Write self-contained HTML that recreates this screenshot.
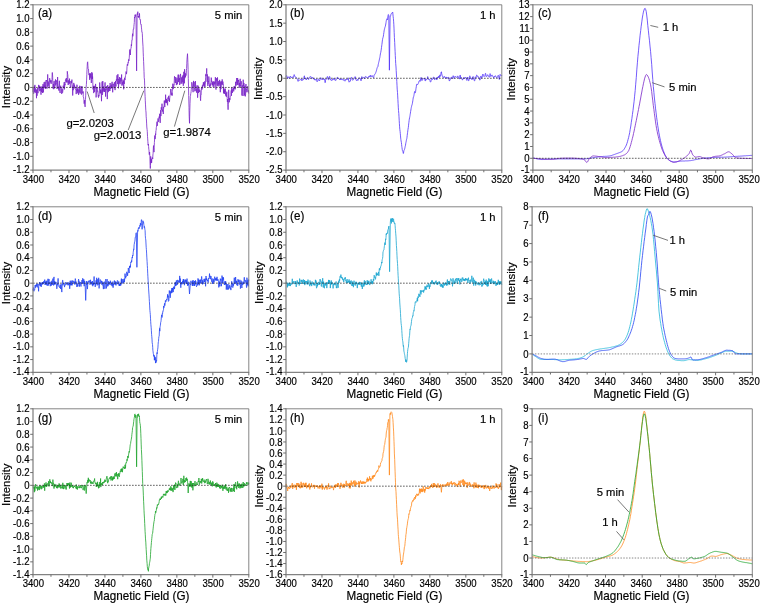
<!DOCTYPE html>
<html><head><meta charset="utf-8"><title>EPR spectra</title>
<style>html,body{margin:0;padding:0;background:#fff}svg{display:block}text{font-family:"Liberation Sans", Arial, sans-serif;fill:#000;stroke:#000;stroke-width:0.18px}</style>
</head><body>
<svg width="760" height="605" viewBox="0 0 760 605">
<rect width="760" height="605" fill="#fff"/>
<path d="M33.0,92.1 L33.2,87.9 L33.4,90.5 L33.6,93.8 L33.9,92.9 L34.1,89.7 L34.3,86.3 L34.5,91.8 L34.7,91.3 L34.9,84.9 L35.2,92.9 L35.4,92.3 L35.6,88.5 L35.8,88.9 L36.0,90.1 L36.2,90.5 L36.5,98.2 L36.7,89.7 L36.9,93.7 L37.1,95.7 L37.3,89.9 L37.5,88.1 L37.8,91.5 L38.0,93.2 L38.2,90.3 L38.4,89.1 L38.6,84.9 L38.8,86.1 L39.0,87.5 L39.3,85.7 L39.5,89.3 L39.7,91.2 L39.9,87.0 L40.1,86.5 L40.3,89.0 L40.6,90.4 L40.8,89.2 L41.0,94.7 L41.2,86.8 L41.4,86.7 L41.6,92.0 L41.9,88.6 L42.1,89.5 L42.3,86.5 L42.5,93.0 L42.7,90.2 L42.9,84.4 L43.2,83.9 L43.4,92.4 L43.6,88.7 L43.8,85.7 L44.0,86.7 L44.2,82.1 L44.4,88.1 L44.7,85.7 L44.9,87.4 L45.1,81.7 L45.3,84.6 L45.5,86.9 L45.7,89.0 L46.0,80.2 L46.2,80.8 L46.4,80.9 L46.6,80.1 L46.8,83.1 L47.0,88.6 L47.3,87.2 L47.5,84.3 L47.7,74.4 L47.9,85.8 L48.1,86.0 L48.3,85.4 L48.6,82.2 L48.8,81.5 L49.0,86.9 L49.2,88.3 L49.4,82.6 L49.6,78.1 L49.8,78.8 L50.1,80.1 L50.3,82.5 L50.5,81.4 L50.7,82.1 L50.9,80.0 L51.1,83.9 L51.4,82.1 L51.6,82.0 L51.8,80.4 L52.0,79.8 L52.2,72.5 L52.4,72.6 L52.7,77.3 L52.9,88.4 L53.1,87.4 L53.3,87.8 L53.5,84.0 L53.7,89.2 L54.0,81.2 L54.2,81.1 L54.4,88.0 L54.6,88.4 L54.8,87.5 L55.0,84.9 L55.2,82.2 L55.5,79.4 L55.7,85.4 L55.9,83.7 L56.1,84.0 L56.3,80.3 L56.5,82.2 L56.8,82.5 L57.0,89.0 L57.2,88.2 L57.4,87.1 L57.6,77.0 L57.8,83.2 L58.1,88.0 L58.3,88.6 L58.5,86.7 L58.7,90.0 L58.9,90.6 L59.1,85.6 L59.4,80.8 L59.6,88.9 L59.8,91.0 L60.0,93.0 L60.2,92.9 L60.4,87.2 L60.7,85.7 L60.9,88.0 L61.1,87.5 L61.3,87.6 L61.5,89.1 L61.7,93.9 L61.9,91.1 L62.2,89.1 L62.4,91.5 L62.6,92.7 L62.8,91.3 L63.0,88.8 L63.2,85.7 L63.5,88.1 L63.7,87.7 L63.9,84.2 L64.1,83.2 L64.3,82.0 L64.5,89.4 L64.8,83.9 L65.0,85.2 L65.2,83.5 L65.4,80.8 L65.6,79.5 L65.8,79.5 L66.1,80.9 L66.3,78.0 L66.5,82.2 L66.7,82.2 L66.9,80.4 L67.1,82.5 L67.3,71.3 L67.6,74.3 L67.8,74.7 L68.0,81.5 L68.2,85.0 L68.4,81.9 L68.6,80.4 L68.9,83.6 L69.1,81.9 L69.3,81.7 L69.5,78.6 L69.7,83.6 L69.9,81.0 L70.2,85.3 L70.4,87.2 L70.6,87.1 L70.8,87.6 L71.0,83.2 L71.2,81.1 L71.5,83.2 L71.7,81.9 L71.9,79.6 L72.1,83.2 L72.3,84.7 L72.5,88.3 L72.7,95.5 L73.0,86.7 L73.2,90.2 L73.4,85.0 L73.6,85.1 L73.8,82.9 L74.0,86.3 L74.3,88.4 L74.5,84.7 L74.7,87.9 L74.9,87.6 L75.1,86.8 L75.3,87.5 L75.6,88.3 L75.8,90.0 L76.0,89.7 L76.2,94.1 L76.4,90.1 L76.6,90.9 L76.9,84.7 L77.1,84.9 L77.3,93.3 L77.5,89.2 L77.7,89.5 L77.9,91.6 L78.1,88.3 L78.4,91.2 L78.6,94.9 L78.8,91.3 L79.0,90.1 L79.2,90.2 L79.4,92.5 L79.7,85.8 L79.9,87.8 L80.1,93.6 L80.3,93.1 L80.5,91.6 L80.7,91.6 L81.0,86.3 L81.2,90.3 L81.4,94.6 L81.6,94.5 L81.8,91.4 L82.0,86.2 L82.3,91.9 L82.5,92.5 L82.7,92.3 L82.9,93.4 L83.1,91.4 L83.3,96.8 L83.5,97.0 L83.8,98.9 L84.0,100.2 L84.2,103.7 L84.4,100.2 L84.6,103.6 L84.8,105.1 L85.1,106.9 L85.3,104.2 L85.5,99.5 L85.7,95.2 L85.9,90.5 L86.1,87.2 L86.4,84.3 L86.6,80.2 L86.8,74.5 L87.0,69.8 L87.2,66.5 L87.4,62.7 L87.7,61.8 L87.9,65.7 L88.1,68.6 L88.3,68.9 L88.5,69.0 L88.7,73.3 L88.9,74.8 L89.2,75.2 L89.4,73.4 L89.6,79.8 L89.8,75.6 L90.0,73.7 L90.2,77.7 L90.5,73.5 L90.7,75.8 L90.9,79.1 L91.1,79.0 L91.3,83.0 L91.5,79.6 L91.8,72.1 L92.0,78.7 L92.2,73.3 L92.4,78.9 L92.6,76.6 L92.8,82.9 L93.1,89.4 L93.3,86.6 L93.5,85.9 L93.7,93.1 L93.9,90.4 L94.1,86.1 L94.3,88.8 L94.6,91.9 L94.8,89.4 L95.0,85.8 L95.2,88.2 L95.4,85.1 L95.6,83.9 L95.9,89.4 L96.1,97.4 L96.3,94.5 L96.5,90.1 L96.7,87.6 L96.9,88.5 L97.2,87.0 L97.4,91.3 L97.6,90.8 L97.8,92.7 L98.0,93.5 L98.2,96.6 L98.5,97.6 L98.7,95.0 L98.9,96.3 L99.1,95.4 L99.3,90.8 L99.5,90.4 L99.7,82.5 L100.0,88.0 L100.2,93.2 L100.4,89.9 L100.6,91.0 L100.8,93.3 L101.0,89.5 L101.3,95.5 L101.5,101.2 L101.7,91.5 L101.9,91.0 L102.1,81.7 L102.3,94.9 L102.6,93.6 L102.8,81.1 L103.0,92.1 L103.2,90.2 L103.4,86.4 L103.6,89.7 L103.9,90.8 L104.1,89.9 L104.3,88.4 L104.5,92.0 L104.7,88.1 L104.9,84.1 L105.1,82.4 L105.4,91.0 L105.6,96.6 L105.8,89.1 L106.0,90.3 L106.2,88.9 L106.4,88.2 L106.7,86.2 L106.9,90.6 L107.1,93.4 L107.3,99.1 L107.5,94.3 L107.7,85.1 L108.0,90.2 L108.2,91.7 L108.4,92.1 L108.6,87.2 L108.8,88.0 L109.0,91.1 L109.3,86.5 L109.5,86.3 L109.7,86.2 L109.9,91.0 L110.1,83.0 L110.3,85.3 L110.5,87.8 L110.8,89.0 L111.0,87.7 L111.2,85.0 L111.4,87.9 L111.6,83.7 L111.8,83.7 L112.1,81.8 L112.3,83.5 L112.5,87.5 L112.7,92.3 L112.9,86.2 L113.1,83.7 L113.4,85.0 L113.6,84.7 L113.8,87.5 L114.0,88.1 L114.2,88.3 L114.4,82.2 L114.7,84.9 L114.9,87.9 L115.1,90.1 L115.3,86.0 L115.5,81.0 L115.7,83.6 L116.0,86.4 L116.2,80.5 L116.4,79.4 L116.6,80.7 L116.8,80.2 L117.0,75.3 L117.2,80.9 L117.5,82.3 L117.7,84.1 L117.9,74.2 L118.1,80.1 L118.3,78.9 L118.5,88.3 L118.8,82.2 L119.0,80.4 L119.2,83.5 L119.4,81.0 L119.6,77.0 L119.8,80.5 L120.1,84.2 L120.3,83.3 L120.5,78.9 L120.7,77.9 L120.9,81.0 L121.1,81.5 L121.4,79.7 L121.6,74.5 L121.8,83.8 L122.0,85.7 L122.2,82.2 L122.4,84.5 L122.6,83.1 L122.9,80.5 L123.1,79.6 L123.3,82.7 L123.5,80.8 L123.7,89.3 L123.9,81.3 L124.2,84.0 L124.4,83.0 L124.6,77.8 L124.8,79.4 L125.0,80.1 L125.2,78.3 L125.5,75.5 L125.7,75.3 L125.9,74.0 L126.1,71.5 L126.3,73.7 L126.5,74.0 L126.8,71.2 L127.0,66.5 L127.2,65.1 L127.4,64.1 L127.6,65.7 L127.8,65.1 L128.0,62.6 L128.3,63.1 L128.5,60.2 L128.7,59.4 L128.9,60.9 L129.1,59.3 L129.3,57.1 L129.6,52.0 L129.8,49.5 L130.0,53.0 L130.2,53.2 L130.4,55.0 L130.6,50.0 L130.9,48.4 L131.1,48.1 L131.3,44.5 L131.5,45.9 L131.7,43.0 L131.9,40.1 L132.2,40.1 L132.4,35.5 L132.6,33.7 L132.8,36.3 L133.0,34.8 L133.2,30.0 L133.4,29.0 L133.7,29.1 L133.9,26.3 L134.1,24.3 L134.3,22.5 L134.5,17.1 L134.7,18.0 L135.0,14.8 L135.2,15.0 L135.4,16.5 L135.6,15.3 L135.8,14.5 L136.0,16.9 L136.6,70.9 L137.1,15.8 L137.3,13.5 L137.6,14.5 L137.8,11.7 L138.0,15.3 L138.2,17.1 L138.4,16.0 L138.6,17.6 L138.8,16.6 L139.1,16.9 L139.3,15.9 L139.5,13.4 L139.7,18.7 L139.9,19.4 L140.1,20.0 L140.4,19.7 L140.6,23.9 L140.8,24.3 L141.0,24.0 L141.2,24.5 L141.4,27.1 L141.7,29.9 L141.9,32.1 L142.1,32.1 L142.3,33.4 L142.5,37.9 L142.7,42.0 L143.0,46.4 L143.2,52.1 L143.4,56.7 L143.6,61.5 L143.8,66.1 L144.0,71.5 L144.2,77.3 L144.5,80.1 L144.7,85.7 L144.9,92.1 L145.1,96.4 L145.3,100.8 L145.5,104.9 L145.8,110.5 L146.0,112.0 L146.2,116.8 L146.4,118.8 L146.6,123.1 L146.8,127.0 L147.1,129.6 L147.3,131.6 L147.5,136.3 L147.7,138.9 L147.9,141.8 L148.1,145.2 L148.4,144.0 L148.6,146.5 L148.8,149.2 L149.0,150.1 L149.2,154.6 L149.4,154.6 L149.6,152.0 L149.9,156.8 L150.1,165.3 L150.3,168.5 L150.5,165.5 L150.7,156.4 L150.9,163.2 L151.2,162.9 L151.4,159.2 L151.6,162.8 L151.8,160.4 L152.0,158.0 L152.2,157.6 L152.5,157.6 L152.7,159.0 L152.9,154.9 L153.1,153.5 L153.3,148.9 L153.5,145.6 L153.8,150.2 L154.0,152.1 L154.2,147.2 L154.4,142.5 L154.6,139.0 L154.8,135.5 L155.0,139.1 L155.3,138.0 L155.5,133.7 L155.7,134.8 L155.9,130.7 L156.1,130.5 L156.3,127.7 L156.6,126.1 L156.8,124.3 L157.0,121.7 L157.2,125.9 L157.4,123.6 L157.6,122.5 L157.9,120.0 L158.1,118.4 L158.3,121.0 L158.5,121.9 L158.7,121.3 L158.9,119.2 L159.2,116.6 L159.4,118.2 L159.6,113.8 L159.8,114.0 L160.0,117.9 L160.2,122.9 L160.4,114.4 L160.7,110.2 L160.9,116.1 L161.1,109.7 L161.3,107.3 L161.5,109.7 L161.7,108.5 L162.0,103.7 L162.2,106.3 L162.4,111.5 L162.6,109.9 L162.8,109.5 L163.0,110.7 L163.3,114.0 L163.5,107.2 L163.7,108.3 L163.9,106.1 L164.1,105.4 L164.3,100.6 L164.6,105.6 L164.8,107.0 L165.0,103.0 L165.2,100.5 L165.4,102.3 L165.6,94.7 L165.8,100.9 L166.1,103.1 L166.3,98.9 L166.5,102.7 L166.7,99.4 L166.9,101.6 L167.1,100.3 L167.4,104.3 L167.6,105.3 L167.8,97.6 L168.0,98.0 L168.2,98.6 L168.4,98.8 L168.7,95.8 L168.9,100.9 L169.1,100.5 L169.3,98.5 L169.5,101.8 L169.7,98.4 L170.0,95.7 L170.2,95.1 L170.4,94.0 L170.6,89.1 L170.8,89.3 L171.0,89.1 L171.3,91.8 L171.5,93.5 L171.7,95.1 L171.9,93.1 L172.1,95.7 L172.3,91.6 L172.5,86.6 L172.8,83.7 L173.0,85.3 L173.2,89.1 L173.4,86.7 L173.6,88.0 L173.8,84.6 L174.1,85.2 L174.3,80.1 L174.5,76.3 L174.7,77.7 L174.9,77.3 L175.1,81.9 L175.4,83.0 L175.6,78.3 L175.8,77.1 L176.0,82.2 L176.2,82.2 L176.4,85.1 L176.7,81.6 L176.9,78.2 L177.1,80.5 L177.3,82.7 L177.5,84.3 L177.7,79.2 L177.9,76.3 L178.2,74.6 L178.4,78.6 L178.6,82.1 L178.8,74.8 L179.0,78.5 L179.2,79.8 L179.5,78.2 L179.7,85.0 L179.9,80.3 L180.1,78.9 L180.3,76.7 L180.5,73.9 L180.8,77.2 L181.0,83.8 L181.2,80.2 L181.4,77.5 L181.6,77.6 L181.8,82.7 L182.1,83.5 L182.3,76.9 L182.5,76.4 L182.7,78.6 L182.9,81.9 L183.1,74.9 L183.3,85.8 L183.6,80.6 L183.8,71.8 L184.0,76.8 L184.2,77.2 L184.4,83.3 L184.6,69.2 L184.9,78.2 L185.1,76.2 L185.3,75.8 L185.5,77.0 L185.7,73.3 L185.9,75.7 L186.2,73.5 L186.4,70.8 L186.6,68.5 L186.8,63.8 L187.0,59.3 L187.5,53.7 L187.9,62.4 L188.1,69.4 L188.3,78.4 L188.5,86.1 L188.7,95.6 L189.0,107.3 L189.2,116.2 L189.5,123.3 L189.8,110.5 L190.0,103.3 L190.3,96.3 L190.5,95.8 L190.7,93.5 L190.9,93.3 L191.1,91.4 L191.3,89.3 L191.6,86.3 L191.8,82.2 L192.0,84.1 L192.2,83.9 L192.4,86.0 L192.6,87.4 L192.9,90.0 L193.1,92.2 L193.3,86.1 L193.5,80.9 L193.7,84.2 L193.9,86.7 L194.1,81.9 L194.4,87.2 L194.6,89.4 L194.8,91.3 L195.0,90.5 L195.2,87.0 L195.4,81.1 L195.7,87.1 L195.9,90.7 L196.1,89.8 L196.3,89.3 L196.5,92.6 L196.7,87.7 L197.0,85.4 L197.2,86.2 L197.4,87.9 L197.6,97.7 L197.8,94.3 L198.0,85.6 L198.3,86.3 L198.5,93.0 L198.7,89.9 L198.9,89.5 L199.1,88.5 L199.3,89.8 L199.5,91.8 L199.8,90.4 L200.0,90.3 L200.2,92.1 L200.4,98.4 L200.6,100.7 L200.8,95.4 L201.1,95.2 L201.3,89.9 L201.5,87.6 L201.7,88.5 L201.9,89.7 L202.1,87.9 L202.4,85.4 L202.6,88.3 L202.8,84.7 L203.0,84.2 L203.2,84.3 L203.4,82.1 L203.7,85.7 L203.9,83.0 L204.1,86.4 L204.3,86.5 L204.5,85.5 L204.7,81.4 L204.9,87.0 L205.2,82.8 L205.4,82.9 L205.6,77.2 L205.8,74.3 L206.0,76.0 L206.2,73.8 L206.5,73.1 L206.7,68.4 L206.9,75.3 L207.1,81.8 L207.3,74.4 L207.5,79.0 L207.8,85.9 L208.0,82.5 L208.2,83.6 L208.4,81.0 L208.6,81.8 L208.8,76.5 L209.1,79.0 L209.3,85.6 L209.5,86.4 L209.7,85.0 L209.9,87.7 L210.1,83.9 L210.3,83.5 L210.6,85.7 L210.8,85.0 L211.0,81.2 L211.2,77.6 L211.4,77.8 L211.6,81.7 L211.9,80.9 L212.1,84.5 L212.3,82.7 L212.5,85.0 L212.7,81.8 L212.9,86.4 L213.2,86.0 L213.4,82.6 L213.6,81.4 L213.8,87.0 L214.0,86.9 L214.2,82.2 L214.5,81.7 L214.7,84.4 L214.9,82.5 L215.1,83.2 L215.3,77.1 L215.5,77.6 L215.7,86.7 L216.0,89.6 L216.2,81.9 L216.4,78.2 L216.6,80.4 L216.8,79.7 L217.0,84.1 L217.3,85.7 L217.5,77.4 L217.7,80.7 L217.9,81.2 L218.1,86.3 L218.3,83.3 L218.6,84.1 L218.8,81.1 L219.0,84.6 L219.2,85.5 L219.4,84.5 L219.6,79.9 L219.9,83.1 L220.1,87.2 L220.3,92.2 L220.5,87.6 L220.7,81.5 L220.9,89.2 L221.1,87.6 L221.4,82.8 L221.6,81.4 L221.8,84.6 L222.0,82.3 L222.2,79.4 L222.4,82.2 L222.7,84.7 L222.9,81.6 L223.1,83.6 L223.3,83.9 L223.5,93.4 L223.7,87.1 L224.0,91.4 L224.2,92.5 L224.4,89.4 L224.6,93.9 L224.8,90.6 L225.0,92.5 L225.3,88.6 L225.5,92.3 L225.7,95.6 L225.9,93.1 L226.1,93.0 L226.3,96.8 L226.6,94.6 L226.8,91.7 L227.0,94.7 L227.2,98.5 L227.4,101.9 L227.6,99.0 L227.8,104.9 L228.1,109.7 L228.3,104.2 L228.5,100.7 L228.7,89.8 L228.9,97.0 L229.1,102.3 L229.4,102.1 L229.6,98.1 L229.8,100.1 L230.0,99.4 L230.2,97.5 L230.4,96.3 L230.7,95.6 L230.9,94.5 L231.1,90.9 L231.3,90.3 L231.5,95.8 L231.7,87.6 L232.0,90.6 L232.2,89.4 L232.4,92.9 L232.6,90.8 L232.8,90.2 L233.0,89.7 L233.2,87.6 L233.5,88.1 L233.7,91.4 L233.9,89.1 L234.1,86.1 L234.3,86.0 L234.5,89.0 L234.8,88.7 L235.0,87.5 L235.2,89.4 L235.4,88.6 L235.6,81.8 L235.8,85.0 L236.1,84.8 L236.3,85.5 L236.5,79.6 L236.7,78.0 L236.9,83.0 L237.1,82.6 L237.4,84.7 L237.6,78.0 L237.8,80.2 L238.0,85.1 L238.2,80.1 L238.4,81.3 L238.6,79.9 L238.9,82.5 L239.1,86.5 L239.3,87.8 L239.5,82.9 L239.7,84.5 L239.9,86.0 L240.2,78.8 L240.4,84.2 L240.6,86.7 L240.8,86.6 L241.0,82.4 L241.2,81.2 L241.5,83.0 L241.7,84.3 L241.9,95.5 L242.1,88.6 L242.3,86.9 L242.5,85.4 L242.8,86.9 L243.0,96.0 L243.2,79.7 L243.4,86.4 L243.6,84.9 L243.8,82.9 L244.0,83.1 L244.3,86.8 L244.5,95.5 L244.7,91.1 L244.9,85.8 L245.1,90.7 L245.3,96.4 L245.6,94.9 L245.8,84.8 L246.0,84.0 L246.2,90.1 L246.4,89.4 L246.6,89.7 L246.9,92.3 L247.1,90.5 L247.3,88.6 L247.5,87.4 L247.7,86.3 L247.9,89.8 L248.2,91.7 L248.4,90.4 L248.6,93.4 L248.8,93.7" fill="none" stroke="#7824c8" stroke-width="0.8" stroke-linejoin="round"/>
<line x1="33.0" y1="87.45" x2="248.8" y2="87.45" stroke="#222" stroke-width="0.7" stroke-dasharray="1.7 1.3"/>
<path d="M33.0,4.8 H248.8 V170.1" fill="none" stroke="#777" stroke-width="0.9"/>
<path d="M33.0,4.35 V170.1 H249.25" fill="none" stroke="#828282" stroke-width="1.25"/>
<line x1="33.00" y1="170.1" x2="33.00" y2="173.1" stroke="#6e6e6e" stroke-width="1"/>
<text transform="translate(33.30,182.70) scale(0.93,1)" font-size="10.3" text-anchor="middle">3400</text>
<line x1="50.98" y1="170.1" x2="50.98" y2="172.29999999999998" stroke="#6e6e6e" stroke-width="1"/>
<line x1="68.97" y1="170.1" x2="68.97" y2="173.1" stroke="#6e6e6e" stroke-width="1"/>
<text transform="translate(69.26,182.70) scale(0.93,1)" font-size="10.3" text-anchor="middle">3420</text>
<line x1="86.95" y1="170.1" x2="86.95" y2="172.29999999999998" stroke="#6e6e6e" stroke-width="1"/>
<line x1="104.93" y1="170.1" x2="104.93" y2="173.1" stroke="#6e6e6e" stroke-width="1"/>
<text transform="translate(105.22,182.70) scale(0.93,1)" font-size="10.3" text-anchor="middle">3440</text>
<line x1="122.92" y1="170.1" x2="122.92" y2="172.29999999999998" stroke="#6e6e6e" stroke-width="1"/>
<line x1="140.90" y1="170.1" x2="140.90" y2="173.1" stroke="#6e6e6e" stroke-width="1"/>
<text transform="translate(141.18,182.70) scale(0.93,1)" font-size="10.3" text-anchor="middle">3460</text>
<line x1="158.88" y1="170.1" x2="158.88" y2="172.29999999999998" stroke="#6e6e6e" stroke-width="1"/>
<line x1="176.87" y1="170.1" x2="176.87" y2="173.1" stroke="#6e6e6e" stroke-width="1"/>
<text transform="translate(177.14,182.70) scale(0.93,1)" font-size="10.3" text-anchor="middle">3480</text>
<line x1="194.85" y1="170.1" x2="194.85" y2="172.29999999999998" stroke="#6e6e6e" stroke-width="1"/>
<line x1="212.83" y1="170.1" x2="212.83" y2="173.1" stroke="#6e6e6e" stroke-width="1"/>
<text transform="translate(213.10,182.70) scale(0.93,1)" font-size="10.3" text-anchor="middle">3500</text>
<line x1="230.82" y1="170.1" x2="230.82" y2="172.29999999999998" stroke="#6e6e6e" stroke-width="1"/>
<line x1="248.80" y1="170.1" x2="248.80" y2="173.1" stroke="#6e6e6e" stroke-width="1"/>
<text transform="translate(249.06,182.70) scale(0.93,1)" font-size="10.3" text-anchor="middle">3520</text>
<line x1="30.2" y1="170.10" x2="33.0" y2="170.10" stroke="#6e6e6e" stroke-width="1"/>
<text transform="translate(29.60,173.00) scale(0.93,1)" font-size="10.3" text-anchor="end">-1.2</text>
<line x1="30.2" y1="156.32" x2="33.0" y2="156.32" stroke="#6e6e6e" stroke-width="1"/>
<text transform="translate(29.60,159.92) scale(0.93,1)" font-size="10.3" text-anchor="end">-1.0</text>
<line x1="30.2" y1="142.55" x2="33.0" y2="142.55" stroke="#6e6e6e" stroke-width="1"/>
<text transform="translate(29.60,146.15) scale(0.93,1)" font-size="10.3" text-anchor="end">-0.8</text>
<line x1="30.2" y1="128.78" x2="33.0" y2="128.78" stroke="#6e6e6e" stroke-width="1"/>
<text transform="translate(29.60,132.38) scale(0.93,1)" font-size="10.3" text-anchor="end">-0.6</text>
<line x1="30.2" y1="115.00" x2="33.0" y2="115.00" stroke="#6e6e6e" stroke-width="1"/>
<text transform="translate(29.60,118.60) scale(0.93,1)" font-size="10.3" text-anchor="end">-0.4</text>
<line x1="30.2" y1="101.22" x2="33.0" y2="101.22" stroke="#6e6e6e" stroke-width="1"/>
<text transform="translate(29.60,104.82) scale(0.93,1)" font-size="10.3" text-anchor="end">-0.2</text>
<line x1="30.2" y1="87.45" x2="33.0" y2="87.45" stroke="#6e6e6e" stroke-width="1"/>
<text transform="translate(29.60,91.05) scale(0.93,1)" font-size="10.3" text-anchor="end">0</text>
<line x1="30.2" y1="73.67" x2="33.0" y2="73.67" stroke="#6e6e6e" stroke-width="1"/>
<text transform="translate(29.60,77.27) scale(0.93,1)" font-size="10.3" text-anchor="end">0.2</text>
<line x1="30.2" y1="59.90" x2="33.0" y2="59.90" stroke="#6e6e6e" stroke-width="1"/>
<text transform="translate(29.60,63.50) scale(0.93,1)" font-size="10.3" text-anchor="end">0.4</text>
<line x1="30.2" y1="46.12" x2="33.0" y2="46.12" stroke="#6e6e6e" stroke-width="1"/>
<text transform="translate(29.60,49.73) scale(0.93,1)" font-size="10.3" text-anchor="end">0.6</text>
<line x1="30.2" y1="32.35" x2="33.0" y2="32.35" stroke="#6e6e6e" stroke-width="1"/>
<text transform="translate(29.60,35.95) scale(0.93,1)" font-size="10.3" text-anchor="end">0.8</text>
<line x1="30.2" y1="18.57" x2="33.0" y2="18.57" stroke="#6e6e6e" stroke-width="1"/>
<text transform="translate(29.60,22.17) scale(0.93,1)" font-size="10.3" text-anchor="end">1.0</text>
<line x1="30.2" y1="4.80" x2="33.0" y2="4.80" stroke="#6e6e6e" stroke-width="1"/>
<text transform="translate(29.60,8.40) scale(0.93,1)" font-size="10.3" text-anchor="end">1.2</text>
<text transform="translate(141.50,195.80) scale(0.98,1)" font-size="11.9" text-anchor="middle">Magnetic Field (G)</text>
<text transform="translate(10.00,87.00) scale(0.9,1) rotate(-90)" font-size="11.4" text-anchor="middle">Intensity</text>
<text transform="translate(37.90,17.30) scale(0.95,1)" font-size="12.3" text-anchor="start">(a)</text>
<text transform="translate(214.80,18.70) scale(0.96,1)" font-size="11.7" text-anchor="start">5 min</text>
<text transform="translate(66.40,126.60) scale(0.96,1)" font-size="11.8" text-anchor="start">g=2.0203</text>
<text transform="translate(93.80,138.60) scale(0.96,1)" font-size="11.8" text-anchor="start">g=2.0013</text>
<text transform="translate(163.30,136.40) scale(0.96,1)" font-size="11.8" text-anchor="start">g=1.9874</text>
<line x1="87.20" y1="91.50" x2="94.20" y2="113.00" stroke="#555" stroke-width="0.8"/>
<line x1="143.80" y1="90.70" x2="128.20" y2="130.00" stroke="#555" stroke-width="0.8"/>
<line x1="184.80" y1="90.70" x2="174.40" y2="126.60" stroke="#555" stroke-width="0.8"/>
<path d="M286.0,76.7 L286.2,76.1 L286.4,75.8 L286.6,75.6 L286.9,75.8 L287.1,77.0 L287.3,78.3 L287.5,78.5 L287.7,77.9 L287.9,77.4 L288.2,77.1 L288.4,76.8 L288.6,76.9 L288.8,77.6 L289.0,78.3 L289.2,78.4 L289.5,78.1 L289.7,77.7 L289.9,77.2 L290.1,76.5 L290.3,76.1 L290.5,76.4 L290.8,77.1 L291.0,77.5 L291.2,77.4 L291.4,77.3 L291.6,77.6 L291.8,77.9 L292.0,77.6 L292.3,77.0 L292.5,76.8 L292.7,76.9 L292.9,77.3 L293.1,77.6 L293.3,77.5 L293.6,76.9 L293.8,75.8 L294.0,74.9 L294.2,74.6 L294.4,75.0 L294.6,75.7 L294.9,76.4 L295.1,77.0 L295.3,77.0 L295.5,77.0 L295.7,77.2 L295.9,77.5 L296.2,77.6 L296.4,77.7 L296.6,77.9 L296.8,78.0 L297.0,78.2 L297.2,78.8 L297.4,79.5 L297.7,80.0 L297.9,80.9 L298.1,81.4 L298.3,80.7 L298.5,79.7 L298.7,79.6 L299.0,80.0 L299.2,80.1 L299.4,80.1 L299.6,80.2 L299.8,80.2 L300.0,80.0 L300.3,79.9 L300.5,79.8 L300.7,79.5 L300.9,79.2 L301.1,78.8 L301.3,78.8 L301.6,79.7 L301.8,80.7 L302.0,80.9 L302.2,80.3 L302.4,79.6 L302.6,79.4 L302.8,79.5 L303.1,79.8 L303.3,79.8 L303.5,79.4 L303.7,78.9 L303.9,77.9 L304.1,76.5 L304.4,75.8 L304.6,77.2 L304.8,78.7 L305.0,78.7 L305.2,78.2 L305.4,78.2 L305.7,78.5 L305.9,79.1 L306.1,79.8 L306.3,80.0 L306.5,79.4 L306.7,78.6 L307.0,77.9 L307.2,77.6 L307.4,77.4 L307.6,77.5 L307.8,78.1 L308.0,78.7 L308.2,79.2 L308.5,79.6 L308.7,79.4 L308.9,78.9 L309.1,78.4 L309.3,78.1 L309.5,77.5 L309.8,76.9 L310.0,76.7 L310.2,76.9 L310.4,76.9 L310.6,76.6 L310.8,76.5 L311.1,76.9 L311.3,77.5 L311.5,78.2 L311.7,78.7 L311.9,78.5 L312.1,77.8 L312.4,77.3 L312.6,77.5 L312.8,78.1 L313.0,78.4 L313.2,78.1 L313.4,78.2 L313.7,78.3 L313.9,78.2 L314.1,78.8 L314.3,79.9 L314.5,80.1 L314.7,79.5 L314.9,79.1 L315.2,79.4 L315.4,79.8 L315.6,80.1 L315.8,80.2 L316.0,80.0 L316.2,79.3 L316.5,79.0 L316.7,79.7 L316.9,81.1 L317.1,81.8 L317.3,81.6 L317.5,81.2 L317.8,80.9 L318.0,80.2 L318.2,79.2 L318.4,78.8 L318.6,79.0 L318.8,79.2 L319.1,79.8 L319.3,80.8 L319.5,81.0 L319.7,80.4 L319.9,79.8 L320.1,79.6 L320.3,79.4 L320.6,78.6 L320.8,77.7 L321.0,77.8 L321.2,78.6 L321.4,79.0 L321.6,79.0 L321.9,79.5 L322.1,79.9 L322.3,79.6 L322.5,79.0 L322.7,78.8 L322.9,79.1 L323.2,79.4 L323.4,79.1 L323.6,78.6 L323.8,78.6 L324.0,79.4 L324.2,79.9 L324.5,79.5 L324.7,79.4 L324.9,81.1 L325.1,82.7 L325.3,82.2 L325.5,80.5 L325.7,79.5 L326.0,79.3 L326.2,79.1 L326.4,79.1 L326.6,79.2 L326.8,78.5 L327.0,77.3 L327.3,76.5 L327.5,76.6 L327.7,77.4 L327.9,78.2 L328.1,79.1 L328.3,79.7 L328.6,79.9 L328.8,79.4 L329.0,78.2 L329.2,77.2 L329.4,76.5 L329.6,76.3 L329.9,76.9 L330.1,78.1 L330.3,79.3 L330.5,79.8 L330.7,79.6 L330.9,79.6 L331.1,80.3 L331.4,80.4 L331.6,79.9 L331.8,79.9 L332.0,80.3 L332.2,80.2 L332.4,79.6 L332.7,79.1 L332.9,79.0 L333.1,79.4 L333.3,79.5 L333.5,79.0 L333.7,78.3 L334.0,78.2 L334.2,78.7 L334.4,79.6 L334.6,80.1 L334.8,80.0 L335.0,79.5 L335.3,79.7 L335.5,80.3 L335.7,80.6 L335.9,80.2 L336.1,79.8 L336.3,79.6 L336.5,79.3 L336.8,78.8 L337.0,78.1 L337.2,77.5 L337.4,77.2 L337.6,77.3 L337.8,78.1 L338.1,78.8 L338.3,79.0 L338.5,78.8 L338.7,78.6 L338.9,78.4 L339.1,78.7 L339.4,79.5 L339.6,79.7 L339.8,79.2 L340.0,79.0 L340.2,79.6 L340.4,79.8 L340.7,79.1 L340.9,78.6 L341.1,79.0 L341.3,79.4 L341.5,79.5 L341.7,79.6 L341.9,79.6 L342.2,79.3 L342.4,78.9 L342.6,78.8 L342.8,79.3 L343.0,80.0 L343.2,80.4 L343.5,80.1 L343.7,79.7 L343.9,79.6 L344.1,79.6 L344.3,79.7 L344.5,79.9 L344.8,80.6 L345.0,81.2 L345.2,80.6 L345.4,79.7 L345.6,79.4 L345.8,79.8 L346.1,80.0 L346.3,79.7 L346.5,79.3 L346.7,79.1 L346.9,79.4 L347.1,79.8 L347.3,79.6 L347.6,79.1 L347.8,78.5 L348.0,78.2 L348.2,77.8 L348.4,78.3 L348.6,80.0 L348.9,81.7 L349.1,82.2 L349.3,81.8 L349.5,81.3 L349.7,81.1 L349.9,81.0 L350.2,81.2 L350.4,81.2 L350.6,80.1 L350.8,78.5 L351.0,77.6 L351.2,77.5 L351.5,77.5 L351.7,77.5 L351.9,78.1 L352.1,79.1 L352.3,79.9 L352.5,80.1 L352.7,80.2 L353.0,80.2 L353.2,79.9 L353.4,79.5 L353.6,79.1 L353.8,79.1 L354.0,79.0 L354.3,78.4 L354.5,77.6 L354.7,77.1 L354.9,76.8 L355.1,76.6 L355.3,76.9 L355.6,78.0 L355.8,79.1 L356.0,79.9 L356.2,80.3 L356.4,80.5 L356.6,80.5 L356.9,80.5 L357.1,80.1 L357.3,79.5 L357.5,79.5 L357.7,80.1 L357.9,80.5 L358.1,80.1 L358.4,79.4 L358.6,79.0 L358.8,78.6 L359.0,78.3 L359.2,77.9 L359.4,77.7 L359.7,78.0 L359.9,78.5 L360.1,78.6 L360.3,78.4 L360.5,78.8 L360.7,79.8 L361.0,80.8 L361.2,80.4 L361.4,78.8 L361.6,77.2 L361.8,76.6 L362.0,76.8 L362.3,77.5 L362.5,78.2 L362.7,78.5 L362.9,78.2 L363.1,77.9 L363.3,77.6 L363.5,77.4 L363.8,77.3 L364.0,77.5 L364.2,78.1 L364.4,78.6 L364.6,78.5 L364.8,77.8 L365.1,77.1 L365.3,76.6 L365.5,76.4 L365.7,76.3 L365.9,76.5 L366.1,77.1 L366.4,77.4 L366.6,77.2 L366.8,77.1 L367.0,77.5 L367.2,78.0 L367.4,78.2 L367.7,78.0 L367.9,77.7 L368.1,77.5 L368.3,77.6 L368.5,77.4 L368.7,76.6 L369.0,76.0 L369.2,76.2 L369.4,76.8 L369.6,77.1 L369.8,76.7 L370.0,75.8 L370.2,75.1 L370.5,75.5 L370.7,76.4 L370.9,76.9 L371.1,76.5 L371.3,75.9 L371.5,75.8 L371.8,76.2 L372.0,76.2 L372.2,75.8 L372.4,75.7 L372.6,76.3 L372.8,77.0 L373.1,77.3 L373.3,77.5 L373.5,77.8 L373.7,77.6 L373.9,76.3 L374.1,75.1 L374.4,74.7 L374.6,74.7 L374.8,74.4 L375.0,74.1 L375.2,73.8 L375.4,73.4 L375.6,72.8 L375.9,72.3 L376.1,71.7 L376.3,71.0 L376.5,70.3 L376.7,69.6 L376.9,68.7 L377.2,67.8 L377.4,67.3 L377.6,67.1 L377.8,66.9 L378.0,66.0 L378.2,64.7 L378.5,63.4 L378.7,62.5 L378.9,61.7 L379.1,60.9 L379.3,59.9 L379.5,58.8 L379.8,57.7 L380.0,56.5 L380.2,55.2 L380.4,53.9 L380.6,52.9 L380.8,52.2 L381.0,50.9 L381.3,49.1 L381.5,47.4 L381.7,45.9 L381.9,44.5 L382.1,43.0 L382.3,41.0 L382.6,39.3 L382.8,38.1 L383.0,37.6 L383.2,36.9 L383.4,36.0 L383.6,34.4 L383.9,32.5 L384.1,30.9 L384.3,29.8 L384.5,29.0 L384.7,28.3 L384.9,27.5 L385.2,26.7 L385.4,26.0 L385.6,25.1 L385.8,23.9 L386.0,22.6 L386.2,21.4 L386.4,20.3 L386.7,19.4 L386.9,18.8 L387.1,19.0 L387.3,19.8 L387.5,19.7 L387.7,18.1 L388.0,16.0 L388.2,14.7 L388.4,14.5 L388.6,15.0 L388.8,15.5 L389.4,70.2 L390.1,16.3 L390.3,16.4 L390.6,15.8 L390.8,14.8 L391.0,14.2 L391.2,13.7 L391.4,13.6 L391.6,13.6 L391.8,13.4 L392.1,13.1 L392.3,12.6 L392.5,12.0 L392.7,12.3 L392.9,13.9 L393.1,16.2 L393.4,18.6 L393.6,21.2 L393.8,24.2 L394.0,28.1 L394.2,32.7 L394.4,37.6 L394.7,42.5 L394.9,47.1 L395.1,51.3 L395.3,55.6 L395.5,59.6 L395.7,63.4 L396.0,67.0 L396.2,70.5 L396.4,74.0 L396.6,77.6 L396.8,81.4 L397.0,85.3 L397.2,89.1 L397.5,92.6 L397.7,95.9 L397.9,99.6 L398.1,103.5 L398.3,107.2 L398.5,110.5 L398.8,113.6 L399.0,116.8 L399.2,120.3 L399.4,123.7 L399.6,126.8 L399.8,129.3 L400.1,131.4 L400.3,133.5 L400.5,135.9 L400.7,138.1 L400.9,139.7 L401.1,141.0 L401.4,142.6 L401.6,144.5 L401.8,146.3 L402.0,147.7 L402.2,149.2 L402.4,150.4 L402.6,151.0 L402.9,151.5 L403.1,152.5 L403.3,153.5 L403.5,153.3 L403.7,151.8 L403.9,150.6 L404.2,150.1 L404.4,149.7 L404.6,149.1 L404.8,148.3 L405.0,147.4 L405.2,146.4 L405.5,145.2 L405.7,143.8 L405.9,142.7 L406.1,141.8 L406.3,140.7 L406.5,139.7 L406.8,138.6 L407.0,137.2 L407.2,135.5 L407.4,133.9 L407.6,132.4 L407.8,130.9 L408.0,129.3 L408.3,127.6 L408.5,125.8 L408.7,123.9 L408.9,122.3 L409.1,120.7 L409.3,119.1 L409.6,117.8 L409.8,116.7 L410.0,115.5 L410.2,114.3 L410.4,113.1 L410.6,111.6 L410.9,110.0 L411.1,108.6 L411.3,107.5 L411.5,106.7 L411.7,105.9 L411.9,105.1 L412.2,104.3 L412.4,103.3 L412.6,102.1 L412.8,100.8 L413.0,99.4 L413.2,98.1 L413.4,97.1 L413.7,96.5 L413.9,95.6 L414.1,94.4 L414.3,93.1 L414.5,91.9 L414.7,91.4 L415.0,91.8 L415.2,92.5 L415.4,92.7 L415.6,91.5 L415.8,89.9 L416.0,88.3 L416.3,86.7 L416.5,85.1 L416.7,84.5 L416.9,84.0 L417.1,84.1 L417.3,84.6 L417.6,84.6 L417.8,84.4 L418.0,84.0 L418.2,83.6 L418.4,83.4 L418.6,82.8 L418.8,81.7 L419.1,81.1 L419.3,81.1 L419.5,80.8 L419.7,80.4 L419.9,80.8 L420.1,81.4 L420.4,80.7 L420.6,79.1 L420.8,77.9 L421.0,77.4 L421.2,77.6 L421.4,78.6 L421.7,80.0 L421.9,80.6 L422.1,80.5 L422.3,80.0 L422.5,79.3 L422.7,78.6 L423.0,78.5 L423.2,78.8 L423.4,78.8 L423.6,78.7 L423.8,78.9 L424.0,79.1 L424.3,78.5 L424.5,78.0 L424.7,78.5 L424.9,79.7 L425.1,80.8 L425.3,80.9 L425.5,80.0 L425.8,79.1 L426.0,79.1 L426.2,79.6 L426.4,79.8 L426.6,79.7 L426.8,79.6 L427.1,79.4 L427.3,78.6 L427.5,77.3 L427.7,76.6 L427.9,77.4 L428.1,78.4 L428.4,79.1 L428.6,79.6 L428.8,79.8 L429.0,79.6 L429.2,79.3 L429.4,79.4 L429.7,79.6 L429.9,80.2 L430.1,81.4 L430.3,81.9 L430.5,81.9 L430.7,81.9 L430.9,81.8 L431.2,80.1 L431.4,78.6 L431.6,78.2 L431.8,78.6 L432.0,79.1 L432.2,79.4 L432.5,79.5 L432.7,79.3 L432.9,78.6 L433.1,77.8 L433.3,77.2 L433.5,77.1 L433.8,77.3 L434.0,77.1 L434.2,77.4 L434.4,78.6 L434.6,79.7 L434.8,79.7 L435.1,79.1 L435.3,78.7 L435.5,78.8 L435.7,78.9 L435.9,78.4 L436.1,77.8 L436.3,77.9 L436.6,79.1 L436.8,79.9 L437.0,79.3 L437.2,78.1 L437.4,77.2 L437.6,77.0 L437.9,77.5 L438.1,78.0 L438.3,77.4 L438.5,76.3 L438.7,76.2 L438.9,77.0 L439.2,77.7 L439.4,77.2 L439.6,75.9 L439.8,74.9 L440.0,75.4 L440.2,76.2 L440.5,76.3 L440.7,75.5 L440.9,74.0 L441.1,72.1 L441.3,71.8 L441.5,71.9 L441.7,73.7 L442.0,74.8 L442.2,75.4 L442.4,76.0 L442.6,76.6 L442.8,77.2 L443.0,77.6 L443.3,77.8 L443.5,77.8 L443.7,77.5 L443.9,76.9 L444.1,76.4 L444.3,76.2 L444.6,76.5 L444.8,77.3 L445.0,77.9 L445.2,77.9 L445.4,77.7 L445.6,77.8 L445.9,78.3 L446.1,78.5 L446.3,78.0 L446.5,77.3 L446.7,77.0 L446.9,77.2 L447.1,77.6 L447.4,78.2 L447.6,78.4 L447.8,77.7 L448.0,77.1 L448.2,77.1 L448.4,77.3 L448.7,77.6 L448.9,78.5 L449.1,79.9 L449.3,81.0 L449.5,81.0 L449.7,80.5 L450.0,80.1 L450.2,79.7 L450.4,79.1 L450.6,78.3 L450.8,77.7 L451.0,77.3 L451.3,77.2 L451.5,77.5 L451.7,77.8 L451.9,78.2 L452.1,78.7 L452.3,78.6 L452.5,77.6 L452.8,76.6 L453.0,75.9 L453.2,75.7 L453.4,76.1 L453.6,77.2 L453.8,78.2 L454.1,78.5 L454.3,78.2 L454.5,77.8 L454.7,77.3 L454.9,76.5 L455.1,76.2 L455.4,76.6 L455.6,76.8 L455.8,76.7 L456.0,76.9 L456.2,77.1 L456.4,77.1 L456.7,77.2 L456.9,77.6 L457.1,77.7 L457.3,77.3 L457.5,76.5 L457.7,75.9 L457.9,76.1 L458.2,76.8 L458.4,77.4 L458.6,77.6 L458.8,77.7 L459.0,78.1 L459.2,78.8 L459.5,79.0 L459.7,77.9 L459.9,75.8 L460.1,75.1 L460.3,75.2 L460.5,77.1 L460.8,78.2 L461.0,78.2 L461.2,77.9 L461.4,77.6 L461.6,77.6 L461.8,78.2 L462.1,79.2 L462.3,80.0 L462.5,80.1 L462.7,79.6 L462.9,78.9 L463.1,78.6 L463.3,78.7 L463.6,78.4 L463.8,77.7 L464.0,77.3 L464.2,77.8 L464.4,78.5 L464.6,78.4 L464.9,78.1 L465.1,78.1 L465.3,77.9 L465.5,77.5 L465.7,77.2 L465.9,77.7 L466.2,78.6 L466.4,79.6 L466.6,80.2 L466.8,80.4 L467.0,80.0 L467.2,79.1 L467.5,77.8 L467.7,77.0 L467.9,77.6 L468.1,79.2 L468.3,80.5 L468.5,80.9 L468.7,80.8 L469.0,80.2 L469.2,79.0 L469.4,77.7 L469.6,76.5 L469.8,75.8 L470.0,76.3 L470.3,77.2 L470.5,77.9 L470.7,78.4 L470.9,78.5 L471.1,78.1 L471.3,78.0 L471.6,78.6 L471.8,79.5 L472.0,79.8 L472.2,79.2 L472.4,78.1 L472.6,77.0 L472.9,76.6 L473.1,76.6 L473.3,76.7 L473.5,76.9 L473.7,77.5 L473.9,79.0 L474.1,80.5 L474.4,80.7 L474.6,80.7 L474.8,80.7 L475.0,79.1 L475.2,77.4 L475.4,76.8 L475.7,77.1 L475.9,77.7 L476.1,77.6 L476.3,76.7 L476.5,75.6 L476.7,75.0 L477.0,75.3 L477.2,75.9 L477.4,76.0 L477.6,76.1 L477.8,76.8 L478.0,77.1 L478.3,76.8 L478.5,76.8 L478.7,77.3 L478.9,78.0 L479.1,78.1 L479.3,78.2 L479.6,79.0 L479.8,80.1 L480.0,80.1 L480.2,78.8 L480.4,77.2 L480.6,76.4 L480.8,76.2 L481.1,75.9 L481.3,76.4 L481.5,77.7 L481.7,78.3 L481.9,77.9 L482.1,77.3 L482.4,76.6 L482.6,75.4 L482.8,74.2 L483.0,74.0 L483.2,74.9 L483.4,75.8 L483.7,76.2 L483.9,76.6 L484.1,76.7 L484.3,76.5 L484.5,76.2 L484.7,75.9 L485.0,75.3 L485.2,74.2 L485.4,73.4 L485.6,73.3 L485.8,74.2 L486.0,76.1 L486.2,76.8 L486.5,76.7 L486.7,76.5 L486.9,76.3 L487.1,75.9 L487.3,75.3 L487.5,74.9 L487.8,74.7 L488.0,74.8 L488.2,75.5 L488.4,76.3 L488.6,76.5 L488.8,76.6 L489.1,77.0 L489.3,77.3 L489.5,76.7 L489.7,75.6 L489.9,74.3 L490.1,73.6 L490.4,74.4 L490.6,75.8 L490.8,76.5 L491.0,76.5 L491.2,76.3 L491.4,76.0 L491.6,75.4 L491.9,75.0 L492.1,74.9 L492.3,75.4 L492.5,76.0 L492.7,76.4 L492.9,76.5 L493.2,76.7 L493.4,77.2 L493.6,77.9 L493.8,77.9 L494.0,77.0 L494.2,76.3 L494.5,76.4 L494.7,76.7 L494.9,76.6 L495.1,76.1 L495.3,75.7 L495.5,75.8 L495.8,76.6 L496.0,77.2 L496.2,77.2 L496.4,77.1 L496.6,77.5 L496.8,77.8 L497.0,77.6 L497.3,77.0 L497.5,76.6 L497.7,76.3 L497.9,75.7 L498.1,75.3 L498.3,75.3 L498.6,75.9 L498.8,76.9 L499.0,78.2 L499.2,79.4 L499.4,79.4 L499.6,77.7 L499.9,75.5 L500.1,74.4 L500.3,74.7 L500.5,75.2 L500.7,75.3 L500.9,75.1 L501.2,75.4 L501.4,75.8 L501.6,75.8 L501.8,75.3" fill="none" stroke="#5032fa" stroke-width="0.8" stroke-linejoin="round"/>
<line x1="286.0" y1="78.27" x2="501.8" y2="78.27" stroke="#222" stroke-width="0.7" stroke-dasharray="1.7 1.3"/>
<path d="M286.0,4.8 H501.8 V170.1" fill="none" stroke="#777" stroke-width="0.9"/>
<path d="M286.0,4.35 V170.1 H502.25" fill="none" stroke="#828282" stroke-width="1.25"/>
<line x1="286.00" y1="170.1" x2="286.00" y2="173.1" stroke="#6e6e6e" stroke-width="1"/>
<text transform="translate(286.20,182.70) scale(0.93,1)" font-size="10.3" text-anchor="middle">3400</text>
<line x1="303.98" y1="170.1" x2="303.98" y2="172.29999999999998" stroke="#6e6e6e" stroke-width="1"/>
<line x1="321.97" y1="170.1" x2="321.97" y2="173.1" stroke="#6e6e6e" stroke-width="1"/>
<text transform="translate(322.16,182.70) scale(0.93,1)" font-size="10.3" text-anchor="middle">3420</text>
<line x1="339.95" y1="170.1" x2="339.95" y2="172.29999999999998" stroke="#6e6e6e" stroke-width="1"/>
<line x1="357.93" y1="170.1" x2="357.93" y2="173.1" stroke="#6e6e6e" stroke-width="1"/>
<text transform="translate(358.12,182.70) scale(0.93,1)" font-size="10.3" text-anchor="middle">3440</text>
<line x1="375.92" y1="170.1" x2="375.92" y2="172.29999999999998" stroke="#6e6e6e" stroke-width="1"/>
<line x1="393.90" y1="170.1" x2="393.90" y2="173.1" stroke="#6e6e6e" stroke-width="1"/>
<text transform="translate(394.08,182.70) scale(0.93,1)" font-size="10.3" text-anchor="middle">3460</text>
<line x1="411.88" y1="170.1" x2="411.88" y2="172.29999999999998" stroke="#6e6e6e" stroke-width="1"/>
<line x1="429.87" y1="170.1" x2="429.87" y2="173.1" stroke="#6e6e6e" stroke-width="1"/>
<text transform="translate(430.04,182.70) scale(0.93,1)" font-size="10.3" text-anchor="middle">3480</text>
<line x1="447.85" y1="170.1" x2="447.85" y2="172.29999999999998" stroke="#6e6e6e" stroke-width="1"/>
<line x1="465.83" y1="170.1" x2="465.83" y2="173.1" stroke="#6e6e6e" stroke-width="1"/>
<text transform="translate(466.00,182.70) scale(0.93,1)" font-size="10.3" text-anchor="middle">3500</text>
<line x1="483.82" y1="170.1" x2="483.82" y2="172.29999999999998" stroke="#6e6e6e" stroke-width="1"/>
<line x1="501.80" y1="170.1" x2="501.80" y2="173.1" stroke="#6e6e6e" stroke-width="1"/>
<text transform="translate(501.96,182.70) scale(0.93,1)" font-size="10.3" text-anchor="middle">3520</text>
<line x1="283.2" y1="170.10" x2="286.0" y2="170.10" stroke="#6e6e6e" stroke-width="1"/>
<text transform="translate(282.60,173.00) scale(0.93,1)" font-size="10.3" text-anchor="end">-2.5</text>
<line x1="283.2" y1="151.73" x2="286.0" y2="151.73" stroke="#6e6e6e" stroke-width="1"/>
<text transform="translate(282.60,155.33) scale(0.93,1)" font-size="10.3" text-anchor="end">-2.0</text>
<line x1="283.2" y1="133.37" x2="286.0" y2="133.37" stroke="#6e6e6e" stroke-width="1"/>
<text transform="translate(282.60,136.97) scale(0.93,1)" font-size="10.3" text-anchor="end">-1.5</text>
<line x1="283.2" y1="115.00" x2="286.0" y2="115.00" stroke="#6e6e6e" stroke-width="1"/>
<text transform="translate(282.60,118.60) scale(0.93,1)" font-size="10.3" text-anchor="end">-1.0</text>
<line x1="283.2" y1="96.63" x2="286.0" y2="96.63" stroke="#6e6e6e" stroke-width="1"/>
<text transform="translate(282.60,100.23) scale(0.93,1)" font-size="10.3" text-anchor="end">-0.5</text>
<line x1="283.2" y1="78.27" x2="286.0" y2="78.27" stroke="#6e6e6e" stroke-width="1"/>
<text transform="translate(282.60,81.87) scale(0.93,1)" font-size="10.3" text-anchor="end">0</text>
<line x1="283.2" y1="59.90" x2="286.0" y2="59.90" stroke="#6e6e6e" stroke-width="1"/>
<text transform="translate(282.60,63.50) scale(0.93,1)" font-size="10.3" text-anchor="end">0.5</text>
<line x1="283.2" y1="41.53" x2="286.0" y2="41.53" stroke="#6e6e6e" stroke-width="1"/>
<text transform="translate(282.60,45.13) scale(0.93,1)" font-size="10.3" text-anchor="end">1.0</text>
<line x1="283.2" y1="23.17" x2="286.0" y2="23.17" stroke="#6e6e6e" stroke-width="1"/>
<text transform="translate(282.60,26.77) scale(0.93,1)" font-size="10.3" text-anchor="end">1.5</text>
<line x1="283.2" y1="4.80" x2="286.0" y2="4.80" stroke="#6e6e6e" stroke-width="1"/>
<text transform="translate(282.60,8.40) scale(0.93,1)" font-size="10.3" text-anchor="end">2.0</text>
<text transform="translate(394.40,195.80) scale(0.98,1)" font-size="11.9" text-anchor="middle">Magnetic Field (G)</text>
<text transform="translate(262.30,78.80) scale(0.9,1) rotate(-90)" font-size="11.4" text-anchor="middle">Intensity</text>
<text transform="translate(290.00,17.30) scale(0.95,1)" font-size="12.3" text-anchor="start">(b)</text>
<text transform="translate(479.90,18.70) scale(0.96,1)" font-size="11.7" text-anchor="start">1 h</text>
<path d="M532.9,157.7 L533.4,157.9 L534.0,158.0 L534.5,158.2 L535.1,158.4 L535.6,158.5 L536.2,158.7 L536.7,158.8 L537.3,158.9 L537.8,159.0 L538.4,159.1 L538.9,159.2 L539.5,159.3 L540.0,159.4 L540.6,159.4 L541.1,159.5 L541.7,159.5 L542.2,159.5 L542.8,159.5 L543.3,159.4 L543.9,159.4 L544.4,159.4 L545.0,159.3 L545.5,159.3 L546.1,159.2 L546.6,159.2 L547.2,159.1 L547.7,159.1 L548.3,159.0 L548.8,159.0 L549.4,158.9 L549.9,158.9 L550.5,158.9 L551.0,158.9 L551.6,158.9 L552.1,158.9 L552.7,158.9 L553.2,158.9 L553.8,158.9 L554.3,158.9 L554.9,158.9 L555.4,158.9 L556.0,158.9 L556.5,158.9 L557.1,158.9 L557.6,158.9 L558.2,158.9 L558.7,158.9 L559.3,158.9 L559.8,158.9 L560.4,158.9 L560.9,158.9 L561.5,158.9 L562.0,158.9 L562.6,158.9 L563.1,158.9 L563.7,158.9 L564.2,158.9 L564.8,158.9 L565.3,158.9 L565.9,158.9 L566.4,158.9 L567.0,158.9 L567.5,158.9 L568.1,158.9 L568.6,158.9 L569.2,158.9 L569.7,158.9 L570.3,158.9 L570.8,158.9 L571.4,158.9 L571.9,158.9 L572.5,158.9 L573.0,158.9 L573.6,158.9 L574.1,158.9 L574.7,158.9 L575.2,158.9 L575.8,158.9 L576.3,158.9 L576.9,158.9 L577.4,158.9 L578.0,158.9 L578.5,158.9 L579.1,158.9 L579.6,158.9 L580.2,158.9 L580.7,158.9 L581.3,158.9 L581.8,158.9 L582.4,158.9 L582.9,158.9 L583.5,158.9 L584.0,158.9 L584.6,158.9 L585.1,158.9 L585.7,158.8 L586.2,158.8 L586.8,158.7 L587.3,158.6 L587.9,158.6 L588.4,158.5 L589.0,158.4 L589.5,158.3 L590.1,158.2 L590.6,158.1 L591.2,158.0 L591.7,157.9 L592.3,157.8 L592.8,157.8 L593.4,157.7 L593.9,157.6 L594.5,157.5 L595.0,157.4 L595.6,157.3 L596.1,157.3 L596.7,157.2 L597.2,157.1 L597.8,157.0 L598.3,156.9 L598.9,156.8 L599.4,156.8 L600.0,156.7 L600.5,156.6 L601.1,156.6 L601.6,156.5 L602.2,156.5 L602.7,156.5 L603.3,156.4 L603.8,156.4 L604.4,156.4 L604.9,156.4 L605.5,156.3 L606.0,156.3 L606.6,156.3 L607.1,156.2 L607.7,156.2 L608.2,156.1 L608.8,156.1 L609.3,156.0 L609.9,155.9 L610.4,155.8 L611.0,155.6 L611.5,155.5 L612.1,155.3 L612.6,155.1 L613.2,154.9 L613.7,154.7 L614.3,154.5 L614.8,154.3 L615.4,154.1 L615.9,153.9 L616.5,153.7 L617.0,153.5 L617.6,153.3 L618.1,153.1 L618.7,152.9 L619.2,152.7 L619.8,152.5 L620.3,152.3 L620.9,152.0 L621.4,151.8 L622.0,151.4 L622.5,151.0 L623.1,150.5 L623.6,149.9 L624.2,149.1 L624.7,148.2 L625.3,147.2 L625.8,146.2 L626.4,145.0 L626.9,143.5 L627.5,141.7 L628.0,139.7 L628.6,137.6 L629.1,135.3 L629.7,132.6 L630.2,129.4 L630.8,126.0 L631.3,122.3 L631.9,118.5 L632.4,114.6 L633.0,110.4 L633.5,106.0 L634.1,101.3 L634.6,96.2 L635.2,90.5 L635.7,84.2 L636.3,77.3 L636.8,69.9 L637.4,62.8 L637.9,56.6 L638.5,50.8 L639.0,45.3 L639.6,40.2 L640.1,35.2 L640.7,30.6 L641.2,26.2 L641.8,21.9 L642.3,18.0 L642.9,14.7 L643.4,12.1 L644.0,10.0 L644.5,8.7 L645.1,8.3 L645.6,9.3 L646.2,11.3 L646.7,15.0 L647.3,20.1 L647.8,25.6 L648.4,30.8 L648.9,35.7 L649.5,40.8 L650.0,46.1 L650.6,51.7 L651.1,57.6 L651.7,64.3 L652.2,72.0 L652.8,79.7 L653.3,86.4 L653.9,92.4 L654.4,98.0 L655.0,103.3 L655.5,108.2 L656.1,112.8 L656.6,117.2 L657.2,121.4 L657.7,125.3 L658.3,129.0 L658.8,132.3 L659.4,135.2 L659.9,138.0 L660.5,140.6 L661.0,143.0 L661.6,145.1 L662.1,147.0 L662.7,148.8 L663.2,150.4 L663.8,151.9 L664.3,153.2 L664.9,154.5 L665.4,155.7 L666.0,156.7 L666.5,157.7 L667.1,158.4 L667.6,158.9 L668.2,159.5 L668.7,159.9 L669.3,160.3 L669.8,160.7 L670.4,161.0 L670.9,161.2 L671.5,161.4 L672.0,161.5 L672.6,161.7 L673.1,161.8 L673.7,161.9 L674.2,161.9 L674.8,161.9 L675.3,161.9 L675.9,161.8 L676.4,161.8 L677.0,161.7 L677.5,161.6 L678.1,161.5 L678.6,161.4 L679.2,161.3 L679.7,161.2 L680.3,161.1 L680.8,161.1 L681.4,161.1 L681.9,161.0 L682.5,161.0 L683.0,161.0 L683.6,161.0 L684.1,161.0 L684.7,161.0 L685.2,160.9 L685.8,160.9 L686.3,160.9 L686.9,160.9 L687.4,160.9 L688.0,160.8 L688.5,160.8 L689.1,160.8 L689.6,160.7 L690.2,160.7 L690.7,160.6 L691.3,160.5 L691.8,160.4 L692.4,160.3 L692.9,160.2 L693.5,160.1 L694.0,159.9 L694.6,159.8 L695.1,159.7 L695.7,159.6 L696.2,159.5 L696.8,159.4 L697.3,159.3 L697.9,159.2 L698.4,159.1 L699.0,159.0 L699.5,158.9 L700.1,158.8 L700.6,158.7 L701.2,158.6 L701.7,158.6 L702.3,158.5 L702.8,158.4 L703.4,158.3 L703.9,158.2 L704.5,158.2 L705.0,158.1 L705.6,158.0 L706.1,158.0 L706.7,157.9 L707.2,157.9 L707.8,157.8 L708.3,157.8 L708.9,157.7 L709.4,157.7 L710.0,157.7 L710.5,157.6 L711.1,157.6 L711.6,157.6 L712.2,157.5 L712.7,157.5 L713.3,157.5 L713.8,157.4 L714.4,157.4 L714.9,157.4 L715.5,157.4 L716.0,157.3 L716.6,157.3 L717.1,157.3 L717.7,157.3 L718.2,157.3 L718.8,157.3 L719.3,157.3 L719.9,157.2 L720.4,157.2 L721.0,157.2 L721.5,157.2 L722.1,157.2 L722.6,157.2 L723.2,157.2 L723.7,157.2 L724.3,157.1 L724.8,157.1 L725.4,157.1 L725.9,157.1 L726.5,157.0 L727.0,157.0 L727.6,157.0 L728.1,156.9 L728.7,156.9 L729.2,156.9 L729.8,156.8 L730.3,156.8 L730.9,156.7 L731.4,156.7 L732.0,156.7 L732.5,156.6 L733.1,156.6 L733.6,156.5 L734.2,156.5 L734.7,156.5 L735.3,156.4 L735.8,156.4 L736.4,156.4 L736.9,156.3 L737.5,156.3 L738.0,156.3 L738.6,156.2 L739.1,156.2 L739.7,156.2 L740.2,156.1 L740.8,156.1 L741.3,156.1 L741.9,156.0 L742.4,156.0 L743.0,155.9 L743.5,155.9 L744.1,155.9 L744.6,155.8 L745.2,155.8 L745.7,155.8 L746.3,155.7 L746.8,155.7 L747.4,155.7 L747.9,155.6 L748.5,155.6 L749.0,155.6 L749.6,155.5 L750.1,155.5 L750.7,155.4 L751.2,155.4 L751.8,155.4 L752.3,155.3" fill="none" stroke="#5032fa" stroke-width="0.8" stroke-linejoin="round"/>
<path d="M532.9,158.3 L533.4,158.3 L534.0,158.4 L534.5,158.4 L535.1,158.4 L535.6,158.5 L536.2,158.5 L536.7,158.5 L537.3,158.6 L537.8,158.6 L538.4,158.6 L538.9,158.7 L539.5,158.7 L540.0,158.8 L540.6,158.8 L541.1,158.8 L541.7,158.9 L542.2,158.9 L542.8,158.9 L543.3,159.0 L543.9,159.0 L544.4,159.1 L545.0,159.1 L545.5,159.2 L546.1,159.2 L546.6,159.3 L547.2,159.3 L547.7,159.3 L548.3,159.4 L548.8,159.4 L549.4,159.4 L549.9,159.5 L550.5,159.5 L551.0,159.5 L551.6,159.5 L552.1,159.4 L552.7,159.4 L553.2,159.3 L553.8,159.3 L554.3,159.2 L554.9,159.1 L555.4,159.0 L556.0,158.9 L556.5,158.8 L557.1,158.7 L557.6,158.6 L558.2,158.5 L558.7,158.4 L559.3,158.4 L559.8,158.3 L560.4,158.3 L560.9,158.3 L561.5,158.2 L562.0,158.2 L562.6,158.2 L563.1,158.2 L563.7,158.2 L564.2,158.1 L564.8,158.1 L565.3,158.1 L565.9,158.1 L566.4,158.1 L567.0,158.1 L567.5,158.1 L568.1,158.1 L568.6,158.1 L569.2,158.1 L569.7,158.1 L570.3,158.1 L570.8,158.1 L571.4,158.1 L571.9,158.1 L572.5,158.1 L573.0,158.1 L573.6,158.2 L574.1,158.2 L574.7,158.2 L575.2,158.3 L575.8,158.3 L576.3,158.3 L576.9,158.4 L577.4,158.4 L578.0,158.5 L578.5,158.5 L579.1,158.6 L579.6,158.6 L580.2,158.7 L580.7,158.7 L581.3,158.8 L581.8,158.9 L582.4,159.0 L582.9,159.1 L583.5,159.3 L584.0,159.5 L584.6,159.8 L585.1,160.6 L585.7,161.4 L586.2,162.1 L586.8,162.4 L587.3,162.1 L587.9,161.3 L588.4,160.2 L589.0,159.1 L589.5,158.3 L590.1,157.8 L590.6,157.3 L591.2,156.9 L591.7,156.5 L592.3,156.2 L592.8,156.0 L593.4,155.9 L593.9,155.9 L594.5,156.0 L595.0,156.0 L595.6,156.1 L596.1,156.2 L596.7,156.2 L597.2,156.3 L597.8,156.4 L598.3,156.5 L598.9,156.5 L599.4,156.6 L600.0,156.7 L600.5,156.8 L601.1,156.9 L601.6,157.0 L602.2,157.1 L602.7,157.2 L603.3,157.3 L603.8,157.4 L604.4,157.5 L604.9,157.5 L605.5,157.6 L606.0,157.6 L606.6,157.6 L607.1,157.6 L607.7,157.6 L608.2,157.5 L608.8,157.5 L609.3,157.5 L609.9,157.4 L610.4,157.4 L611.0,157.4 L611.5,157.3 L612.1,157.3 L612.6,157.3 L613.2,157.2 L613.7,157.2 L614.3,157.2 L614.8,157.1 L615.4,157.1 L615.9,157.0 L616.5,156.9 L617.0,156.9 L617.6,156.8 L618.1,156.7 L618.7,156.6 L619.2,156.5 L619.8,156.4 L620.3,156.3 L620.9,156.2 L621.4,156.0 L622.0,155.8 L622.5,155.7 L623.1,155.5 L623.6,155.2 L624.2,155.0 L624.7,154.8 L625.3,154.4 L625.8,154.0 L626.4,153.6 L626.9,153.0 L627.5,152.4 L628.0,151.6 L628.6,150.8 L629.1,149.6 L629.7,148.1 L630.2,146.4 L630.8,144.5 L631.3,142.5 L631.9,140.4 L632.4,138.3 L633.0,136.1 L633.5,133.6 L634.1,131.1 L634.6,128.5 L635.2,125.8 L635.7,123.2 L636.3,120.6 L636.8,117.9 L637.4,115.1 L637.9,112.4 L638.5,109.5 L639.0,106.7 L639.6,103.9 L640.1,101.0 L640.7,98.0 L641.2,95.0 L641.8,92.0 L642.3,89.1 L642.9,86.4 L643.4,83.8 L644.0,81.2 L644.5,78.9 L645.1,77.0 L645.6,75.6 L646.2,74.6 L646.7,74.6 L647.3,75.2 L647.8,76.1 L648.4,77.2 L648.9,78.6 L649.5,80.4 L650.0,82.4 L650.6,84.8 L651.1,87.7 L651.7,91.6 L652.2,96.1 L652.8,100.9 L653.3,105.4 L653.9,109.5 L654.4,113.7 L655.0,117.9 L655.5,121.9 L656.1,125.6 L656.6,128.7 L657.2,131.5 L657.7,134.1 L658.3,136.4 L658.8,138.6 L659.4,140.7 L659.9,142.6 L660.5,144.5 L661.0,146.3 L661.6,147.9 L662.1,149.4 L662.7,150.7 L663.2,151.9 L663.8,153.1 L664.3,154.2 L664.9,155.1 L665.4,156.0 L666.0,156.8 L666.5,157.5 L667.1,158.2 L667.6,158.8 L668.2,159.3 L668.7,159.8 L669.3,160.3 L669.8,160.6 L670.4,161.0 L670.9,161.3 L671.5,161.6 L672.0,161.9 L672.6,162.1 L673.1,162.3 L673.7,162.3 L674.2,162.3 L674.8,162.2 L675.3,162.1 L675.9,162.0 L676.4,161.9 L677.0,161.7 L677.5,161.5 L678.1,161.4 L678.6,161.1 L679.2,160.9 L679.7,160.6 L680.3,160.3 L680.8,160.0 L681.4,159.7 L681.9,159.4 L682.5,159.0 L683.0,158.7 L683.6,158.4 L684.1,158.0 L684.7,157.6 L685.2,157.3 L685.8,156.8 L686.3,156.4 L686.9,155.9 L687.4,155.4 L688.0,154.9 L688.5,154.3 L689.1,153.6 L689.6,152.5 L690.2,151.1 L690.7,150.1 L691.3,150.7 L691.8,152.7 L692.4,154.2 L692.9,155.0 L693.5,155.7 L694.0,156.3 L694.6,156.7 L695.1,157.0 L695.7,157.1 L696.2,157.1 L696.8,157.0 L697.3,156.9 L697.9,156.7 L698.4,156.6 L699.0,156.5 L699.5,156.5 L700.1,156.6 L700.6,156.8 L701.2,157.0 L701.7,157.3 L702.3,157.5 L702.8,157.7 L703.4,157.8 L703.9,158.0 L704.5,158.1 L705.0,158.3 L705.6,158.4 L706.1,158.6 L706.7,158.7 L707.2,158.8 L707.8,158.9 L708.3,158.9 L708.9,158.8 L709.4,158.7 L710.0,158.5 L710.5,158.2 L711.1,157.9 L711.6,157.6 L712.2,157.2 L712.7,156.9 L713.3,156.7 L713.8,156.5 L714.4,156.5 L714.9,156.4 L715.5,156.3 L716.0,156.3 L716.6,156.2 L717.1,156.2 L717.7,156.1 L718.2,156.1 L718.8,156.0 L719.3,155.9 L719.9,155.8 L720.4,155.7 L721.0,155.5 L721.5,155.2 L722.1,155.0 L722.6,154.7 L723.2,154.4 L723.7,154.1 L724.3,153.9 L724.8,153.6 L725.4,153.3 L725.9,153.0 L726.5,152.6 L727.0,152.3 L727.6,152.0 L728.1,151.8 L728.7,151.8 L729.2,151.9 L729.8,152.2 L730.3,152.6 L730.9,153.0 L731.4,153.5 L732.0,154.0 L732.5,154.4 L733.1,155.0 L733.6,155.7 L734.2,156.4 L734.7,157.0 L735.3,157.4 L735.8,157.7 L736.4,157.8 L736.9,157.9 L737.5,158.0 L738.0,158.0 L738.6,158.1 L739.1,158.2 L739.7,158.2 L740.2,158.2 L740.8,158.3 L741.3,158.3 L741.9,158.3 L742.4,158.3 L743.0,158.4 L743.5,158.4 L744.1,158.4 L744.6,158.4 L745.2,158.4 L745.7,158.4 L746.3,158.5 L746.8,158.5 L747.4,158.5 L747.9,158.5 L748.5,158.5 L749.0,158.5 L749.6,158.5 L750.1,158.5 L750.7,158.5 L751.2,158.5 L751.8,158.5 L752.3,158.5" fill="none" stroke="#7824c8" stroke-width="0.8" stroke-linejoin="round"/>
<line x1="532.9" y1="158.29" x2="752.3" y2="158.29" stroke="#222" stroke-width="0.7" stroke-dasharray="1.7 1.3"/>
<path d="M532.9,4.8 H752.3 V170.1" fill="none" stroke="#777" stroke-width="0.9"/>
<path d="M532.9,4.35 V170.1 H752.75" fill="none" stroke="#828282" stroke-width="1.25"/>
<line x1="532.90" y1="170.1" x2="532.90" y2="173.1" stroke="#6e6e6e" stroke-width="1"/>
<text transform="translate(533.30,182.70) scale(0.93,1)" font-size="10.3" text-anchor="middle">3400</text>
<line x1="551.18" y1="170.1" x2="551.18" y2="172.29999999999998" stroke="#6e6e6e" stroke-width="1"/>
<line x1="569.47" y1="170.1" x2="569.47" y2="173.1" stroke="#6e6e6e" stroke-width="1"/>
<text transform="translate(569.26,182.70) scale(0.93,1)" font-size="10.3" text-anchor="middle">3420</text>
<line x1="587.75" y1="170.1" x2="587.75" y2="172.29999999999998" stroke="#6e6e6e" stroke-width="1"/>
<line x1="606.03" y1="170.1" x2="606.03" y2="173.1" stroke="#6e6e6e" stroke-width="1"/>
<text transform="translate(605.22,182.70) scale(0.93,1)" font-size="10.3" text-anchor="middle">3440</text>
<line x1="624.32" y1="170.1" x2="624.32" y2="172.29999999999998" stroke="#6e6e6e" stroke-width="1"/>
<line x1="642.60" y1="170.1" x2="642.60" y2="173.1" stroke="#6e6e6e" stroke-width="1"/>
<text transform="translate(641.18,182.70) scale(0.93,1)" font-size="10.3" text-anchor="middle">3460</text>
<line x1="660.88" y1="170.1" x2="660.88" y2="172.29999999999998" stroke="#6e6e6e" stroke-width="1"/>
<line x1="679.17" y1="170.1" x2="679.17" y2="173.1" stroke="#6e6e6e" stroke-width="1"/>
<text transform="translate(677.14,182.70) scale(0.93,1)" font-size="10.3" text-anchor="middle">3480</text>
<line x1="697.45" y1="170.1" x2="697.45" y2="172.29999999999998" stroke="#6e6e6e" stroke-width="1"/>
<line x1="715.73" y1="170.1" x2="715.73" y2="173.1" stroke="#6e6e6e" stroke-width="1"/>
<text transform="translate(713.10,182.70) scale(0.93,1)" font-size="10.3" text-anchor="middle">3500</text>
<line x1="734.02" y1="170.1" x2="734.02" y2="172.29999999999998" stroke="#6e6e6e" stroke-width="1"/>
<line x1="752.30" y1="170.1" x2="752.30" y2="173.1" stroke="#6e6e6e" stroke-width="1"/>
<text transform="translate(749.06,182.70) scale(0.93,1)" font-size="10.3" text-anchor="middle">3520</text>
<line x1="530.1" y1="170.10" x2="532.9" y2="170.10" stroke="#6e6e6e" stroke-width="1"/>
<text transform="translate(529.50,173.00) scale(0.93,1)" font-size="10.3" text-anchor="end">-1</text>
<line x1="530.1" y1="158.29" x2="532.9" y2="158.29" stroke="#6e6e6e" stroke-width="1"/>
<text transform="translate(529.50,161.89) scale(0.93,1)" font-size="10.3" text-anchor="end">0</text>
<line x1="530.1" y1="146.49" x2="532.9" y2="146.49" stroke="#6e6e6e" stroke-width="1"/>
<text transform="translate(529.50,150.09) scale(0.93,1)" font-size="10.3" text-anchor="end">1</text>
<line x1="530.1" y1="134.68" x2="532.9" y2="134.68" stroke="#6e6e6e" stroke-width="1"/>
<text transform="translate(529.50,138.28) scale(0.93,1)" font-size="10.3" text-anchor="end">2</text>
<line x1="530.1" y1="122.87" x2="532.9" y2="122.87" stroke="#6e6e6e" stroke-width="1"/>
<text transform="translate(529.50,126.47) scale(0.93,1)" font-size="10.3" text-anchor="end">3</text>
<line x1="530.1" y1="111.06" x2="532.9" y2="111.06" stroke="#6e6e6e" stroke-width="1"/>
<text transform="translate(529.50,114.66) scale(0.93,1)" font-size="10.3" text-anchor="end">4</text>
<line x1="530.1" y1="99.26" x2="532.9" y2="99.26" stroke="#6e6e6e" stroke-width="1"/>
<text transform="translate(529.50,102.86) scale(0.93,1)" font-size="10.3" text-anchor="end">5</text>
<line x1="530.1" y1="87.45" x2="532.9" y2="87.45" stroke="#6e6e6e" stroke-width="1"/>
<text transform="translate(529.50,91.05) scale(0.93,1)" font-size="10.3" text-anchor="end">6</text>
<line x1="530.1" y1="75.64" x2="532.9" y2="75.64" stroke="#6e6e6e" stroke-width="1"/>
<text transform="translate(529.50,79.24) scale(0.93,1)" font-size="10.3" text-anchor="end">7</text>
<line x1="530.1" y1="63.84" x2="532.9" y2="63.84" stroke="#6e6e6e" stroke-width="1"/>
<text transform="translate(529.50,67.44) scale(0.93,1)" font-size="10.3" text-anchor="end">8</text>
<line x1="530.1" y1="52.03" x2="532.9" y2="52.03" stroke="#6e6e6e" stroke-width="1"/>
<text transform="translate(529.50,55.63) scale(0.93,1)" font-size="10.3" text-anchor="end">9</text>
<line x1="530.1" y1="40.22" x2="532.9" y2="40.22" stroke="#6e6e6e" stroke-width="1"/>
<text transform="translate(529.50,43.82) scale(0.93,1)" font-size="10.3" text-anchor="end">10</text>
<line x1="530.1" y1="28.41" x2="532.9" y2="28.41" stroke="#6e6e6e" stroke-width="1"/>
<text transform="translate(529.50,32.01) scale(0.93,1)" font-size="10.3" text-anchor="end">11</text>
<line x1="530.1" y1="16.61" x2="532.9" y2="16.61" stroke="#6e6e6e" stroke-width="1"/>
<text transform="translate(529.50,20.21) scale(0.93,1)" font-size="10.3" text-anchor="end">12</text>
<line x1="530.1" y1="4.80" x2="532.9" y2="4.80" stroke="#6e6e6e" stroke-width="1"/>
<text transform="translate(529.50,8.40) scale(0.93,1)" font-size="10.3" text-anchor="end">13</text>
<text transform="translate(641.50,195.80) scale(0.98,1)" font-size="11.9" text-anchor="middle">Magnetic Field (G)</text>
<text transform="translate(514.80,79.20) scale(0.9,1) rotate(-90)" font-size="11.4" text-anchor="middle">Intensity</text>
<text transform="translate(537.90,17.30) scale(0.95,1)" font-size="12.3" text-anchor="start">(c)</text>
<text transform="translate(662.70,31.10) scale(0.96,1)" font-size="11.7" text-anchor="start">1 h</text>
<text transform="translate(669.10,90.90) scale(0.96,1)" font-size="11.7" text-anchor="start">5 min</text>
<line x1="650.40" y1="25.50" x2="658.20" y2="27.30" stroke="#555" stroke-width="0.8"/>
<line x1="652.20" y1="82.70" x2="664.50" y2="86.90" stroke="#555" stroke-width="0.8"/>
<path d="M33.0,289.2 L33.2,290.5 L33.4,287.5 L33.6,289.1 L33.9,291.3 L34.1,289.7 L34.3,289.8 L34.5,290.0 L34.7,289.9 L34.9,286.8 L35.2,285.0 L35.4,286.8 L35.6,287.7 L35.8,285.5 L36.0,284.8 L36.2,286.1 L36.5,284.7 L36.7,283.8 L36.9,286.0 L37.1,287.1 L37.3,285.1 L37.5,284.5 L37.8,283.7 L38.0,287.5 L38.2,287.2 L38.4,288.4 L38.6,291.3 L38.8,286.0 L39.0,284.1 L39.3,285.4 L39.5,282.0 L39.7,282.3 L39.9,282.8 L40.1,283.0 L40.3,282.8 L40.6,286.1 L40.8,283.2 L41.0,283.3 L41.2,286.9 L41.4,283.9 L41.6,283.8 L41.9,282.5 L42.1,284.2 L42.3,283.4 L42.5,282.2 L42.7,284.5 L42.9,282.6 L43.2,283.1 L43.4,282.5 L43.6,283.6 L43.8,281.1 L44.0,281.6 L44.2,283.0 L44.4,281.5 L44.7,279.7 L44.9,279.7 L45.1,285.0 L45.3,281.7 L45.5,281.8 L45.7,283.3 L46.0,284.4 L46.2,281.3 L46.4,284.6 L46.6,281.7 L46.8,280.7 L47.0,285.7 L47.3,285.3 L47.5,285.5 L47.7,282.2 L47.9,278.9 L48.1,278.8 L48.3,285.6 L48.6,284.1 L48.8,280.9 L49.0,279.1 L49.2,281.5 L49.4,283.8 L49.6,282.3 L49.8,282.7 L50.1,284.3 L50.3,286.2 L50.5,282.4 L50.7,281.8 L50.9,282.7 L51.1,283.5 L51.4,285.6 L51.6,285.0 L51.8,280.8 L52.0,283.1 L52.2,285.0 L52.4,280.5 L52.7,280.5 L52.9,278.6 L53.1,282.2 L53.3,284.3 L53.5,285.4 L53.7,278.8 L54.0,276.9 L54.2,282.7 L54.4,284.3 L54.6,281.2 L54.8,284.7 L55.0,284.6 L55.2,284.4 L55.5,283.2 L55.7,281.8 L55.9,283.2 L56.1,282.5 L56.3,284.5 L56.5,284.6 L56.8,288.8 L57.0,287.6 L57.2,283.8 L57.4,285.2 L57.6,283.6 L57.8,282.3 L58.1,278.4 L58.3,281.7 L58.5,282.7 L58.7,285.1 L58.9,286.6 L59.1,286.9 L59.4,286.7 L59.6,287.7 L59.8,286.7 L60.0,285.7 L60.2,284.8 L60.4,286.4 L60.7,289.0 L60.9,285.8 L61.1,284.2 L61.8,292.1 L62.4,282.0 L62.6,280.2 L62.8,280.3 L63.0,285.3 L63.2,284.0 L63.5,283.3 L63.7,283.1 L63.9,283.1 L64.1,283.7 L64.3,284.4 L64.5,287.1 L64.8,285.3 L65.0,285.5 L65.2,284.2 L65.4,284.6 L65.6,282.6 L65.8,282.0 L66.1,282.8 L66.3,283.0 L66.5,283.6 L66.7,284.5 L66.9,284.2 L67.1,284.4 L67.3,282.9 L67.6,283.0 L67.8,282.7 L68.0,285.3 L68.2,282.4 L68.4,284.7 L68.6,285.1 L68.9,284.6 L69.1,284.3 L69.3,283.0 L69.5,285.1 L69.7,288.8 L69.9,285.2 L70.2,280.8 L70.4,282.8 L70.6,285.2 L70.8,284.0 L71.0,285.3 L71.2,280.6 L71.5,285.0 L71.7,282.3 L71.9,282.2 L72.1,285.4 L72.3,282.4 L72.5,280.6 L72.7,281.4 L73.0,281.8 L73.2,280.8 L73.4,282.0 L73.6,282.1 L73.8,282.6 L74.0,281.9 L74.3,284.0 L74.5,281.7 L74.7,283.8 L74.9,284.6 L75.1,280.6 L75.3,278.6 L75.6,280.3 L75.8,283.0 L76.0,281.6 L76.2,283.3 L76.4,283.0 L76.6,283.3 L76.9,287.0 L77.1,283.4 L77.3,284.8 L77.5,284.9 L77.7,286.3 L77.9,286.4 L78.1,284.7 L78.4,280.7 L78.6,279.1 L78.8,281.7 L79.0,280.9 L79.2,284.3 L79.4,286.6 L79.7,283.1 L79.9,282.2 L80.1,283.5 L80.3,282.4 L80.5,282.3 L80.7,285.2 L81.0,286.5 L81.2,284.4 L81.4,284.0 L81.6,283.9 L81.8,281.2 L82.0,280.1 L82.3,283.6 L82.5,281.7 L82.7,278.3 L82.9,279.1 L83.1,281.2 L83.3,283.9 L83.5,281.8 L83.8,279.3 L84.0,282.0 L84.2,286.2 L84.4,282.6 L84.6,280.9 L84.8,282.6 L85.1,283.9 L85.7,300.4 L86.4,281.1 L86.6,282.3 L86.8,284.8 L87.0,282.3 L87.2,285.1 L87.4,289.1 L87.7,285.6 L87.9,282.2 L88.1,281.2 L88.3,282.0 L88.5,282.2 L88.7,281.7 L88.9,282.3 L89.2,280.3 L89.4,281.7 L89.6,281.7 L89.8,281.8 L90.0,284.7 L90.2,283.8 L90.5,279.8 L90.7,281.5 L90.9,282.9 L91.1,282.3 L91.3,283.2 L91.5,281.8 L91.8,283.7 L92.0,283.0 L92.2,285.2 L92.4,281.0 L92.6,283.9 L92.8,286.2 L93.1,284.0 L93.3,283.7 L93.5,283.2 L93.7,285.0 L93.9,281.3 L94.1,276.5 L94.3,284.0 L94.6,283.0 L94.8,283.4 L95.0,283.0 L95.2,286.9 L95.4,285.9 L95.6,282.7 L95.9,282.5 L96.1,280.3 L96.3,283.9 L96.5,282.1 L96.7,277.8 L96.9,284.0 L97.2,285.4 L97.4,283.8 L97.6,282.7 L97.8,279.2 L98.0,282.6 L98.2,284.7 L98.5,282.3 L98.7,277.8 L98.9,281.0 L99.1,288.4 L99.3,285.1 L99.5,285.0 L99.7,282.7 L100.0,282.9 L100.2,279.5 L100.4,280.7 L100.6,281.5 L100.8,282.9 L101.0,283.5 L101.3,282.5 L101.5,280.8 L101.7,282.5 L101.9,284.7 L102.1,281.4 L102.3,282.4 L102.6,284.0 L102.8,285.5 L103.0,285.4 L103.2,286.3 L103.4,289.1 L103.6,282.6 L103.9,282.4 L104.1,283.6 L104.3,281.7 L104.5,282.4 L104.7,283.9 L104.9,288.8 L105.1,285.4 L105.4,280.8 L105.6,279.5 L105.8,279.1 L106.0,280.8 L106.2,286.4 L106.4,288.4 L106.7,283.5 L106.9,282.7 L107.1,279.1 L107.3,283.0 L107.5,283.3 L107.7,286.4 L108.0,283.9 L108.2,285.5 L108.4,282.1 L108.6,281.3 L108.8,283.5 L109.0,283.2 L109.3,283.4 L109.5,282.1 L109.7,282.8 L109.9,284.9 L110.1,284.5 L110.3,280.7 L110.5,283.0 L110.8,281.8 L111.0,282.9 L111.2,285.1 L111.4,285.5 L111.6,283.8 L111.8,283.0 L112.1,283.0 L112.3,286.3 L112.5,285.5 L112.7,283.6 L112.9,281.6 L113.1,287.7 L113.4,284.0 L113.6,284.6 L113.8,283.4 L114.0,284.5 L114.2,282.7 L114.4,280.5 L114.7,282.4 L114.9,282.7 L115.1,283.2 L115.3,284.6 L115.5,281.5 L115.7,283.9 L116.0,285.4 L116.2,284.2 L116.4,283.8 L116.6,282.3 L116.8,283.6 L117.0,284.1 L117.2,280.6 L117.5,280.6 L117.7,280.5 L117.9,281.9 L118.1,283.9 L118.3,284.4 L118.5,283.7 L118.8,281.5 L119.0,283.2 L119.2,286.0 L119.4,284.3 L119.6,285.8 L119.8,283.7 L120.1,285.6 L120.3,285.6 L120.5,283.0 L120.7,283.3 L120.9,285.3 L121.1,280.8 L121.4,278.6 L121.6,283.3 L121.8,279.4 L122.0,282.5 L122.2,282.8 L122.4,282.8 L122.6,283.4 L122.9,279.0 L123.1,279.7 L123.3,281.8 L123.5,281.5 L123.7,282.9 L123.9,280.7 L124.2,278.7 L124.4,282.0 L124.6,280.1 L124.8,277.4 L125.0,273.6 L125.2,275.1 L125.5,278.1 L125.7,278.3 L125.9,276.3 L126.1,276.8 L126.3,276.1 L126.5,273.3 L126.8,271.8 L127.0,273.0 L127.2,273.9 L127.4,273.3 L127.6,275.8 L127.8,273.5 L128.0,273.1 L128.3,268.1 L128.5,269.3 L128.7,270.3 L128.9,271.0 L129.1,273.0 L129.3,268.1 L129.6,266.0 L129.8,268.1 L130.0,266.1 L130.2,265.6 L130.4,267.2 L130.6,263.6 L130.9,261.9 L131.1,262.5 L131.3,262.1 L131.5,260.6 L131.7,261.8 L131.9,259.1 L132.2,257.1 L132.4,257.9 L132.6,255.0 L132.8,255.3 L133.0,255.6 L133.2,252.5 L133.4,251.1 L133.7,248.9 L133.9,249.4 L134.1,244.8 L134.3,244.1 L134.5,242.1 L134.7,241.7 L135.0,240.1 L135.2,237.3 L135.4,237.2 L135.6,237.3 L135.8,237.0 L136.0,233.3 L136.3,232.7 L136.9,267.3 L137.6,230.7 L137.8,230.4 L138.0,231.3 L138.2,228.9 L138.4,228.2 L138.6,228.5 L138.8,227.4 L139.1,228.7 L139.3,228.1 L139.5,226.8 L139.7,226.5 L139.9,225.3 L140.1,226.5 L140.4,223.2 L140.6,224.8 L140.8,224.4 L141.0,225.2 L141.2,221.8 L141.4,219.7 L141.7,219.8 L141.9,222.1 L142.1,229.3 L142.3,225.9 L142.5,224.3 L142.7,224.3 L143.0,220.8 L143.2,221.9 L143.4,222.5 L143.6,222.2 L143.8,224.5 L144.0,225.6 L144.2,227.5 L144.5,226.5 L144.7,228.0 L144.9,229.5 L145.1,230.4 L145.3,235.7 L145.5,238.3 L145.8,240.0 L146.0,244.0 L146.2,247.3 L146.4,249.6 L146.6,253.1 L146.8,257.1 L147.1,261.6 L147.3,265.4 L147.5,268.6 L147.7,273.2 L147.9,276.8 L148.1,280.2 L148.4,285.0 L148.6,288.9 L148.8,292.0 L149.0,294.9 L149.2,298.2 L149.4,301.6 L149.6,305.1 L149.9,310.4 L150.1,312.3 L150.3,314.4 L150.5,318.2 L150.7,321.7 L150.9,324.7 L151.2,327.8 L151.4,330.8 L151.6,334.5 L151.8,336.7 L152.0,339.1 L152.2,342.8 L152.5,344.5 L152.7,347.3 L152.9,350.5 L153.1,351.8 L153.3,353.6 L153.5,353.8 L153.8,356.4 L154.0,355.0 L154.2,355.9 L154.4,360.2 L154.6,356.3 L154.8,357.0 L155.0,360.1 L155.3,357.3 L155.5,363.1 L155.7,361.6 L155.9,362.8 L156.1,360.1 L156.3,361.5 L156.6,360.9 L156.8,356.0 L157.0,352.6 L157.2,353.7 L157.4,351.3 L157.6,349.8 L157.9,347.9 L158.1,344.7 L158.3,341.8 L158.5,341.5 L158.7,338.4 L158.9,336.7 L159.2,336.1 L159.4,331.2 L159.6,328.4 L159.8,331.2 L160.0,327.1 L160.2,326.5 L160.4,325.2 L160.7,322.3 L160.9,321.8 L161.1,320.4 L161.3,317.7 L161.5,316.2 L161.7,314.8 L162.0,317.5 L162.2,316.7 L162.4,313.0 L162.6,313.3 L162.8,311.5 L163.0,311.7 L163.3,310.2 L163.5,309.7 L163.7,306.0 L163.9,307.7 L164.1,306.5 L164.3,305.3 L164.6,303.3 L164.8,305.7 L165.0,304.0 L165.2,303.3 L165.4,300.4 L165.6,300.8 L165.8,301.8 L166.1,300.7 L166.3,300.7 L166.5,299.3 L166.7,299.7 L166.9,300.1 L167.1,298.8 L167.4,297.0 L167.6,294.3 L167.8,297.3 L168.0,296.2 L168.2,295.7 L168.4,301.4 L168.7,300.9 L168.9,300.6 L169.1,295.2 L169.3,290.5 L169.5,292.4 L169.7,291.8 L170.0,294.1 L170.2,297.8 L170.4,296.8 L170.6,291.3 L170.8,291.7 L171.0,293.3 L171.3,290.3 L171.5,292.6 L171.7,288.7 L171.9,288.0 L172.1,292.6 L172.3,291.4 L172.5,288.3 L172.8,289.8 L173.0,288.0 L173.2,292.1 L173.4,287.0 L173.6,286.8 L173.8,287.7 L174.1,287.9 L174.3,286.5 L174.5,289.1 L174.7,287.4 L174.9,285.6 L175.1,282.6 L175.4,285.9 L175.6,282.1 L175.8,284.7 L176.0,285.8 L176.2,281.4 L176.4,280.4 L176.7,283.6 L176.9,285.0 L177.1,283.7 L177.3,284.4 L177.5,283.2 L177.7,279.9 L177.9,281.3 L178.2,281.7 L178.4,281.8 L178.6,282.2 L178.8,280.6 L179.0,280.6 L179.2,282.9 L179.5,280.2 L179.7,275.9 L179.9,279.5 L180.1,282.0 L180.3,278.6 L180.5,282.8 L180.8,287.7 L181.0,282.6 L181.2,284.3 L181.4,283.7 L181.6,282.1 L181.8,283.0 L182.1,284.3 L182.3,284.1 L182.5,283.5 L182.7,280.8 L182.9,283.7 L183.1,283.2 L183.3,279.0 L183.6,282.3 L183.8,279.3 L184.0,279.5 L184.2,282.9 L184.4,285.2 L184.6,281.9 L184.9,280.7 L185.1,280.4 L185.3,281.6 L185.5,279.6 L185.7,279.8 L185.9,283.6 L186.2,280.1 L186.4,281.9 L186.6,283.7 L186.8,282.7 L187.0,278.6 L187.2,280.6 L187.5,285.7 L187.7,283.1 L187.9,282.9 L188.1,283.1 L188.3,284.2 L188.5,285.3 L188.7,281.8 L189.5,294.0 L190.3,284.1 L190.5,284.8 L190.7,283.5 L190.9,280.8 L191.1,281.9 L191.3,282.2 L191.6,283.2 L191.8,283.1 L192.0,282.9 L192.2,285.5 L192.4,280.8 L192.6,286.0 L192.9,283.9 L193.1,280.1 L193.3,281.6 L193.5,282.6 L193.7,284.3 L193.9,285.8 L194.1,282.3 L194.4,281.0 L194.6,286.0 L194.8,281.1 L195.0,284.5 L195.2,283.9 L195.4,280.3 L195.7,281.8 L195.9,281.4 L196.1,284.0 L196.3,285.4 L196.5,286.8 L196.7,285.8 L197.0,285.4 L197.2,285.3 L197.4,282.4 L197.6,284.1 L197.8,285.3 L198.0,278.4 L198.3,283.2 L198.5,284.2 L198.7,279.6 L198.9,279.6 L199.1,284.1 L199.3,285.3 L199.5,283.7 L199.8,279.9 L200.0,282.0 L200.2,283.1 L200.4,281.4 L200.6,279.6 L200.8,283.6 L201.1,282.9 L201.3,283.1 L201.5,276.8 L201.7,276.4 L201.9,278.6 L202.1,281.0 L202.4,280.5 L202.6,284.4 L202.8,280.7 L203.0,283.6 L203.2,284.0 L203.4,282.7 L203.7,281.4 L203.9,279.4 L204.1,278.9 L204.3,280.2 L204.5,282.0 L204.7,279.6 L204.9,280.1 L205.2,278.6 L205.4,282.8 L205.6,286.3 L205.8,281.6 L206.0,276.0 L206.2,277.4 L206.5,280.0 L206.7,278.5 L206.9,278.9 L207.1,279.4 L207.3,281.1 L207.5,280.2 L207.8,280.1 L208.0,281.8 L208.2,282.6 L208.4,280.0 L208.6,278.0 L208.8,278.4 L209.1,278.7 L209.3,276.6 L209.5,273.6 L209.7,276.8 L209.9,277.2 L210.1,275.8 L210.3,279.1 L210.6,279.1 L210.8,277.3 L211.0,276.2 L211.2,278.6 L211.4,279.2 L211.6,280.2 L211.9,281.9 L212.1,278.4 L212.3,280.7 L212.5,283.6 L212.7,282.0 L212.9,283.9 L213.2,282.6 L213.4,280.7 L213.6,281.4 L213.8,278.8 L214.0,282.4 L214.2,279.9 L214.5,278.4 L214.7,276.7 L214.9,277.7 L215.1,279.3 L215.3,280.0 L215.5,280.0 L215.7,278.4 L216.0,280.7 L216.2,278.1 L216.4,280.0 L216.6,280.1 L216.8,280.1 L217.0,276.8 L217.3,280.8 L217.5,279.6 L217.7,279.7 L217.9,279.4 L218.1,279.6 L218.3,279.6 L218.6,280.3 L218.8,287.4 L219.0,282.9 L219.2,283.4 L219.4,281.6 L219.6,284.3 L219.9,286.3 L220.1,281.9 L220.3,278.6 L220.5,279.8 L220.7,280.3 L220.9,279.2 L221.1,283.7 L221.4,286.2 L221.6,283.5 L221.8,281.4 L222.0,275.6 L222.2,277.3 L222.4,282.9 L222.7,277.3 L222.9,278.0 L223.1,279.7 L223.3,279.3 L223.5,277.4 L223.7,281.5 L224.0,283.3 L224.2,282.9 L224.4,285.0 L224.6,282.3 L224.8,282.5 L225.0,281.1 L225.3,282.3 L225.5,284.4 L225.7,281.3 L225.9,284.3 L226.1,283.4 L226.3,289.6 L226.6,284.4 L226.8,284.9 L227.0,284.4 L227.2,287.5 L227.4,289.3 L227.6,289.6 L227.8,284.9 L228.1,284.0 L228.3,287.8 L228.5,289.4 L228.7,287.7 L228.9,286.6 L229.1,287.5 L229.4,287.7 L229.6,285.2 L229.8,284.8 L230.0,285.9 L230.2,288.8 L230.4,287.8 L230.7,288.4 L230.9,290.1 L231.1,286.4 L231.3,287.1 L231.5,286.9 L231.7,281.3 L232.0,284.1 L232.2,284.5 L232.4,283.7 L232.6,284.8 L232.8,287.6 L233.0,286.0 L233.2,283.7 L233.5,285.6 L233.7,284.5 L233.9,283.0 L234.1,280.2 L234.3,277.7 L234.5,281.0 L234.8,283.8 L235.0,281.8 L235.2,282.2 L235.4,282.3 L235.6,277.0 L235.8,279.9 L236.1,283.6 L236.3,281.2 L236.5,283.2 L236.7,280.8 L236.9,285.2 L237.1,283.7 L237.4,284.9 L237.6,285.5 L237.8,285.8 L238.0,279.2 L238.2,281.9 L238.4,281.6 L238.6,280.2 L238.9,282.0 L239.1,281.9 L239.3,284.6 L239.5,282.5 L239.7,282.4 L239.9,279.8 L240.2,282.6 L240.4,288.6 L240.6,287.2 L240.8,284.4 L241.0,280.8 L241.2,280.7 L241.5,281.7 L241.7,286.6 L241.9,288.0 L242.1,284.2 L242.3,283.2 L242.5,284.7 L242.8,281.7 L243.0,282.4 L243.2,284.4 L243.4,283.8 L243.6,281.7 L243.8,281.4 L244.0,280.9 L244.3,277.3 L244.5,281.2 L244.7,281.7 L244.9,283.5 L245.1,282.3 L245.3,280.4 L245.6,280.2 L245.8,281.4 L246.0,280.7 L246.2,281.8 L246.4,286.2 L246.6,287.6 L246.9,277.7 L247.1,278.9 L247.3,281.9 L247.5,285.2 L247.7,283.9 L247.9,280.2 L248.2,286.4 L248.4,282.6 L248.6,279.6 L248.8,280.4" fill="none" stroke="#2444f2" stroke-width="0.8" stroke-linejoin="round"/>
<line x1="33.0" y1="283.18" x2="248.8" y2="283.18" stroke="#222" stroke-width="0.7" stroke-dasharray="1.7 1.3"/>
<path d="M33.0,206.8 H248.8 V372.3" fill="none" stroke="#777" stroke-width="0.9"/>
<path d="M33.0,206.35000000000002 V372.3 H249.25" fill="none" stroke="#828282" stroke-width="1.25"/>
<line x1="33.00" y1="372.3" x2="33.00" y2="375.3" stroke="#6e6e6e" stroke-width="1"/>
<text transform="translate(33.30,384.90) scale(0.93,1)" font-size="10.3" text-anchor="middle">3400</text>
<line x1="50.98" y1="372.3" x2="50.98" y2="374.5" stroke="#6e6e6e" stroke-width="1"/>
<line x1="68.97" y1="372.3" x2="68.97" y2="375.3" stroke="#6e6e6e" stroke-width="1"/>
<text transform="translate(69.26,384.90) scale(0.93,1)" font-size="10.3" text-anchor="middle">3420</text>
<line x1="86.95" y1="372.3" x2="86.95" y2="374.5" stroke="#6e6e6e" stroke-width="1"/>
<line x1="104.93" y1="372.3" x2="104.93" y2="375.3" stroke="#6e6e6e" stroke-width="1"/>
<text transform="translate(105.22,384.90) scale(0.93,1)" font-size="10.3" text-anchor="middle">3440</text>
<line x1="122.92" y1="372.3" x2="122.92" y2="374.5" stroke="#6e6e6e" stroke-width="1"/>
<line x1="140.90" y1="372.3" x2="140.90" y2="375.3" stroke="#6e6e6e" stroke-width="1"/>
<text transform="translate(141.18,384.90) scale(0.93,1)" font-size="10.3" text-anchor="middle">3460</text>
<line x1="158.88" y1="372.3" x2="158.88" y2="374.5" stroke="#6e6e6e" stroke-width="1"/>
<line x1="176.87" y1="372.3" x2="176.87" y2="375.3" stroke="#6e6e6e" stroke-width="1"/>
<text transform="translate(177.14,384.90) scale(0.93,1)" font-size="10.3" text-anchor="middle">3480</text>
<line x1="194.85" y1="372.3" x2="194.85" y2="374.5" stroke="#6e6e6e" stroke-width="1"/>
<line x1="212.83" y1="372.3" x2="212.83" y2="375.3" stroke="#6e6e6e" stroke-width="1"/>
<text transform="translate(213.10,384.90) scale(0.93,1)" font-size="10.3" text-anchor="middle">3500</text>
<line x1="230.82" y1="372.3" x2="230.82" y2="374.5" stroke="#6e6e6e" stroke-width="1"/>
<line x1="248.80" y1="372.3" x2="248.80" y2="375.3" stroke="#6e6e6e" stroke-width="1"/>
<text transform="translate(249.06,384.90) scale(0.93,1)" font-size="10.3" text-anchor="middle">3520</text>
<line x1="30.2" y1="372.30" x2="33.0" y2="372.30" stroke="#6e6e6e" stroke-width="1"/>
<text transform="translate(29.60,375.20) scale(0.93,1)" font-size="10.3" text-anchor="end">-1.4</text>
<line x1="30.2" y1="359.57" x2="33.0" y2="359.57" stroke="#6e6e6e" stroke-width="1"/>
<text transform="translate(29.60,363.17) scale(0.93,1)" font-size="10.3" text-anchor="end">-1.2</text>
<line x1="30.2" y1="346.84" x2="33.0" y2="346.84" stroke="#6e6e6e" stroke-width="1"/>
<text transform="translate(29.60,350.44) scale(0.93,1)" font-size="10.3" text-anchor="end">-1.0</text>
<line x1="30.2" y1="334.11" x2="33.0" y2="334.11" stroke="#6e6e6e" stroke-width="1"/>
<text transform="translate(29.60,337.71) scale(0.93,1)" font-size="10.3" text-anchor="end">-0.8</text>
<line x1="30.2" y1="321.38" x2="33.0" y2="321.38" stroke="#6e6e6e" stroke-width="1"/>
<text transform="translate(29.60,324.98) scale(0.93,1)" font-size="10.3" text-anchor="end">-0.6</text>
<line x1="30.2" y1="308.65" x2="33.0" y2="308.65" stroke="#6e6e6e" stroke-width="1"/>
<text transform="translate(29.60,312.25) scale(0.93,1)" font-size="10.3" text-anchor="end">-0.4</text>
<line x1="30.2" y1="295.92" x2="33.0" y2="295.92" stroke="#6e6e6e" stroke-width="1"/>
<text transform="translate(29.60,299.52) scale(0.93,1)" font-size="10.3" text-anchor="end">-0.2</text>
<line x1="30.2" y1="283.18" x2="33.0" y2="283.18" stroke="#6e6e6e" stroke-width="1"/>
<text transform="translate(29.60,286.78) scale(0.93,1)" font-size="10.3" text-anchor="end">0</text>
<line x1="30.2" y1="270.45" x2="33.0" y2="270.45" stroke="#6e6e6e" stroke-width="1"/>
<text transform="translate(29.60,274.05) scale(0.93,1)" font-size="10.3" text-anchor="end">0.2</text>
<line x1="30.2" y1="257.72" x2="33.0" y2="257.72" stroke="#6e6e6e" stroke-width="1"/>
<text transform="translate(29.60,261.32) scale(0.93,1)" font-size="10.3" text-anchor="end">0.4</text>
<line x1="30.2" y1="244.99" x2="33.0" y2="244.99" stroke="#6e6e6e" stroke-width="1"/>
<text transform="translate(29.60,248.59) scale(0.93,1)" font-size="10.3" text-anchor="end">0.6</text>
<line x1="30.2" y1="232.26" x2="33.0" y2="232.26" stroke="#6e6e6e" stroke-width="1"/>
<text transform="translate(29.60,235.86) scale(0.93,1)" font-size="10.3" text-anchor="end">0.8</text>
<line x1="30.2" y1="219.53" x2="33.0" y2="219.53" stroke="#6e6e6e" stroke-width="1"/>
<text transform="translate(29.60,223.13) scale(0.93,1)" font-size="10.3" text-anchor="end">1.0</text>
<line x1="30.2" y1="206.80" x2="33.0" y2="206.80" stroke="#6e6e6e" stroke-width="1"/>
<text transform="translate(29.60,210.40) scale(0.93,1)" font-size="10.3" text-anchor="end">1.2</text>
<text transform="translate(141.50,398.00) scale(0.98,1)" font-size="11.9" text-anchor="middle">Magnetic Field (G)</text>
<text transform="translate(10.00,283.00) scale(0.9,1) rotate(-90)" font-size="11.4" text-anchor="middle">Intensity</text>
<text transform="translate(37.90,219.70) scale(0.95,1)" font-size="12.3" text-anchor="start">(d)</text>
<text transform="translate(214.80,220.50) scale(0.96,1)" font-size="11.7" text-anchor="start">5 min</text>
<path d="M286.0,283.1 L286.2,283.5 L286.4,281.7 L286.6,282.1 L286.9,283.6 L287.1,283.3 L287.3,287.4 L287.5,284.0 L287.7,286.4 L287.9,284.2 L288.2,282.9 L288.4,284.0 L288.6,285.2 L288.8,285.8 L289.0,284.8 L289.2,282.7 L289.5,282.8 L289.7,284.7 L289.9,285.9 L290.1,283.9 L290.3,286.1 L290.5,285.4 L290.8,285.0 L291.0,283.0 L291.2,283.2 L291.4,283.1 L291.6,283.5 L291.8,284.5 L292.0,282.2 L292.3,278.8 L292.5,282.5 L292.7,282.7 L292.9,283.3 L293.1,281.9 L293.3,282.0 L293.6,281.9 L293.8,282.2 L294.0,281.0 L294.2,283.5 L294.4,284.0 L294.6,284.0 L294.9,282.7 L295.1,284.1 L295.3,284.0 L295.5,281.9 L295.7,281.0 L295.9,282.6 L296.2,286.9 L296.4,285.3 L296.6,285.0 L296.8,285.0 L297.0,283.2 L297.2,280.4 L297.4,282.9 L297.7,283.6 L297.9,281.8 L298.1,282.3 L298.3,282.6 L298.5,283.5 L298.7,282.6 L299.0,282.4 L299.2,285.5 L299.4,284.5 L299.6,278.6 L299.8,280.5 L300.0,283.0 L300.3,283.9 L300.5,283.1 L300.7,284.0 L300.9,282.5 L301.1,279.8 L301.3,281.1 L301.6,280.4 L301.8,281.9 L302.0,281.2 L302.2,280.2 L302.4,283.6 L302.6,282.9 L302.8,282.2 L303.1,281.1 L303.3,279.4 L303.5,280.9 L303.7,284.0 L303.9,283.0 L304.1,283.6 L304.4,283.0 L304.6,280.0 L304.8,285.1 L305.0,282.1 L305.2,282.7 L305.4,281.0 L305.7,281.4 L305.9,281.9 L306.1,282.0 L306.3,281.0 L306.5,283.6 L306.7,284.1 L307.0,284.0 L307.2,281.2 L307.4,283.1 L307.6,284.5 L307.8,283.1 L308.0,279.6 L308.2,282.3 L308.5,281.9 L308.7,282.4 L308.9,283.4 L309.1,284.5 L309.3,284.3 L309.5,284.8 L309.8,286.2 L310.0,280.5 L310.2,281.8 L310.4,283.6 L310.6,284.5 L310.8,285.0 L311.1,283.1 L311.3,284.1 L311.5,284.0 L311.7,286.1 L311.9,283.6 L312.1,281.5 L312.4,284.1 L312.6,283.3 L312.8,283.9 L313.0,282.5 L313.2,282.6 L313.4,284.2 L313.7,285.2 L313.9,284.1 L314.1,284.4 L314.3,285.1 L314.5,283.7 L314.7,283.8 L314.9,285.5 L315.2,283.9 L315.4,279.8 L315.6,282.2 L315.8,283.1 L316.0,280.6 L316.2,284.7 L316.5,288.2 L316.7,287.8 L316.9,286.6 L317.1,283.7 L317.3,283.0 L317.5,286.3 L317.8,283.1 L318.0,285.0 L318.2,283.0 L318.4,282.5 L318.6,281.9 L318.8,283.2 L319.1,283.6 L319.3,284.9 L319.5,282.5 L319.7,281.5 L319.9,281.0 L320.1,279.0 L320.3,280.8 L320.6,281.4 L320.8,280.6 L321.0,282.8 L321.2,285.7 L321.4,286.5 L321.6,281.8 L321.9,281.8 L322.1,281.9 L322.3,283.3 L322.5,281.4 L322.7,278.2 L322.9,282.1 L323.2,287.3 L323.4,284.2 L323.6,281.6 L323.8,285.1 L324.0,288.0 L324.2,288.1 L324.5,288.1 L324.7,282.9 L324.9,283.1 L325.1,284.6 L325.3,285.4 L325.5,284.0 L325.7,283.9 L326.0,285.4 L326.2,284.2 L326.4,283.9 L326.6,282.4 L326.8,288.1 L327.0,285.0 L327.3,284.5 L327.5,282.6 L327.7,283.7 L327.9,282.7 L328.1,282.2 L328.3,282.0 L328.6,279.9 L328.8,283.9 L329.0,280.1 L329.2,282.7 L329.4,282.2 L329.6,280.5 L329.9,280.5 L330.1,281.5 L330.3,288.1 L330.5,285.9 L330.7,282.4 L330.9,284.6 L331.1,283.3 L331.4,280.5 L331.6,281.8 L331.8,284.3 L332.0,282.8 L332.2,282.3 L332.4,283.2 L332.7,283.6 L332.9,284.1 L333.1,288.4 L333.3,284.9 L333.5,285.1 L333.7,283.6 L334.0,283.6 L334.2,285.1 L334.4,283.6 L334.6,283.7 L334.8,284.2 L335.0,283.6 L335.3,285.0 L335.5,285.2 L335.7,284.8 L335.9,284.2 L336.1,281.5 L336.3,287.7 L336.5,286.7 L336.8,288.2 L337.0,286.4 L337.2,284.9 L337.4,284.8 L337.6,283.6 L337.8,284.7 L338.1,287.8 L338.3,285.4 L338.5,281.5 L338.7,280.8 L338.9,282.2 L339.1,282.8 L339.4,279.4 L339.6,280.9 L339.8,278.3 L340.0,277.0 L340.2,276.1 L340.4,277.3 L340.7,276.3 L340.9,274.6 L341.1,276.7 L341.3,278.1 L341.5,276.9 L341.7,276.9 L341.9,278.0 L342.2,278.6 L342.4,277.6 L342.6,279.1 L342.8,280.2 L343.0,279.0 L343.2,279.2 L343.5,279.7 L343.7,282.1 L343.9,281.1 L344.1,279.2 L344.3,278.4 L344.5,279.2 L344.8,279.3 L345.0,277.5 L345.2,277.9 L345.4,277.4 L345.6,279.4 L345.8,281.0 L346.1,280.5 L346.3,283.2 L346.5,281.2 L346.7,281.3 L346.9,280.6 L347.1,279.1 L347.3,280.8 L347.6,283.0 L347.8,282.1 L348.0,282.3 L348.2,281.2 L348.4,280.9 L348.6,282.3 L348.9,280.1 L349.1,279.4 L349.3,281.3 L349.5,280.9 L349.7,283.6 L349.9,282.6 L350.2,281.0 L350.4,284.2 L350.6,283.4 L350.8,283.1 L351.0,280.5 L351.2,280.5 L351.5,282.8 L351.7,282.9 L351.9,285.9 L352.1,282.1 L352.3,281.7 L352.5,281.6 L352.7,285.8 L353.0,283.3 L353.2,284.3 L353.4,287.2 L353.6,285.0 L353.8,283.2 L354.0,280.7 L354.3,282.9 L354.5,284.3 L354.7,283.3 L354.9,284.1 L355.1,285.2 L355.3,285.6 L355.6,284.1 L355.8,283.4 L356.0,281.7 L356.2,284.0 L356.4,282.0 L356.6,283.1 L356.9,282.8 L357.1,286.0 L357.3,288.1 L357.5,286.0 L357.7,283.3 L357.9,283.7 L358.1,283.2 L358.4,283.5 L358.6,282.8 L358.8,284.0 L359.0,285.0 L359.2,283.8 L359.4,283.6 L359.7,281.9 L359.9,284.4 L360.1,284.1 L360.3,284.4 L360.5,282.5 L360.7,282.5 L361.0,283.4 L361.2,286.3 L361.4,286.7 L361.6,284.0 L361.8,282.6 L362.0,283.0 L362.3,289.0 L362.5,286.4 L362.7,286.8 L362.9,285.9 L363.1,284.3 L363.3,282.7 L363.5,284.9 L363.8,286.6 L364.0,284.4 L364.2,281.4 L364.4,280.3 L364.6,285.3 L364.8,284.5 L365.1,283.9 L365.3,281.7 L365.5,281.2 L365.7,281.2 L365.9,284.4 L366.1,283.7 L366.4,284.3 L366.6,285.0 L366.8,284.1 L367.0,284.3 L367.2,280.2 L367.4,282.2 L367.7,284.5 L367.9,283.6 L368.1,280.9 L368.3,283.9 L368.5,282.0 L368.7,281.4 L369.0,280.8 L369.2,281.5 L369.4,282.8 L369.6,283.9 L369.8,285.1 L370.0,282.8 L370.2,282.2 L370.5,282.7 L370.7,282.7 L370.9,283.1 L371.1,279.3 L371.3,282.2 L371.5,283.4 L371.8,282.8 L372.0,282.0 L372.2,281.1 L372.4,284.2 L372.6,281.4 L372.8,282.9 L373.1,281.1 L373.3,279.0 L373.5,279.2 L373.7,280.7 L373.9,278.9 L374.1,275.2 L374.4,275.8 L374.6,275.8 L374.8,277.7 L375.0,276.9 L375.2,277.5 L375.4,279.4 L375.6,278.7 L375.9,276.4 L376.1,275.3 L376.3,272.5 L376.5,275.5 L376.7,274.1 L376.9,275.1 L377.2,273.4 L377.4,273.8 L377.6,275.1 L377.8,275.3 L378.0,274.0 L378.2,273.3 L378.5,271.9 L378.7,273.8 L378.9,275.8 L379.1,271.8 L379.3,268.4 L379.5,268.3 L379.8,270.2 L380.0,269.4 L380.2,268.2 L380.4,268.1 L380.6,267.0 L380.8,266.1 L381.0,265.8 L381.3,264.6 L381.5,263.8 L381.7,262.0 L381.9,263.1 L382.1,260.0 L382.3,259.3 L382.6,258.3 L382.8,256.5 L383.0,251.9 L383.2,251.6 L383.4,250.8 L383.6,250.1 L383.9,249.8 L384.1,248.4 L384.3,246.8 L384.5,245.4 L384.7,243.9 L384.9,242.6 L385.2,244.9 L385.4,242.0 L385.6,238.9 L385.8,239.6 L386.0,237.6 L386.2,233.8 L386.4,234.7 L386.7,233.1 L386.9,233.5 L387.1,232.9 L387.3,233.4 L387.5,233.3 L387.7,231.0 L388.0,229.5 L388.2,229.2 L388.4,229.1 L388.6,226.7 L388.8,226.3 L389.0,226.0 L389.6,271.7 L390.3,222.7 L390.6,219.3 L390.8,218.6 L391.0,220.8 L391.2,223.0 L391.4,223.4 L391.6,218.6 L391.8,221.4 L392.1,219.6 L392.3,219.0 L392.5,218.2 L392.7,220.9 L392.9,222.0 L393.1,219.4 L393.4,218.8 L393.6,218.9 L393.8,222.2 L394.0,221.8 L394.2,222.1 L394.4,223.6 L394.7,223.1 L394.9,223.0 L395.1,225.4 L395.3,228.3 L395.5,230.3 L395.7,233.2 L396.0,236.9 L396.2,240.8 L396.4,245.4 L396.6,248.1 L396.8,251.5 L397.0,255.8 L397.2,259.4 L397.5,263.4 L397.7,266.7 L397.9,271.3 L398.1,275.5 L398.3,278.8 L398.5,282.4 L398.8,285.8 L399.0,290.1 L399.2,293.9 L399.4,296.3 L399.6,298.7 L399.8,303.0 L400.1,307.2 L400.3,309.8 L400.5,313.6 L400.7,317.5 L400.9,320.3 L401.1,323.3 L401.4,325.5 L401.6,327.1 L401.8,330.6 L402.0,333.6 L402.2,336.6 L402.4,338.6 L402.6,340.6 L402.9,341.9 L403.1,345.0 L403.3,346.4 L403.5,345.5 L403.7,348.0 L403.9,351.1 L404.2,352.3 L404.4,353.6 L404.6,354.5 L404.8,355.4 L405.0,356.9 L405.2,358.5 L405.5,360.0 L405.7,361.8 L405.9,361.0 L406.1,359.7 L406.3,361.0 L406.5,362.3 L406.8,361.3 L407.0,360.0 L407.2,357.1 L407.4,353.7 L407.6,351.4 L407.8,349.7 L408.0,348.3 L408.3,347.5 L408.5,346.0 L408.7,343.3 L408.9,341.2 L409.1,338.5 L409.3,336.9 L409.6,335.4 L409.8,332.0 L410.0,329.0 L410.2,329.5 L410.4,327.7 L410.6,326.5 L410.9,325.8 L411.1,325.0 L411.3,323.1 L411.5,321.5 L411.7,319.7 L411.9,318.6 L412.2,317.9 L412.4,317.6 L412.6,315.9 L412.8,315.7 L413.0,316.1 L413.2,312.5 L413.4,312.4 L413.7,311.9 L413.9,310.2 L414.1,310.6 L414.3,308.2 L414.5,306.6 L414.7,306.3 L415.0,304.6 L415.2,301.9 L415.4,301.6 L415.6,301.7 L415.8,301.8 L416.0,302.5 L416.3,301.8 L416.5,301.3 L416.7,300.5 L416.9,300.0 L417.1,300.1 L417.3,297.9 L417.6,301.3 L417.8,298.2 L418.0,296.5 L418.2,297.4 L418.4,297.8 L418.6,296.3 L418.8,293.8 L419.1,294.8 L419.3,295.6 L419.5,294.7 L419.7,295.8 L419.9,296.9 L420.1,293.7 L420.4,290.3 L420.6,291.5 L420.8,293.4 L421.0,294.4 L421.2,291.5 L421.4,292.1 L421.7,290.9 L421.9,290.1 L422.1,290.8 L422.3,291.4 L422.5,291.9 L422.7,291.5 L423.0,290.7 L423.2,290.8 L423.4,290.2 L423.6,292.5 L423.8,291.4 L424.0,289.8 L424.3,290.2 L424.5,290.1 L424.7,290.2 L424.9,287.5 L425.1,286.2 L425.3,288.7 L425.5,287.0 L425.8,289.3 L426.0,288.2 L426.2,289.7 L426.4,286.1 L426.6,286.6 L426.8,286.0 L427.1,284.7 L427.3,285.3 L427.5,286.4 L427.7,287.2 L427.9,286.2 L428.1,286.7 L428.4,285.9 L428.6,283.3 L428.8,283.6 L429.0,284.2 L429.2,284.8 L429.4,288.9 L429.7,285.6 L429.9,286.8 L430.1,286.5 L430.3,283.6 L430.5,282.8 L430.7,282.3 L430.9,282.8 L431.2,282.9 L431.4,282.5 L431.6,280.5 L431.8,280.8 L432.0,284.1 L432.2,282.2 L432.5,280.5 L432.7,282.1 L432.9,282.0 L433.1,283.2 L433.3,283.9 L433.5,282.3 L433.8,282.7 L434.0,282.8 L434.2,284.6 L434.4,284.3 L434.6,282.8 L434.8,282.7 L435.1,281.9 L435.3,283.5 L435.5,281.5 L435.7,281.4 L435.9,281.8 L436.1,280.6 L436.3,282.8 L436.6,283.1 L436.8,283.2 L437.0,284.6 L437.2,283.1 L437.4,282.3 L437.6,284.9 L437.9,282.8 L438.1,284.0 L438.3,283.9 L438.5,283.3 L438.7,282.7 L438.9,281.6 L439.2,283.0 L439.4,281.6 L439.6,283.4 L439.8,283.4 L440.0,283.6 L440.2,285.7 L440.5,286.5 L440.7,285.2 L440.9,284.4 L441.1,284.5 L441.3,285.8 L441.5,283.9 L441.7,286.2 L442.0,287.1 L442.2,284.7 L442.4,284.7 L442.6,287.3 L442.8,285.9 L443.0,287.8 L443.3,285.8 L443.5,282.6 L443.7,283.3 L443.9,284.0 L444.1,284.4 L444.3,285.6 L444.6,283.5 L444.8,282.9 L445.0,285.1 L445.2,283.7 L445.4,282.8 L445.6,282.9 L445.9,282.7 L446.1,283.6 L446.3,284.6 L446.5,283.6 L446.7,285.7 L446.9,284.0 L447.1,280.9 L447.4,279.5 L447.6,281.2 L447.8,285.2 L448.0,281.0 L448.2,281.2 L448.4,282.2 L448.7,281.0 L448.9,281.5 L449.1,284.0 L449.3,283.9 L449.5,281.5 L449.7,284.8 L450.0,281.6 L450.2,280.9 L450.4,279.8 L450.6,278.6 L450.8,278.8 L451.0,278.8 L451.3,279.8 L451.5,280.3 L451.7,279.8 L451.9,281.3 L452.1,282.7 L452.3,282.8 L452.5,286.3 L452.8,282.5 L453.0,278.3 L453.2,279.9 L453.4,281.4 L453.6,282.4 L453.8,283.8 L454.1,282.7 L454.3,283.7 L454.5,281.3 L454.7,280.7 L454.9,281.3 L455.1,283.0 L455.4,278.9 L455.6,279.5 L455.8,280.4 L456.0,280.6 L456.2,278.5 L456.4,278.1 L456.7,279.4 L456.9,282.0 L457.1,282.9 L457.3,283.8 L457.5,280.3 L457.7,278.6 L457.9,278.0 L458.2,279.2 L458.4,278.9 L458.6,280.5 L458.8,278.2 L459.0,279.7 L459.2,281.1 L459.5,281.9 L459.7,280.0 L459.9,284.4 L460.1,280.4 L460.3,280.3 L460.5,279.0 L460.8,279.9 L461.0,278.6 L461.2,280.3 L461.4,281.2 L461.6,280.9 L461.8,281.8 L462.1,279.1 L462.3,277.6 L462.5,278.4 L462.7,278.5 L462.9,277.7 L463.1,280.6 L463.3,278.9 L463.6,279.4 L463.8,279.9 L464.0,279.1 L464.2,281.0 L464.4,279.8 L464.6,279.3 L464.9,281.1 L465.1,280.0 L465.3,278.5 L465.5,278.2 L465.7,280.3 L465.9,278.5 L466.2,279.7 L466.4,279.6 L466.6,280.1 L466.8,278.8 L467.0,280.3 L467.2,279.3 L467.5,278.8 L467.7,279.1 L467.9,283.0 L468.1,279.3 L468.3,279.0 L468.5,277.7 L468.7,280.0 L469.0,280.7 L469.2,280.1 L469.4,280.3 L469.6,280.5 L469.8,282.3 L470.0,283.7 L470.3,282.8 L470.5,281.1 L470.7,279.6 L470.9,280.6 L471.1,281.5 L471.3,280.5 L471.6,279.3 L471.8,275.8 L472.0,277.6 L472.2,280.0 L472.4,282.5 L472.6,281.6 L472.9,280.9 L473.1,279.4 L473.3,277.7 L473.5,281.7 L473.7,285.6 L473.9,283.1 L474.1,283.4 L474.4,280.4 L474.6,279.8 L474.8,281.3 L475.0,283.8 L475.2,282.3 L475.4,281.1 L475.7,285.5 L475.9,283.7 L476.1,281.6 L476.3,281.7 L476.5,282.4 L476.7,282.2 L477.0,282.6 L477.2,283.7 L477.4,283.2 L477.6,283.0 L477.8,284.6 L478.0,283.2 L478.3,282.9 L478.5,282.4 L478.7,282.8 L478.9,285.0 L479.1,285.3 L479.3,283.2 L479.6,283.3 L479.8,283.2 L480.0,284.3 L480.2,285.0 L480.4,282.6 L480.6,283.0 L480.8,282.0 L481.1,281.1 L481.3,281.0 L481.5,281.7 L481.7,284.9 L481.9,286.7 L482.1,285.0 L482.4,285.5 L482.6,285.3 L482.8,283.1 L483.0,285.1 L483.2,282.0 L483.4,280.6 L483.7,278.7 L483.9,280.3 L484.1,280.0 L484.3,283.7 L484.5,284.0 L484.7,282.2 L485.0,284.3 L485.2,281.7 L485.4,283.4 L485.6,285.0 L485.8,280.9 L486.0,282.9 L486.2,279.6 L486.5,284.2 L486.7,285.4 L486.9,282.3 L487.1,282.9 L487.3,286.5 L487.5,282.5 L487.8,280.9 L488.0,281.9 L488.2,286.2 L488.4,283.4 L488.6,281.1 L488.8,278.4 L489.1,280.6 L489.3,281.9 L489.5,281.6 L489.7,279.5 L489.9,282.0 L490.1,281.8 L490.4,284.0 L490.6,279.5 L490.8,280.9 L491.0,283.8 L491.2,280.9 L491.4,279.0 L491.6,278.5 L491.9,281.0 L492.1,280.9 L492.3,282.9 L492.5,282.8 L492.7,282.8 L492.9,282.6 L493.2,283.5 L493.4,280.8 L493.6,282.6 L493.8,284.2 L494.0,283.2 L494.2,282.3 L494.5,282.4 L494.7,281.4 L494.9,283.4 L495.1,284.1 L495.3,282.2 L495.5,281.4 L495.8,284.6 L496.0,285.9 L496.2,284.6 L496.4,283.8 L496.6,284.7 L496.8,283.5 L497.0,284.2 L497.3,282.5 L497.5,285.0 L497.7,284.8 L497.9,283.0 L498.1,281.5 L498.3,279.8 L498.6,283.6 L498.8,283.2 L499.0,282.0 L499.2,281.2 L499.4,284.5 L499.6,285.0 L499.9,281.9 L500.1,282.9 L500.3,281.3 L500.5,282.7 L500.7,283.0 L500.9,284.2 L501.2,282.7 L501.4,281.5 L501.6,284.2 L501.8,284.9" fill="none" stroke="#1ca6d0" stroke-width="0.8" stroke-linejoin="round"/>
<line x1="286.0" y1="283.18" x2="501.8" y2="283.18" stroke="#222" stroke-width="0.7" stroke-dasharray="1.7 1.3"/>
<path d="M286.0,206.8 H501.8 V372.3" fill="none" stroke="#777" stroke-width="0.9"/>
<path d="M286.0,206.35000000000002 V372.3 H502.25" fill="none" stroke="#828282" stroke-width="1.25"/>
<line x1="286.00" y1="372.3" x2="286.00" y2="375.3" stroke="#6e6e6e" stroke-width="1"/>
<text transform="translate(286.20,384.90) scale(0.93,1)" font-size="10.3" text-anchor="middle">3400</text>
<line x1="303.98" y1="372.3" x2="303.98" y2="374.5" stroke="#6e6e6e" stroke-width="1"/>
<line x1="321.97" y1="372.3" x2="321.97" y2="375.3" stroke="#6e6e6e" stroke-width="1"/>
<text transform="translate(322.16,384.90) scale(0.93,1)" font-size="10.3" text-anchor="middle">3420</text>
<line x1="339.95" y1="372.3" x2="339.95" y2="374.5" stroke="#6e6e6e" stroke-width="1"/>
<line x1="357.93" y1="372.3" x2="357.93" y2="375.3" stroke="#6e6e6e" stroke-width="1"/>
<text transform="translate(358.12,384.90) scale(0.93,1)" font-size="10.3" text-anchor="middle">3440</text>
<line x1="375.92" y1="372.3" x2="375.92" y2="374.5" stroke="#6e6e6e" stroke-width="1"/>
<line x1="393.90" y1="372.3" x2="393.90" y2="375.3" stroke="#6e6e6e" stroke-width="1"/>
<text transform="translate(394.08,384.90) scale(0.93,1)" font-size="10.3" text-anchor="middle">3460</text>
<line x1="411.88" y1="372.3" x2="411.88" y2="374.5" stroke="#6e6e6e" stroke-width="1"/>
<line x1="429.87" y1="372.3" x2="429.87" y2="375.3" stroke="#6e6e6e" stroke-width="1"/>
<text transform="translate(430.04,384.90) scale(0.93,1)" font-size="10.3" text-anchor="middle">3480</text>
<line x1="447.85" y1="372.3" x2="447.85" y2="374.5" stroke="#6e6e6e" stroke-width="1"/>
<line x1="465.83" y1="372.3" x2="465.83" y2="375.3" stroke="#6e6e6e" stroke-width="1"/>
<text transform="translate(466.00,384.90) scale(0.93,1)" font-size="10.3" text-anchor="middle">3500</text>
<line x1="483.82" y1="372.3" x2="483.82" y2="374.5" stroke="#6e6e6e" stroke-width="1"/>
<line x1="501.80" y1="372.3" x2="501.80" y2="375.3" stroke="#6e6e6e" stroke-width="1"/>
<text transform="translate(501.96,384.90) scale(0.93,1)" font-size="10.3" text-anchor="middle">3520</text>
<line x1="283.2" y1="372.30" x2="286.0" y2="372.30" stroke="#6e6e6e" stroke-width="1"/>
<text transform="translate(282.60,375.20) scale(0.93,1)" font-size="10.3" text-anchor="end">-1.4</text>
<line x1="283.2" y1="359.57" x2="286.0" y2="359.57" stroke="#6e6e6e" stroke-width="1"/>
<text transform="translate(282.60,363.17) scale(0.93,1)" font-size="10.3" text-anchor="end">-1.2</text>
<line x1="283.2" y1="346.84" x2="286.0" y2="346.84" stroke="#6e6e6e" stroke-width="1"/>
<text transform="translate(282.60,350.44) scale(0.93,1)" font-size="10.3" text-anchor="end">-1.0</text>
<line x1="283.2" y1="334.11" x2="286.0" y2="334.11" stroke="#6e6e6e" stroke-width="1"/>
<text transform="translate(282.60,337.71) scale(0.93,1)" font-size="10.3" text-anchor="end">-0.8</text>
<line x1="283.2" y1="321.38" x2="286.0" y2="321.38" stroke="#6e6e6e" stroke-width="1"/>
<text transform="translate(282.60,324.98) scale(0.93,1)" font-size="10.3" text-anchor="end">-0.6</text>
<line x1="283.2" y1="308.65" x2="286.0" y2="308.65" stroke="#6e6e6e" stroke-width="1"/>
<text transform="translate(282.60,312.25) scale(0.93,1)" font-size="10.3" text-anchor="end">-0.4</text>
<line x1="283.2" y1="295.92" x2="286.0" y2="295.92" stroke="#6e6e6e" stroke-width="1"/>
<text transform="translate(282.60,299.52) scale(0.93,1)" font-size="10.3" text-anchor="end">-0.2</text>
<line x1="283.2" y1="283.18" x2="286.0" y2="283.18" stroke="#6e6e6e" stroke-width="1"/>
<text transform="translate(282.60,286.78) scale(0.93,1)" font-size="10.3" text-anchor="end">0</text>
<line x1="283.2" y1="270.45" x2="286.0" y2="270.45" stroke="#6e6e6e" stroke-width="1"/>
<text transform="translate(282.60,274.05) scale(0.93,1)" font-size="10.3" text-anchor="end">0.2</text>
<line x1="283.2" y1="257.72" x2="286.0" y2="257.72" stroke="#6e6e6e" stroke-width="1"/>
<text transform="translate(282.60,261.32) scale(0.93,1)" font-size="10.3" text-anchor="end">0.4</text>
<line x1="283.2" y1="244.99" x2="286.0" y2="244.99" stroke="#6e6e6e" stroke-width="1"/>
<text transform="translate(282.60,248.59) scale(0.93,1)" font-size="10.3" text-anchor="end">0.6</text>
<line x1="283.2" y1="232.26" x2="286.0" y2="232.26" stroke="#6e6e6e" stroke-width="1"/>
<text transform="translate(282.60,235.86) scale(0.93,1)" font-size="10.3" text-anchor="end">0.8</text>
<line x1="283.2" y1="219.53" x2="286.0" y2="219.53" stroke="#6e6e6e" stroke-width="1"/>
<text transform="translate(282.60,223.13) scale(0.93,1)" font-size="10.3" text-anchor="end">1.0</text>
<line x1="283.2" y1="206.80" x2="286.0" y2="206.80" stroke="#6e6e6e" stroke-width="1"/>
<text transform="translate(282.60,210.40) scale(0.93,1)" font-size="10.3" text-anchor="end">1.2</text>
<text transform="translate(394.40,398.00) scale(0.98,1)" font-size="11.9" text-anchor="middle">Magnetic Field (G)</text>
<text transform="translate(262.80,282.80) scale(0.9,1) rotate(-90)" font-size="11.4" text-anchor="middle">Intensity</text>
<text transform="translate(290.00,219.70) scale(0.95,1)" font-size="12.3" text-anchor="start">(e)</text>
<text transform="translate(479.90,220.50) scale(0.96,1)" font-size="11.7" text-anchor="start">1 h</text>
<path d="M532.1,353.9 L532.7,354.4 L533.2,354.8 L533.8,355.3 L534.3,355.7 L534.9,356.1 L535.4,356.4 L536.0,356.8 L536.5,357.1 L537.1,357.5 L537.6,357.9 L538.2,358.3 L538.7,358.6 L539.3,358.9 L539.8,359.1 L540.4,359.3 L540.9,359.4 L541.5,359.4 L542.0,359.4 L542.6,359.4 L543.1,359.4 L543.7,359.4 L544.2,359.4 L544.8,359.4 L545.3,359.4 L545.9,359.4 L546.4,359.4 L547.0,359.4 L547.6,359.4 L548.1,359.4 L548.7,359.4 L549.2,359.4 L549.8,359.4 L550.3,359.4 L550.9,359.4 L551.4,359.4 L552.0,359.5 L552.5,359.5 L553.1,359.5 L553.6,359.5 L554.2,359.6 L554.7,359.6 L555.3,359.6 L555.8,359.7 L556.4,359.7 L556.9,359.7 L557.5,359.7 L558.0,359.8 L558.6,359.8 L559.1,359.8 L559.7,359.8 L560.2,359.8 L560.8,359.8 L561.3,359.8 L561.9,359.8 L562.5,359.7 L563.0,359.7 L563.6,359.7 L564.1,359.7 L564.7,359.7 L565.2,359.6 L565.8,359.6 L566.3,359.6 L566.9,359.5 L567.4,359.5 L568.0,359.5 L568.5,359.4 L569.1,359.4 L569.6,359.4 L570.2,359.3 L570.7,359.3 L571.3,359.3 L571.8,359.2 L572.4,359.2 L572.9,359.1 L573.5,359.1 L574.0,359.0 L574.6,359.0 L575.1,358.9 L575.7,358.8 L576.3,358.8 L576.8,358.7 L577.4,358.6 L577.9,358.5 L578.5,358.4 L579.0,358.3 L579.6,358.2 L580.1,358.0 L580.7,357.8 L581.2,357.6 L581.8,357.4 L582.3,357.2 L582.9,357.0 L583.4,356.7 L584.0,356.4 L584.5,356.0 L585.1,355.6 L585.6,355.1 L586.2,354.6 L586.7,354.2 L587.3,353.8 L587.8,353.4 L588.4,353.1 L588.9,352.7 L589.5,352.3 L590.0,351.9 L590.6,351.6 L591.2,351.3 L591.7,351.0 L592.3,350.7 L592.8,350.6 L593.4,350.4 L593.9,350.2 L594.5,350.1 L595.0,350.0 L595.6,349.8 L596.1,349.7 L596.7,349.6 L597.2,349.5 L597.8,349.4 L598.3,349.3 L598.9,349.2 L599.4,349.1 L600.0,349.0 L600.5,348.9 L601.1,348.9 L601.6,348.8 L602.2,348.7 L602.7,348.6 L603.3,348.5 L603.8,348.5 L604.4,348.4 L604.9,348.3 L605.5,348.2 L606.1,348.1 L606.6,348.1 L607.2,348.0 L607.7,347.9 L608.3,347.8 L608.8,347.7 L609.4,347.6 L609.9,347.5 L610.5,347.4 L611.0,347.3 L611.6,347.1 L612.1,347.0 L612.7,346.9 L613.2,346.8 L613.8,346.7 L614.3,346.5 L614.9,346.4 L615.4,346.2 L616.0,346.1 L616.5,345.9 L617.1,345.7 L617.6,345.5 L618.2,345.3 L618.7,345.0 L619.3,344.8 L619.8,344.4 L620.4,344.1 L621.0,343.7 L621.5,343.3 L622.1,342.8 L622.6,342.3 L623.2,341.8 L623.7,341.2 L624.3,340.5 L624.8,339.8 L625.4,338.8 L625.9,337.8 L626.5,336.7 L627.0,335.4 L627.6,334.1 L628.1,332.6 L628.7,330.8 L629.2,328.9 L629.8,326.7 L630.3,324.5 L630.9,322.0 L631.4,319.3 L632.0,316.3 L632.5,313.2 L633.1,309.9 L633.6,306.6 L634.2,303.0 L634.7,299.3 L635.3,295.4 L635.9,291.5 L636.4,287.4 L637.0,282.9 L637.5,278.0 L638.1,272.7 L638.6,267.4 L639.2,262.1 L639.7,257.2 L640.3,252.2 L640.8,247.3 L641.4,242.4 L641.9,237.7 L642.5,233.3 L643.0,229.1 L643.6,225.0 L644.1,221.0 L644.7,217.4 L645.2,214.5 L645.8,212.2 L646.3,210.1 L646.9,208.8 L647.4,208.8 L648.0,210.0 L648.5,211.7 L649.1,213.6 L649.7,215.6 L650.2,217.8 L650.8,220.4 L651.3,223.3 L651.9,226.4 L652.4,230.0 L653.0,234.3 L653.5,239.5 L654.1,245.4 L654.6,251.6 L655.2,257.9 L655.7,263.9 L656.3,269.8 L656.8,276.0 L657.4,283.0 L657.9,291.5 L658.5,303.7 L659.0,311.1 L659.6,316.1 L660.1,320.0 L660.7,323.5 L661.2,326.8 L661.8,329.9 L662.3,332.8 L662.9,335.4 L663.4,337.9 L664.0,340.2 L664.6,342.3 L665.1,344.3 L665.7,346.1 L666.2,347.8 L666.8,349.3 L667.3,350.7 L667.9,352.0 L668.4,353.2 L669.0,354.2 L669.5,355.2 L670.1,356.0 L670.6,356.7 L671.2,357.4 L671.7,358.0 L672.3,358.5 L672.8,358.9 L673.4,359.1 L673.9,359.4 L674.5,359.6 L675.0,359.8 L675.6,360.0 L676.1,360.1 L676.7,360.2 L677.2,360.3 L677.8,360.4 L678.3,360.4 L678.9,360.5 L679.5,360.5 L680.0,360.6 L680.6,360.6 L681.1,360.7 L681.7,360.7 L682.2,360.7 L682.8,360.7 L683.3,360.7 L683.9,360.7 L684.4,360.6 L685.0,360.5 L685.5,360.4 L686.1,360.2 L686.6,360.1 L687.2,359.9 L687.7,359.8 L688.3,359.7 L688.8,359.6 L689.4,359.6 L689.9,359.6 L690.5,359.7 L691.0,359.7 L691.6,359.8 L692.1,359.8 L692.7,359.9 L693.2,360.0 L693.8,360.0 L694.4,360.1 L694.9,360.2 L695.5,360.3 L696.0,360.3 L696.6,360.3 L697.1,360.3 L697.7,360.3 L698.2,360.3 L698.8,360.3 L699.3,360.2 L699.9,360.1 L700.4,360.0 L701.0,359.9 L701.5,359.8 L702.1,359.7 L702.6,359.5 L703.2,359.4 L703.7,359.2 L704.3,359.1 L704.8,358.9 L705.4,358.8 L705.9,358.6 L706.5,358.5 L707.0,358.3 L707.6,358.2 L708.1,358.0 L708.7,357.9 L709.3,357.7 L709.8,357.5 L710.4,357.3 L710.9,357.1 L711.5,356.9 L712.0,356.7 L712.6,356.5 L713.1,356.3 L713.7,356.1 L714.2,355.9 L714.8,355.7 L715.3,355.5 L715.9,355.3 L716.4,355.0 L717.0,354.8 L717.5,354.6 L718.1,354.3 L718.6,354.1 L719.2,353.8 L719.7,353.6 L720.3,353.3 L720.8,353.1 L721.4,352.9 L721.9,352.6 L722.5,352.4 L723.1,352.2 L723.6,351.9 L724.2,351.7 L724.7,351.5 L725.3,351.3 L725.8,351.2 L726.4,351.2 L726.9,351.2 L727.5,351.2 L728.0,351.2 L728.6,351.2 L729.1,351.2 L729.7,351.2 L730.2,351.2 L730.8,351.2 L731.3,351.2 L731.9,351.2 L732.4,351.2 L733.0,351.3 L733.5,351.5 L734.1,351.7 L734.6,352.0 L735.2,352.3 L735.7,352.6 L736.3,352.9 L736.8,353.1 L737.4,353.3 L738.0,353.4 L738.5,353.5 L739.1,353.6 L739.6,353.7 L740.2,353.7 L740.7,353.8 L741.3,353.8 L741.8,353.9 L742.4,353.9 L742.9,353.9 L743.5,353.9 L744.0,353.9 L744.6,353.9 L745.1,353.9 L745.7,353.9 L746.2,353.9 L746.8,353.9 L747.3,353.9 L747.9,353.9 L748.4,353.9 L749.0,353.9 L749.5,353.9 L750.1,353.9 L750.6,353.9 L751.2,353.9 L751.7,353.9 L752.3,353.9" fill="none" stroke="#22b8d8" stroke-width="0.8" stroke-linejoin="round"/>
<path d="M532.1,353.9 L532.7,354.2 L533.2,354.5 L533.8,354.7 L534.3,355.0 L534.9,355.3 L535.4,355.6 L536.0,355.8 L536.5,356.1 L537.1,356.5 L537.6,356.8 L538.2,357.1 L538.7,357.4 L539.3,357.7 L539.8,358.0 L540.4,358.2 L540.9,358.4 L541.5,358.6 L542.0,358.7 L542.6,358.8 L543.1,359.0 L543.7,359.1 L544.2,359.2 L544.8,359.3 L545.3,359.3 L545.9,359.4 L546.4,359.4 L547.0,359.4 L547.6,359.4 L548.1,359.4 L548.7,359.4 L549.2,359.3 L549.8,359.3 L550.3,359.3 L550.9,359.2 L551.4,359.2 L552.0,359.1 L552.5,359.1 L553.1,359.1 L553.6,359.1 L554.2,359.1 L554.7,359.1 L555.3,359.2 L555.8,359.3 L556.4,359.5 L556.9,359.6 L557.5,359.8 L558.0,360.1 L558.6,360.3 L559.1,360.5 L559.7,360.8 L560.2,361.0 L560.8,361.2 L561.3,361.3 L561.9,361.5 L562.5,361.6 L563.0,361.6 L563.6,361.6 L564.1,361.6 L564.7,361.5 L565.2,361.3 L565.8,361.2 L566.3,361.0 L566.9,360.8 L567.4,360.7 L568.0,360.5 L568.5,360.4 L569.1,360.3 L569.6,360.2 L570.2,360.2 L570.7,360.1 L571.3,360.1 L571.8,360.0 L572.4,360.0 L572.9,359.9 L573.5,359.9 L574.0,359.8 L574.6,359.8 L575.1,359.7 L575.7,359.7 L576.3,359.6 L576.8,359.6 L577.4,359.5 L577.9,359.4 L578.5,359.4 L579.0,359.3 L579.6,359.1 L580.1,359.0 L580.7,358.9 L581.2,358.8 L581.8,358.7 L582.3,358.6 L582.9,358.5 L583.4,358.5 L584.0,358.6 L584.5,358.8 L585.1,359.1 L585.6,359.3 L586.2,359.4 L586.7,359.2 L587.3,358.7 L587.8,358.0 L588.4,357.3 L588.9,356.7 L589.5,356.3 L590.0,355.8 L590.6,355.4 L591.2,355.0 L591.7,354.6 L592.3,354.3 L592.8,353.9 L593.4,353.6 L593.9,353.3 L594.5,353.0 L595.0,352.7 L595.6,352.4 L596.1,352.2 L596.7,351.9 L597.2,351.7 L597.8,351.5 L598.3,351.3 L598.9,351.1 L599.4,351.0 L600.0,350.9 L600.5,350.8 L601.1,350.7 L601.6,350.6 L602.2,350.6 L602.7,350.5 L603.3,350.5 L603.8,350.4 L604.4,350.4 L604.9,350.3 L605.5,350.3 L606.1,350.2 L606.6,350.2 L607.2,350.1 L607.7,350.1 L608.3,350.0 L608.8,349.9 L609.4,349.8 L609.9,349.6 L610.5,349.4 L611.0,349.2 L611.6,349.0 L612.1,348.8 L612.7,348.5 L613.2,348.3 L613.8,348.0 L614.3,347.8 L614.9,347.5 L615.4,347.3 L616.0,347.1 L616.5,346.8 L617.1,346.7 L617.6,346.5 L618.2,346.3 L618.7,346.1 L619.3,346.0 L619.8,345.8 L620.4,345.6 L621.0,345.4 L621.5,345.2 L622.1,344.9 L622.6,344.6 L623.2,344.2 L623.7,343.8 L624.3,343.3 L624.8,342.7 L625.4,342.1 L625.9,341.4 L626.5,340.7 L627.0,340.0 L627.6,339.1 L628.1,338.1 L628.7,336.9 L629.2,335.7 L629.8,334.4 L630.3,333.1 L630.9,331.7 L631.4,330.1 L632.0,328.5 L632.5,326.6 L633.1,324.7 L633.6,322.6 L634.2,320.2 L634.7,317.5 L635.3,314.6 L635.9,311.5 L636.4,308.2 L637.0,304.8 L637.5,301.0 L638.1,296.9 L638.6,292.6 L639.2,288.0 L639.7,282.9 L640.3,277.2 L640.8,271.4 L641.4,265.7 L641.9,260.4 L642.5,255.5 L643.0,250.8 L643.6,246.2 L644.1,241.7 L644.7,237.4 L645.2,233.1 L645.8,229.0 L646.3,224.6 L646.9,220.2 L647.4,216.9 L648.0,215.4 L648.5,214.6 L649.1,213.3 L649.7,211.5 L650.2,211.5 L650.8,212.9 L651.3,214.8 L651.9,217.1 L652.4,220.0 L653.0,223.5 L653.5,227.3 L654.1,231.4 L654.6,236.0 L655.2,241.1 L655.7,246.7 L656.3,252.6 L656.8,258.9 L657.4,266.1 L657.9,274.4 L658.5,282.2 L659.0,288.7 L659.6,294.4 L660.1,299.7 L660.7,304.7 L661.2,309.6 L661.8,314.5 L662.3,319.1 L662.9,323.3 L663.4,326.8 L664.0,330.0 L664.6,332.8 L665.1,335.4 L665.7,337.9 L666.2,340.2 L666.8,342.4 L667.3,344.6 L667.9,346.6 L668.4,348.4 L669.0,350.1 L669.5,351.4 L670.1,352.7 L670.6,353.8 L671.2,354.7 L671.7,355.5 L672.3,356.2 L672.8,356.9 L673.4,357.5 L673.9,357.9 L674.5,358.2 L675.0,358.3 L675.6,358.5 L676.1,358.6 L676.7,358.7 L677.2,358.8 L677.8,358.8 L678.3,358.9 L678.9,358.9 L679.5,358.9 L680.0,358.9 L680.6,358.9 L681.1,358.9 L681.7,358.9 L682.2,358.9 L682.8,358.9 L683.3,358.9 L683.9,358.9 L684.4,358.9 L685.0,358.9 L685.5,358.8 L686.1,358.8 L686.6,358.6 L687.2,358.5 L687.7,358.3 L688.3,358.1 L688.8,358.0 L689.4,357.8 L689.9,357.4 L690.5,357.1 L691.0,357.1 L691.6,358.1 L692.1,359.4 L692.7,360.0 L693.2,360.0 L693.8,360.0 L694.4,359.9 L694.9,359.9 L695.5,359.9 L696.0,359.9 L696.6,359.8 L697.1,359.8 L697.7,359.8 L698.2,359.7 L698.8,359.6 L699.3,359.5 L699.9,359.4 L700.4,359.3 L701.0,359.2 L701.5,359.0 L702.1,358.9 L702.6,358.7 L703.2,358.6 L703.7,358.4 L704.3,358.2 L704.8,358.1 L705.4,357.9 L705.9,357.7 L706.5,357.6 L707.0,357.4 L707.6,357.2 L708.1,357.0 L708.7,356.9 L709.3,356.7 L709.8,356.5 L710.4,356.2 L710.9,356.0 L711.5,355.8 L712.0,355.6 L712.6,355.4 L713.1,355.2 L713.7,355.0 L714.2,354.8 L714.8,354.6 L715.3,354.4 L715.9,354.2 L716.4,354.0 L717.0,353.8 L717.5,353.6 L718.1,353.5 L718.6,353.3 L719.2,353.1 L719.7,352.9 L720.3,352.7 L720.8,352.5 L721.4,352.3 L721.9,352.1 L722.5,351.8 L723.1,351.5 L723.6,351.2 L724.2,350.9 L724.7,350.7 L725.3,350.5 L725.8,350.3 L726.4,350.2 L726.9,350.2 L727.5,350.2 L728.0,350.3 L728.6,350.3 L729.1,350.3 L729.7,350.3 L730.2,350.4 L730.8,350.4 L731.3,350.5 L731.9,350.6 L732.4,350.7 L733.0,351.1 L733.5,351.8 L734.1,352.5 L734.6,353.2 L735.2,353.7 L735.7,353.9 L736.3,353.9 L736.8,353.9 L737.4,353.9 L738.0,353.9 L738.5,353.9 L739.1,353.9 L739.6,353.9 L740.2,353.9 L740.7,353.9 L741.3,353.9 L741.8,353.9 L742.4,353.9 L742.9,353.9 L743.5,353.9 L744.0,353.9 L744.6,353.9 L745.1,353.9 L745.7,353.9 L746.2,353.9 L746.8,353.9 L747.3,353.9 L747.9,353.9 L748.4,353.9 L749.0,353.9 L749.5,353.9 L750.1,353.9 L750.6,353.9 L751.2,353.9 L751.7,353.9 L752.3,353.9" fill="none" stroke="#2444f2" stroke-width="0.8" stroke-linejoin="round"/>
<line x1="532.1" y1="353.91" x2="752.3" y2="353.91" stroke="#555" stroke-width="0.7" stroke-dasharray="1.45 1.4"/>
<path d="M532.1,206.8 H752.3 V372.3" fill="none" stroke="#777" stroke-width="0.9"/>
<path d="M532.1,206.35000000000002 V372.3 H752.75" fill="none" stroke="#828282" stroke-width="1.25"/>
<line x1="532.10" y1="372.3" x2="532.10" y2="375.3" stroke="#6e6e6e" stroke-width="1"/>
<text transform="translate(533.30,384.90) scale(0.93,1)" font-size="10.3" text-anchor="middle">3400</text>
<line x1="550.45" y1="372.3" x2="550.45" y2="374.5" stroke="#6e6e6e" stroke-width="1"/>
<line x1="568.80" y1="372.3" x2="568.80" y2="375.3" stroke="#6e6e6e" stroke-width="1"/>
<text transform="translate(569.26,384.90) scale(0.93,1)" font-size="10.3" text-anchor="middle">3420</text>
<line x1="587.15" y1="372.3" x2="587.15" y2="374.5" stroke="#6e6e6e" stroke-width="1"/>
<line x1="605.50" y1="372.3" x2="605.50" y2="375.3" stroke="#6e6e6e" stroke-width="1"/>
<text transform="translate(605.22,384.90) scale(0.93,1)" font-size="10.3" text-anchor="middle">3440</text>
<line x1="623.85" y1="372.3" x2="623.85" y2="374.5" stroke="#6e6e6e" stroke-width="1"/>
<line x1="642.20" y1="372.3" x2="642.20" y2="375.3" stroke="#6e6e6e" stroke-width="1"/>
<text transform="translate(641.18,384.90) scale(0.93,1)" font-size="10.3" text-anchor="middle">3460</text>
<line x1="660.55" y1="372.3" x2="660.55" y2="374.5" stroke="#6e6e6e" stroke-width="1"/>
<line x1="678.90" y1="372.3" x2="678.90" y2="375.3" stroke="#6e6e6e" stroke-width="1"/>
<text transform="translate(677.14,384.90) scale(0.93,1)" font-size="10.3" text-anchor="middle">3480</text>
<line x1="697.25" y1="372.3" x2="697.25" y2="374.5" stroke="#6e6e6e" stroke-width="1"/>
<line x1="715.60" y1="372.3" x2="715.60" y2="375.3" stroke="#6e6e6e" stroke-width="1"/>
<text transform="translate(713.10,384.90) scale(0.93,1)" font-size="10.3" text-anchor="middle">3500</text>
<line x1="733.95" y1="372.3" x2="733.95" y2="374.5" stroke="#6e6e6e" stroke-width="1"/>
<line x1="752.30" y1="372.3" x2="752.30" y2="375.3" stroke="#6e6e6e" stroke-width="1"/>
<text transform="translate(749.06,384.90) scale(0.93,1)" font-size="10.3" text-anchor="middle">3520</text>
<line x1="529.3000000000001" y1="372.30" x2="532.1" y2="372.30" stroke="#6e6e6e" stroke-width="1"/>
<text transform="translate(528.70,375.20) scale(0.93,1)" font-size="10.3" text-anchor="end">-1</text>
<line x1="529.3000000000001" y1="353.91" x2="532.1" y2="353.91" stroke="#6e6e6e" stroke-width="1"/>
<text transform="translate(528.70,357.51) scale(0.93,1)" font-size="10.3" text-anchor="end">0</text>
<line x1="529.3000000000001" y1="335.52" x2="532.1" y2="335.52" stroke="#6e6e6e" stroke-width="1"/>
<text transform="translate(528.70,339.12) scale(0.93,1)" font-size="10.3" text-anchor="end">1</text>
<line x1="529.3000000000001" y1="317.13" x2="532.1" y2="317.13" stroke="#6e6e6e" stroke-width="1"/>
<text transform="translate(528.70,320.73) scale(0.93,1)" font-size="10.3" text-anchor="end">2</text>
<line x1="529.3000000000001" y1="298.74" x2="532.1" y2="298.74" stroke="#6e6e6e" stroke-width="1"/>
<text transform="translate(528.70,302.34) scale(0.93,1)" font-size="10.3" text-anchor="end">3</text>
<line x1="529.3000000000001" y1="280.36" x2="532.1" y2="280.36" stroke="#6e6e6e" stroke-width="1"/>
<text transform="translate(528.70,283.96) scale(0.93,1)" font-size="10.3" text-anchor="end">4</text>
<line x1="529.3000000000001" y1="261.97" x2="532.1" y2="261.97" stroke="#6e6e6e" stroke-width="1"/>
<text transform="translate(528.70,265.57) scale(0.93,1)" font-size="10.3" text-anchor="end">5</text>
<line x1="529.3000000000001" y1="243.58" x2="532.1" y2="243.58" stroke="#6e6e6e" stroke-width="1"/>
<text transform="translate(528.70,247.18) scale(0.93,1)" font-size="10.3" text-anchor="end">6</text>
<line x1="529.3000000000001" y1="225.19" x2="532.1" y2="225.19" stroke="#6e6e6e" stroke-width="1"/>
<text transform="translate(528.70,228.79) scale(0.93,1)" font-size="10.3" text-anchor="end">7</text>
<line x1="529.3000000000001" y1="206.80" x2="532.1" y2="206.80" stroke="#6e6e6e" stroke-width="1"/>
<text transform="translate(528.70,210.40) scale(0.93,1)" font-size="10.3" text-anchor="end">8</text>
<text transform="translate(641.50,398.00) scale(0.98,1)" font-size="11.9" text-anchor="middle">Magnetic Field (G)</text>
<text transform="translate(514.60,283.60) scale(0.9,1) rotate(-90)" font-size="11.4" text-anchor="middle">Intensity</text>
<text transform="translate(537.90,219.70) scale(0.95,1)" font-size="12.3" text-anchor="start">(f)</text>
<text transform="translate(669.50,243.90) scale(0.96,1)" font-size="11.7" text-anchor="start">1 h</text>
<text transform="translate(669.90,295.70) scale(0.96,1)" font-size="11.7" text-anchor="start">5 min</text>
<line x1="653.10" y1="235.20" x2="668.00" y2="240.40" stroke="#555" stroke-width="0.8"/>
<line x1="659.20" y1="288.30" x2="666.20" y2="291.00" stroke="#555" stroke-width="0.8"/>
<path d="M33.0,485.3 L33.2,485.6 L33.4,488.4 L33.6,488.3 L33.9,487.0 L34.1,489.0 L34.3,492.2 L34.5,486.5 L34.7,490.4 L34.9,491.2 L35.2,489.3 L35.4,485.0 L35.6,484.2 L35.8,487.1 L36.0,487.7 L36.2,487.1 L36.5,487.6 L36.7,487.4 L36.9,488.6 L37.1,486.6 L37.3,487.0 L37.5,490.5 L37.8,487.8 L38.0,486.6 L38.2,486.4 L38.4,488.4 L38.6,489.4 L38.8,488.5 L39.0,487.0 L39.3,490.1 L39.5,488.3 L39.7,485.6 L39.9,487.9 L40.1,488.4 L40.3,487.1 L40.6,486.2 L40.8,485.4 L41.0,488.1 L41.2,489.3 L41.4,487.1 L41.6,486.2 L41.9,488.7 L42.1,487.6 L42.3,486.2 L42.5,486.1 L42.7,486.4 L42.9,487.0 L43.2,487.9 L43.4,487.6 L43.6,485.2 L43.8,487.1 L44.0,485.0 L44.2,486.8 L44.4,483.4 L44.7,490.7 L44.9,485.0 L45.1,486.6 L45.3,486.1 L45.5,485.9 L45.7,485.8 L46.0,482.4 L46.2,484.9 L46.4,486.9 L46.6,484.4 L46.8,484.2 L47.0,486.3 L47.3,484.4 L47.5,484.4 L47.7,483.4 L47.9,483.4 L48.1,484.5 L48.3,484.5 L48.6,481.2 L48.8,483.7 L49.0,486.5 L49.2,485.6 L49.4,485.1 L49.6,483.1 L49.8,479.3 L50.1,482.9 L50.3,483.0 L50.5,481.4 L50.7,482.7 L50.9,482.9 L51.1,482.0 L51.4,483.4 L51.6,483.6 L51.8,483.0 L52.0,483.6 L52.2,485.4 L52.4,486.1 L52.7,483.9 L52.9,479.6 L53.1,483.6 L53.3,482.9 L53.5,483.9 L53.7,485.8 L54.0,488.6 L54.2,485.4 L54.4,485.8 L54.6,487.1 L54.8,483.9 L55.0,485.0 L55.2,485.2 L55.5,486.3 L55.7,485.8 L55.9,486.2 L56.1,484.6 L56.3,486.0 L56.5,488.1 L56.8,486.4 L57.0,486.3 L57.2,487.1 L57.4,488.3 L57.6,485.8 L57.8,487.1 L58.1,485.0 L58.3,487.4 L58.5,487.1 L58.7,487.1 L58.9,486.2 L59.1,483.4 L59.4,486.6 L59.6,484.2 L59.8,485.9 L60.0,487.7 L60.2,485.3 L60.4,485.4 L60.7,485.9 L60.9,488.7 L61.1,486.9 L61.3,487.6 L61.5,487.4 L61.7,487.3 L61.9,486.5 L62.2,484.6 L62.4,486.4 L62.6,488.5 L62.8,482.8 L63.0,485.7 L63.2,486.9 L63.5,489.1 L63.7,486.6 L63.9,486.8 L64.1,485.0 L64.3,485.2 L64.5,485.1 L64.8,487.0 L65.0,488.6 L65.2,485.1 L65.4,485.4 L65.6,487.1 L65.8,487.5 L66.1,489.6 L66.3,489.2 L66.5,487.9 L66.7,485.8 L66.9,483.2 L67.1,484.0 L67.3,483.3 L67.6,486.1 L67.8,484.0 L68.0,485.2 L68.2,483.0 L68.4,483.1 L68.6,484.9 L68.9,484.8 L69.1,483.7 L69.3,486.8 L69.5,488.5 L69.7,484.1 L69.9,482.5 L70.2,487.5 L70.4,485.9 L70.6,487.2 L70.8,486.5 L71.0,486.4 L71.2,482.7 L71.5,485.7 L71.7,486.3 L71.9,487.0 L72.1,485.0 L72.3,486.3 L72.5,486.4 L72.7,486.3 L73.0,487.9 L73.2,486.6 L73.4,488.2 L73.6,486.7 L73.8,486.4 L74.0,486.6 L74.3,486.6 L74.5,486.9 L74.7,485.5 L74.9,486.1 L75.1,486.9 L75.3,486.8 L75.6,487.3 L75.8,486.8 L76.0,488.0 L76.2,488.7 L76.4,484.6 L76.6,487.1 L76.9,488.9 L77.1,487.1 L77.3,489.6 L77.5,487.6 L77.7,486.3 L77.9,486.9 L78.1,486.7 L78.4,487.4 L78.6,487.4 L78.8,486.8 L79.0,486.5 L79.2,488.2 L79.4,486.6 L79.7,486.5 L79.9,487.9 L80.1,487.9 L80.3,486.6 L80.5,485.0 L80.7,485.3 L81.0,488.1 L81.2,488.2 L81.4,488.0 L81.6,486.8 L81.8,487.2 L82.0,486.4 L82.3,485.2 L82.5,486.4 L82.7,486.5 L82.9,487.2 L83.1,490.1 L83.3,488.2 L83.5,488.3 L83.8,487.6 L84.0,485.0 L84.2,486.4 L84.4,490.5 L84.6,489.7 L84.8,486.6 L85.1,485.9 L85.3,486.4 L85.5,485.6 L86.2,493.6 L87.0,482.4 L87.2,483.2 L87.4,482.2 L87.7,480.2 L87.9,479.9 L88.1,482.9 L88.3,477.8 L88.5,480.3 L88.7,479.6 L88.9,481.8 L89.2,479.6 L89.4,480.1 L89.6,480.6 L89.8,481.0 L90.0,480.8 L90.2,480.2 L90.5,483.3 L90.7,481.8 L90.9,482.1 L91.1,483.5 L91.3,481.6 L91.5,481.6 L91.8,482.6 L92.0,484.0 L92.2,483.5 L92.4,482.5 L92.6,482.2 L92.8,482.5 L93.1,483.8 L93.3,481.2 L93.5,481.0 L93.7,481.2 L93.9,481.5 L94.1,480.5 L94.3,480.6 L94.6,478.5 L94.8,481.6 L95.0,482.4 L95.2,482.2 L95.4,483.9 L95.6,483.5 L95.9,483.0 L96.1,484.6 L96.3,487.0 L96.5,484.9 L96.7,484.2 L96.9,482.7 L97.2,486.0 L97.4,484.5 L97.6,481.8 L97.8,486.4 L98.0,484.6 L98.2,485.6 L98.5,488.3 L98.7,484.8 L98.9,485.5 L99.1,487.8 L99.3,485.5 L99.5,485.3 L99.7,482.2 L100.0,483.4 L100.2,485.0 L100.4,482.1 L100.6,478.5 L100.8,487.1 L101.0,485.7 L101.3,483.7 L101.5,483.1 L101.7,483.4 L101.9,485.2 L102.1,483.7 L102.3,484.9 L102.6,484.1 L102.8,482.0 L103.0,483.4 L103.2,482.1 L103.4,482.9 L103.6,482.3 L103.9,482.0 L104.1,481.2 L104.3,481.2 L104.5,482.5 L104.7,479.7 L104.9,480.3 L105.1,480.0 L105.4,480.1 L105.6,481.9 L105.8,481.7 L106.0,481.0 L106.2,479.7 L106.4,478.0 L106.7,476.9 L106.9,476.1 L107.1,476.7 L107.3,477.7 L107.5,480.6 L107.7,483.2 L108.0,480.8 L108.2,480.7 L108.4,481.5 L108.6,480.3 L108.8,479.2 L109.0,479.2 L109.3,478.1 L109.5,478.2 L109.7,478.2 L109.9,477.4 L110.1,478.9 L110.3,478.6 L110.5,476.6 L110.8,477.5 L111.0,480.5 L111.2,478.4 L111.4,476.2 L111.6,477.0 L111.8,476.9 L112.1,479.9 L112.3,478.4 L112.5,480.5 L112.7,477.7 L112.9,478.9 L113.1,476.4 L113.4,479.4 L113.6,477.6 L113.8,476.9 L114.0,477.5 L114.2,479.0 L114.4,476.4 L114.7,476.6 L114.9,473.5 L115.1,476.2 L115.3,476.2 L115.5,476.2 L115.7,473.4 L116.0,473.3 L116.2,473.9 L116.4,472.1 L116.6,476.2 L116.8,476.5 L117.0,473.9 L117.2,475.9 L117.5,476.4 L117.7,479.2 L117.9,475.9 L118.1,473.9 L118.3,474.5 L118.5,475.8 L118.8,473.0 L119.0,473.7 L119.2,476.9 L119.4,475.4 L119.6,474.4 L119.8,473.5 L120.1,472.1 L120.3,470.8 L120.5,471.8 L120.7,471.5 L120.9,469.3 L121.1,468.9 L121.4,470.5 L121.6,469.1 L121.8,471.8 L122.0,468.4 L122.2,469.3 L122.4,472.2 L122.6,470.3 L122.9,468.5 L123.1,466.6 L123.3,466.7 L123.5,467.4 L123.7,467.9 L123.9,467.4 L124.2,468.3 L124.4,467.7 L124.6,468.8 L124.8,466.4 L125.0,464.8 L125.2,466.1 L125.5,468.4 L125.7,463.6 L125.9,463.1 L126.1,462.6 L126.3,463.2 L126.5,462.3 L126.8,461.3 L127.0,459.3 L127.2,460.6 L127.4,458.4 L127.6,457.8 L127.8,456.0 L128.0,458.2 L128.3,457.5 L128.5,454.4 L128.7,454.5 L128.9,452.4 L129.1,451.4 L129.3,452.4 L129.6,450.6 L129.8,448.9 L130.0,446.9 L130.2,444.9 L130.4,444.2 L130.6,443.5 L130.9,441.1 L131.1,440.4 L131.3,439.2 L131.5,438.0 L131.7,436.7 L131.9,434.3 L132.2,432.2 L132.4,430.3 L132.6,427.5 L132.8,427.3 L133.0,426.4 L133.2,426.0 L133.4,424.0 L133.7,421.7 L133.9,419.7 L134.1,418.7 L134.3,417.2 L134.5,417.0 L134.7,414.3 L135.0,413.9 L135.2,416.8 L135.4,417.6 L135.6,416.2 L135.8,415.0 L136.0,415.9 L136.6,466.8 L137.1,416.7 L137.3,417.4 L137.6,414.3 L137.8,415.3 L138.0,415.7 L138.2,416.0 L138.4,415.1 L138.6,413.8 L138.8,416.2 L139.1,416.7 L139.3,415.8 L139.5,417.7 L139.7,421.3 L139.9,423.2 L140.1,423.6 L140.4,425.8 L140.6,428.9 L140.8,433.7 L141.0,438.6 L141.2,444.1 L141.4,449.5 L141.7,455.1 L141.9,460.3 L142.1,466.1 L142.3,471.5 L142.5,477.2 L142.7,483.4 L143.0,487.1 L143.2,491.0 L143.4,495.8 L143.6,501.3 L143.8,505.1 L144.0,510.2 L144.2,513.9 L144.5,518.9 L144.7,523.5 L144.9,527.1 L145.1,531.7 L145.3,534.8 L145.5,538.9 L145.8,542.1 L146.0,546.3 L146.2,549.4 L146.4,553.0 L146.6,555.8 L146.8,560.2 L147.1,563.3 L147.3,566.4 L147.5,568.1 L147.7,569.3 L147.9,569.0 L148.1,569.7 L148.4,571.3 L148.6,567.8 L148.8,567.8 L149.0,566.2 L149.2,565.8 L149.4,563.7 L149.6,562.6 L149.9,561.2 L150.1,559.7 L150.3,558.7 L150.5,554.6 L150.7,551.3 L150.9,548.4 L151.2,545.2 L151.4,542.6 L151.6,540.7 L151.8,538.4 L152.0,536.6 L152.2,534.5 L152.5,533.6 L152.7,533.0 L152.9,530.6 L153.1,528.9 L153.3,526.9 L153.5,524.9 L153.8,523.0 L154.0,521.4 L154.2,521.2 L154.4,519.5 L154.6,517.1 L154.8,515.7 L155.0,514.1 L155.3,513.7 L155.5,511.1 L155.7,512.4 L155.9,512.6 L156.1,511.2 L156.3,510.3 L156.6,507.7 L156.8,507.6 L157.0,508.3 L157.2,506.0 L157.4,504.5 L157.6,505.5 L157.9,505.2 L158.1,505.0 L158.3,504.6 L158.5,504.8 L158.7,503.4 L158.9,503.4 L159.2,501.5 L159.4,499.7 L159.6,499.7 L159.8,499.8 L160.0,498.6 L160.2,499.0 L160.4,500.0 L160.7,498.7 L160.9,498.1 L161.1,498.4 L161.3,496.8 L161.5,498.6 L161.7,497.3 L162.0,496.5 L162.2,496.9 L162.4,497.1 L162.6,496.5 L162.8,497.5 L163.0,496.9 L163.3,495.0 L163.5,493.9 L163.7,494.0 L163.9,494.8 L164.1,494.4 L164.3,495.2 L164.6,494.4 L164.8,495.2 L165.0,495.6 L165.2,493.7 L165.4,493.9 L165.6,494.1 L165.8,495.5 L166.1,491.1 L166.3,491.0 L166.5,493.1 L166.7,491.6 L166.9,492.1 L167.1,493.1 L167.4,492.7 L167.6,490.6 L167.8,491.5 L168.0,490.9 L168.2,491.6 L168.4,490.3 L168.7,489.9 L168.9,489.7 L169.1,489.5 L169.3,488.6 L169.5,488.9 L169.7,490.1 L170.0,487.8 L170.2,490.0 L170.4,490.4 L170.6,489.0 L170.8,486.3 L171.0,488.2 L171.3,490.7 L171.5,490.5 L171.7,487.7 L171.9,488.0 L172.1,488.5 L172.3,490.5 L172.5,488.6 L172.8,488.5 L173.0,492.1 L173.2,491.1 L173.4,487.5 L173.6,485.3 L173.8,489.0 L174.1,487.9 L174.3,485.2 L174.5,484.7 L174.7,487.1 L174.9,490.0 L175.1,486.9 L175.4,484.7 L175.6,482.6 L175.8,483.8 L176.0,483.4 L176.2,486.3 L176.4,488.1 L176.7,487.4 L176.9,487.1 L177.1,486.2 L177.3,484.3 L177.5,485.2 L177.7,487.6 L177.9,485.3 L178.2,482.4 L178.4,480.8 L178.6,481.8 L178.8,484.8 L179.0,483.5 L179.2,484.1 L179.5,485.0 L179.7,484.8 L179.9,485.9 L180.1,485.4 L180.3,482.8 L180.5,482.7 L180.8,482.1 L181.0,478.0 L181.2,481.4 L181.4,481.3 L181.6,483.2 L181.8,483.5 L182.1,482.4 L182.3,482.3 L182.5,482.3 L182.7,480.7 L182.9,478.8 L183.1,482.5 L183.3,485.0 L183.6,478.9 L183.8,475.8 L184.0,477.4 L184.2,481.2 L184.4,480.3 L184.6,482.6 L184.9,481.0 L185.1,481.8 L185.3,481.5 L185.5,481.9 L185.7,478.3 L185.9,478.1 L186.2,479.2 L186.4,480.7 L186.6,477.6 L186.8,478.3 L187.0,480.1 L187.2,479.1 L187.5,479.7 L188.2,493.0 L188.7,484.4 L189.0,483.3 L189.2,484.8 L189.4,484.3 L189.6,486.7 L189.8,485.8 L190.0,484.8 L190.3,480.9 L190.5,485.1 L190.7,486.6 L190.9,485.1 L191.1,481.1 L191.3,481.7 L191.6,486.7 L191.8,484.3 L192.0,487.8 L192.2,484.0 L192.4,483.0 L192.6,485.2 L192.9,490.3 L193.1,487.7 L193.3,483.0 L193.5,483.8 L193.7,483.4 L193.9,484.5 L194.1,484.2 L194.4,484.5 L194.6,486.2 L194.8,482.8 L195.0,481.1 L195.2,485.2 L195.4,485.8 L195.7,485.7 L195.9,485.1 L196.1,483.5 L196.3,482.7 L196.5,482.5 L196.7,483.2 L197.0,485.0 L197.2,484.0 L197.4,484.7 L197.6,483.4 L197.8,482.3 L198.0,482.2 L198.3,480.9 L198.5,481.9 L198.7,480.3 L198.9,478.0 L199.1,481.0 L199.3,484.7 L199.5,484.5 L199.8,482.6 L200.0,481.2 L200.2,482.3 L200.4,481.4 L200.6,482.6 L200.8,482.5 L201.1,481.8 L201.3,478.8 L201.5,480.3 L201.7,483.5 L201.9,481.8 L202.1,479.3 L202.4,480.3 L202.6,478.1 L202.8,480.4 L203.0,481.1 L203.2,481.9 L203.4,481.8 L203.7,481.6 L203.9,480.3 L204.1,479.6 L204.3,481.4 L204.5,481.1 L204.7,483.2 L204.9,481.6 L205.2,480.7 L205.4,481.7 L205.6,482.6 L205.8,480.7 L206.0,479.7 L206.2,479.5 L206.5,480.1 L206.7,479.2 L206.9,481.6 L207.1,481.7 L207.3,484.1 L207.5,482.5 L207.8,481.5 L208.0,478.8 L208.2,479.6 L208.4,480.6 L208.6,483.7 L208.8,483.7 L209.1,482.9 L209.3,484.6 L209.5,483.5 L209.7,481.9 L209.9,483.1 L210.1,483.8 L210.3,480.5 L210.6,482.0 L210.8,483.5 L211.0,484.9 L211.2,482.6 L211.4,483.8 L211.6,484.8 L211.9,485.8 L212.1,482.9 L212.3,486.4 L212.5,485.3 L212.7,481.3 L212.9,482.7 L213.2,482.3 L213.4,484.2 L213.6,483.9 L213.8,485.4 L214.0,485.6 L214.2,485.1 L214.5,485.2 L214.7,484.1 L214.9,484.8 L215.1,486.1 L215.3,486.3 L215.5,483.0 L215.7,485.9 L216.0,485.6 L216.2,487.5 L216.4,487.3 L216.6,484.9 L216.8,482.6 L217.0,482.9 L217.3,486.0 L217.5,486.8 L217.7,484.5 L217.9,483.9 L218.1,486.8 L218.3,486.7 L218.6,484.3 L218.8,486.7 L219.0,485.4 L219.2,486.9 L219.4,486.3 L219.6,488.1 L219.9,486.5 L220.1,488.3 L220.3,488.8 L220.5,487.5 L220.7,485.1 L220.9,486.1 L221.1,486.6 L221.4,486.1 L221.6,487.5 L221.8,486.1 L222.0,488.3 L222.2,484.7 L222.4,486.2 L222.7,487.7 L222.9,490.8 L223.1,488.3 L223.3,487.6 L223.5,487.2 L223.7,488.9 L224.0,486.0 L224.2,487.9 L224.4,488.0 L224.6,488.4 L224.8,485.3 L225.0,488.7 L225.3,488.4 L225.5,485.7 L225.7,484.2 L225.9,487.4 L226.1,489.8 L226.3,489.6 L226.6,488.7 L226.8,486.9 L227.0,489.1 L227.2,491.0 L227.4,489.7 L227.6,489.5 L227.8,490.2 L228.1,488.2 L228.3,488.4 L228.5,492.8 L228.7,489.6 L228.9,488.5 L229.1,487.4 L229.4,488.0 L229.6,487.2 L229.8,488.3 L230.0,491.4 L230.2,491.5 L230.4,491.0 L230.7,488.4 L230.9,491.3 L231.1,491.7 L231.3,489.4 L231.5,487.9 L231.7,489.9 L232.0,491.9 L232.2,491.2 L232.4,490.1 L232.6,489.4 L232.8,488.8 L233.0,488.0 L233.2,489.0 L233.5,491.0 L233.7,486.8 L233.9,484.1 L234.1,489.2 L234.3,492.0 L234.5,486.2 L234.8,484.7 L235.0,485.9 L235.2,483.7 L235.4,483.2 L235.6,482.2 L235.8,482.9 L236.1,488.2 L236.3,485.7 L236.5,488.2 L236.7,489.3 L236.9,487.2 L237.1,486.8 L237.4,484.8 L237.6,481.4 L237.8,484.1 L238.0,486.7 L238.2,486.9 L238.4,486.8 L238.6,487.8 L238.9,483.6 L239.1,485.8 L239.3,483.6 L239.5,487.4 L239.7,487.8 L239.9,488.4 L240.2,485.2 L240.4,484.6 L240.6,487.5 L240.8,488.1 L241.0,485.9 L241.2,484.3 L241.5,485.0 L241.7,487.7 L241.9,483.7 L242.1,485.0 L242.3,484.5 L242.5,484.9 L242.8,488.0 L243.0,483.7 L243.2,482.0 L243.4,484.0 L243.6,486.2 L243.8,486.7 L244.0,484.3 L244.3,484.1 L244.5,483.3 L244.7,485.7 L244.9,485.6 L245.1,484.2 L245.3,484.4 L245.6,485.0 L245.8,486.0 L246.0,485.4 L246.2,484.3 L246.4,482.7 L246.6,483.8 L246.9,482.0 L247.1,482.7 L247.3,483.5 L247.5,483.5 L247.7,483.9 L247.9,484.8 L248.2,484.8 L248.4,482.5 L248.6,484.4 L248.8,482.8" fill="none" stroke="#1fa42d" stroke-width="0.8" stroke-linejoin="round"/>
<line x1="33.0" y1="485.32" x2="248.8" y2="485.32" stroke="#222" stroke-width="0.7" stroke-dasharray="1.7 1.3"/>
<path d="M33.0,408.8 H248.8 V574.6" fill="none" stroke="#777" stroke-width="0.9"/>
<path d="M33.0,408.35 V574.6 H249.25" fill="none" stroke="#828282" stroke-width="1.25"/>
<line x1="33.00" y1="574.6" x2="33.00" y2="577.6" stroke="#6e6e6e" stroke-width="1"/>
<text transform="translate(33.30,587.20) scale(0.93,1)" font-size="10.3" text-anchor="middle">3400</text>
<line x1="50.98" y1="574.6" x2="50.98" y2="576.8000000000001" stroke="#6e6e6e" stroke-width="1"/>
<line x1="68.97" y1="574.6" x2="68.97" y2="577.6" stroke="#6e6e6e" stroke-width="1"/>
<text transform="translate(69.26,587.20) scale(0.93,1)" font-size="10.3" text-anchor="middle">3420</text>
<line x1="86.95" y1="574.6" x2="86.95" y2="576.8000000000001" stroke="#6e6e6e" stroke-width="1"/>
<line x1="104.93" y1="574.6" x2="104.93" y2="577.6" stroke="#6e6e6e" stroke-width="1"/>
<text transform="translate(105.22,587.20) scale(0.93,1)" font-size="10.3" text-anchor="middle">3440</text>
<line x1="122.92" y1="574.6" x2="122.92" y2="576.8000000000001" stroke="#6e6e6e" stroke-width="1"/>
<line x1="140.90" y1="574.6" x2="140.90" y2="577.6" stroke="#6e6e6e" stroke-width="1"/>
<text transform="translate(141.18,587.20) scale(0.93,1)" font-size="10.3" text-anchor="middle">3460</text>
<line x1="158.88" y1="574.6" x2="158.88" y2="576.8000000000001" stroke="#6e6e6e" stroke-width="1"/>
<line x1="176.87" y1="574.6" x2="176.87" y2="577.6" stroke="#6e6e6e" stroke-width="1"/>
<text transform="translate(177.14,587.20) scale(0.93,1)" font-size="10.3" text-anchor="middle">3480</text>
<line x1="194.85" y1="574.6" x2="194.85" y2="576.8000000000001" stroke="#6e6e6e" stroke-width="1"/>
<line x1="212.83" y1="574.6" x2="212.83" y2="577.6" stroke="#6e6e6e" stroke-width="1"/>
<text transform="translate(213.10,587.20) scale(0.93,1)" font-size="10.3" text-anchor="middle">3500</text>
<line x1="230.82" y1="574.6" x2="230.82" y2="576.8000000000001" stroke="#6e6e6e" stroke-width="1"/>
<line x1="248.80" y1="574.6" x2="248.80" y2="577.6" stroke="#6e6e6e" stroke-width="1"/>
<text transform="translate(249.06,587.20) scale(0.93,1)" font-size="10.3" text-anchor="middle">3520</text>
<line x1="30.2" y1="574.60" x2="33.0" y2="574.60" stroke="#6e6e6e" stroke-width="1"/>
<text transform="translate(29.60,577.50) scale(0.93,1)" font-size="10.3" text-anchor="end">-1.4</text>
<line x1="30.2" y1="561.85" x2="33.0" y2="561.85" stroke="#6e6e6e" stroke-width="1"/>
<text transform="translate(29.60,565.45) scale(0.93,1)" font-size="10.3" text-anchor="end">-1.2</text>
<line x1="30.2" y1="549.09" x2="33.0" y2="549.09" stroke="#6e6e6e" stroke-width="1"/>
<text transform="translate(29.60,552.69) scale(0.93,1)" font-size="10.3" text-anchor="end">-1.0</text>
<line x1="30.2" y1="536.34" x2="33.0" y2="536.34" stroke="#6e6e6e" stroke-width="1"/>
<text transform="translate(29.60,539.94) scale(0.93,1)" font-size="10.3" text-anchor="end">-0.8</text>
<line x1="30.2" y1="523.58" x2="33.0" y2="523.58" stroke="#6e6e6e" stroke-width="1"/>
<text transform="translate(29.60,527.18) scale(0.93,1)" font-size="10.3" text-anchor="end">-0.6</text>
<line x1="30.2" y1="510.83" x2="33.0" y2="510.83" stroke="#6e6e6e" stroke-width="1"/>
<text transform="translate(29.60,514.43) scale(0.93,1)" font-size="10.3" text-anchor="end">-0.4</text>
<line x1="30.2" y1="498.08" x2="33.0" y2="498.08" stroke="#6e6e6e" stroke-width="1"/>
<text transform="translate(29.60,501.68) scale(0.93,1)" font-size="10.3" text-anchor="end">-0.2</text>
<line x1="30.2" y1="485.32" x2="33.0" y2="485.32" stroke="#6e6e6e" stroke-width="1"/>
<text transform="translate(29.60,488.92) scale(0.93,1)" font-size="10.3" text-anchor="end">0</text>
<line x1="30.2" y1="472.57" x2="33.0" y2="472.57" stroke="#6e6e6e" stroke-width="1"/>
<text transform="translate(29.60,476.17) scale(0.93,1)" font-size="10.3" text-anchor="end">0.2</text>
<line x1="30.2" y1="459.82" x2="33.0" y2="459.82" stroke="#6e6e6e" stroke-width="1"/>
<text transform="translate(29.60,463.42) scale(0.93,1)" font-size="10.3" text-anchor="end">0.4</text>
<line x1="30.2" y1="447.06" x2="33.0" y2="447.06" stroke="#6e6e6e" stroke-width="1"/>
<text transform="translate(29.60,450.66) scale(0.93,1)" font-size="10.3" text-anchor="end">0.6</text>
<line x1="30.2" y1="434.31" x2="33.0" y2="434.31" stroke="#6e6e6e" stroke-width="1"/>
<text transform="translate(29.60,437.91) scale(0.93,1)" font-size="10.3" text-anchor="end">0.8</text>
<line x1="30.2" y1="421.55" x2="33.0" y2="421.55" stroke="#6e6e6e" stroke-width="1"/>
<text transform="translate(29.60,425.15) scale(0.93,1)" font-size="10.3" text-anchor="end">1.0</text>
<line x1="30.2" y1="408.80" x2="33.0" y2="408.80" stroke="#6e6e6e" stroke-width="1"/>
<text transform="translate(29.60,412.40) scale(0.93,1)" font-size="10.3" text-anchor="end">1.2</text>
<text transform="translate(141.50,600.30) scale(0.98,1)" font-size="11.9" text-anchor="middle">Magnetic Field (G)</text>
<text transform="translate(10.00,484.70) scale(0.9,1) rotate(-90)" font-size="11.4" text-anchor="middle">Intensity</text>
<text transform="translate(37.90,422.00) scale(0.95,1)" font-size="12.3" text-anchor="start">(g)</text>
<text transform="translate(214.80,422.50) scale(0.96,1)" font-size="11.7" text-anchor="start">5 min</text>
<path d="M286.0,487.4 L286.2,483.9 L286.4,486.6 L286.6,488.2 L286.9,487.8 L287.1,487.8 L287.3,489.1 L287.5,489.4 L287.7,490.9 L287.9,488.2 L288.2,486.7 L288.4,488.2 L288.6,487.1 L288.8,488.2 L289.0,487.6 L289.2,488.6 L289.5,488.6 L289.7,488.0 L289.9,488.3 L290.1,486.7 L290.3,486.4 L290.5,485.7 L290.8,487.9 L291.0,485.8 L291.2,486.4 L291.4,486.2 L291.6,486.4 L291.8,484.5 L292.0,484.0 L292.3,483.1 L292.5,486.1 L292.7,488.9 L292.9,486.3 L293.1,486.4 L293.3,486.4 L293.6,485.6 L293.8,484.8 L294.0,486.0 L294.2,487.7 L294.4,487.3 L294.6,485.7 L294.9,484.7 L295.1,485.2 L295.3,485.6 L295.5,486.8 L295.7,487.4 L295.9,485.1 L296.2,486.1 L296.4,489.8 L296.6,487.2 L296.8,483.0 L297.0,484.3 L297.2,485.8 L297.4,483.1 L297.7,483.5 L297.9,484.4 L298.1,485.9 L298.3,487.1 L298.5,484.6 L298.7,483.2 L299.0,484.4 L299.2,486.3 L299.4,484.6 L299.6,486.4 L299.8,488.0 L300.0,486.1 L300.3,488.3 L300.5,485.4 L300.7,483.9 L300.9,483.3 L301.1,481.8 L301.3,484.4 L301.6,487.7 L301.8,484.7 L302.0,483.2 L302.2,485.8 L302.4,487.3 L302.6,486.3 L302.8,487.4 L303.1,486.6 L303.3,485.1 L303.5,482.8 L303.7,483.7 L303.9,483.4 L304.1,485.2 L304.4,484.5 L304.6,486.9 L304.8,485.8 L305.0,487.1 L305.2,485.9 L305.4,482.9 L305.7,487.0 L305.9,483.7 L306.1,482.8 L306.3,484.3 L306.5,486.0 L306.7,488.3 L307.0,486.8 L307.2,485.8 L307.4,486.5 L307.6,485.8 L307.8,486.2 L308.0,485.3 L308.2,487.3 L308.5,485.1 L308.7,484.5 L308.9,486.2 L309.1,483.8 L309.3,483.4 L309.5,485.3 L309.8,489.5 L310.0,486.6 L310.2,487.6 L310.4,486.9 L310.6,487.3 L310.8,486.1 L311.1,486.6 L311.3,485.2 L311.5,483.4 L311.7,486.2 L311.9,485.7 L312.1,486.5 L312.4,486.6 L312.6,487.2 L312.8,487.3 L313.0,486.8 L313.2,485.1 L313.4,484.9 L313.7,485.9 L313.9,485.1 L314.1,484.9 L314.3,485.9 L314.5,488.7 L314.7,486.8 L314.9,485.0 L315.2,485.9 L315.4,486.7 L315.6,486.9 L315.8,486.4 L316.0,486.8 L316.2,485.8 L316.5,486.6 L316.7,486.7 L316.9,486.0 L317.1,485.4 L317.3,486.5 L317.5,485.7 L317.8,487.2 L318.0,488.4 L318.2,487.1 L318.4,486.3 L318.6,486.5 L318.8,487.1 L319.1,487.7 L319.3,488.6 L319.5,487.2 L319.7,485.4 L319.9,487.1 L320.1,487.0 L320.3,485.6 L320.6,486.7 L320.8,487.2 L321.0,488.3 L321.2,486.3 L321.4,485.5 L321.6,486.5 L321.9,483.7 L322.1,484.5 L322.3,489.6 L322.5,486.6 L322.7,488.5 L322.9,487.0 L323.2,486.7 L323.4,487.5 L323.6,487.8 L323.8,487.9 L324.0,488.0 L324.2,488.3 L324.5,489.5 L324.7,487.8 L324.9,487.2 L325.1,487.4 L325.3,487.2 L325.5,488.1 L325.7,486.8 L326.0,485.9 L326.2,485.6 L326.4,488.2 L326.6,486.6 L326.8,487.2 L327.0,489.6 L327.3,488.7 L327.5,488.5 L327.7,486.6 L327.9,485.2 L328.1,485.5 L328.3,486.0 L328.6,483.4 L328.8,486.0 L329.0,487.3 L329.2,489.1 L329.4,488.5 L329.6,488.0 L329.9,488.5 L330.1,488.7 L330.3,487.8 L330.5,486.0 L330.7,485.7 L330.9,486.8 L331.1,487.7 L331.4,487.9 L331.6,487.5 L331.8,488.0 L332.0,487.2 L332.2,487.4 L332.4,487.5 L332.7,487.0 L332.9,487.0 L333.1,486.9 L333.3,488.5 L333.5,490.1 L333.7,488.5 L334.0,487.8 L334.2,485.7 L334.4,487.3 L334.6,486.3 L334.8,485.4 L335.0,484.8 L335.3,486.6 L335.5,487.9 L335.7,486.0 L335.9,484.3 L336.1,486.3 L336.3,485.0 L336.5,485.0 L336.8,486.7 L337.0,484.7 L337.2,485.0 L337.4,486.7 L337.6,483.1 L337.8,483.6 L338.1,485.0 L338.3,484.7 L338.5,483.3 L338.7,484.7 L338.9,486.4 L339.1,486.9 L339.4,486.4 L339.6,486.0 L339.8,485.3 L340.0,488.8 L340.2,486.9 L340.4,486.0 L340.7,483.5 L340.9,482.8 L341.1,484.0 L341.3,483.8 L341.5,484.3 L341.7,486.0 L341.9,485.8 L342.2,484.5 L342.4,485.1 L342.6,487.5 L342.8,486.5 L343.0,485.6 L343.2,486.4 L343.5,484.4 L343.7,483.8 L343.9,483.9 L344.1,487.9 L344.3,485.6 L344.5,484.2 L344.8,485.7 L345.0,485.1 L345.2,485.6 L345.4,485.3 L345.6,486.2 L345.8,484.2 L346.1,480.8 L346.3,480.9 L346.5,484.9 L346.7,485.3 L346.9,485.8 L347.1,483.8 L347.3,484.0 L347.6,483.5 L347.8,484.6 L348.0,485.3 L348.2,484.3 L348.4,486.0 L348.6,484.9 L348.9,483.6 L349.1,485.8 L349.3,488.2 L349.5,486.0 L349.7,482.9 L349.9,485.3 L350.2,488.4 L350.4,485.6 L350.6,483.3 L350.8,485.1 L351.0,485.0 L351.2,480.6 L351.5,483.3 L351.7,484.0 L351.9,485.8 L352.1,483.2 L352.3,483.6 L352.5,482.4 L352.7,482.7 L353.0,484.1 L353.2,484.2 L353.4,483.7 L353.6,480.8 L353.8,482.4 L354.0,482.4 L354.3,483.5 L354.5,486.5 L354.7,485.3 L354.9,480.4 L355.1,483.5 L355.3,485.8 L355.6,483.8 L355.8,483.3 L356.0,481.7 L356.2,484.4 L356.4,484.8 L356.6,483.6 L356.9,482.7 L357.1,483.5 L357.3,483.2 L357.5,484.0 L357.7,484.2 L357.9,484.3 L358.1,484.2 L358.4,483.0 L358.6,483.6 L358.8,481.2 L359.0,486.1 L359.2,487.5 L359.4,482.1 L359.7,484.2 L359.9,482.7 L360.1,482.6 L360.3,481.8 L360.5,480.5 L360.7,482.4 L361.0,482.4 L361.2,483.2 L361.4,482.8 L361.6,484.0 L361.8,481.6 L362.0,482.7 L362.3,483.9 L362.5,483.1 L362.7,482.5 L362.9,481.4 L363.1,484.0 L363.3,483.5 L363.5,481.8 L363.8,482.6 L364.0,482.2 L364.2,481.7 L364.4,482.8 L364.6,482.1 L364.8,483.8 L365.1,483.6 L365.3,482.0 L365.5,482.7 L365.7,482.9 L365.9,482.7 L366.1,481.7 L366.4,482.0 L366.6,481.2 L366.8,480.1 L367.0,478.9 L367.2,480.3 L367.4,477.6 L367.7,480.7 L367.9,481.7 L368.1,479.9 L368.3,480.3 L368.5,478.9 L368.7,480.9 L369.0,479.9 L369.2,479.1 L369.4,478.3 L369.6,476.3 L369.8,479.9 L370.0,479.7 L370.2,479.0 L370.5,478.1 L370.7,480.9 L370.9,481.3 L371.1,479.7 L371.3,478.7 L371.5,479.4 L371.8,479.5 L372.0,478.8 L372.2,477.5 L372.4,475.7 L372.6,478.2 L372.8,479.0 L373.1,477.5 L373.3,477.8 L373.5,475.5 L373.7,476.5 L373.9,475.5 L374.1,476.9 L374.4,475.3 L374.6,476.2 L374.8,476.1 L375.0,475.0 L375.2,474.7 L375.4,473.7 L375.6,473.7 L375.9,472.8 L376.1,473.0 L376.3,473.0 L376.5,471.5 L376.7,471.9 L376.9,471.9 L377.2,471.5 L377.4,470.3 L377.6,471.4 L377.8,471.5 L378.0,470.0 L378.2,469.5 L378.5,468.8 L378.7,467.3 L378.9,465.6 L379.1,466.4 L379.3,467.0 L379.5,467.4 L379.8,466.7 L380.0,466.6 L380.2,466.3 L380.4,464.6 L380.6,463.0 L380.8,462.9 L381.0,462.5 L381.3,462.2 L381.5,461.3 L381.7,461.0 L381.9,460.8 L382.1,458.8 L382.3,458.3 L382.6,457.5 L382.8,456.8 L383.0,453.8 L383.2,452.5 L383.4,452.6 L383.6,451.6 L383.9,449.8 L384.1,447.2 L384.3,445.4 L384.5,445.2 L384.7,444.5 L384.9,442.9 L385.2,440.5 L385.4,439.3 L385.6,438.3 L385.8,437.6 L386.0,437.2 L386.2,434.0 L386.4,431.9 L386.7,430.4 L386.9,429.9 L387.1,428.0 L387.3,427.5 L387.5,425.7 L387.7,422.9 L388.0,422.0 L388.2,421.8 L388.4,419.5 L388.6,420.3 L388.8,419.7 L389.4,475.1 L389.9,413.9 L390.1,414.1 L390.3,413.3 L390.6,414.5 L390.8,412.4 L391.0,412.3 L391.2,411.8 L391.4,412.0 L391.6,412.2 L391.8,412.4 L392.1,414.1 L392.3,415.1 L392.5,416.6 L392.7,418.1 L392.9,419.4 L393.1,422.5 L393.4,427.9 L393.6,431.1 L393.8,436.3 L394.0,441.6 L394.2,446.8 L394.4,453.9 L394.7,459.7 L394.9,465.9 L395.1,471.8 L395.3,477.3 L395.5,482.8 L395.7,488.0 L396.0,491.7 L396.2,495.8 L396.4,499.7 L396.6,504.3 L396.8,508.2 L397.0,512.7 L397.2,516.0 L397.5,519.2 L397.7,522.9 L397.9,526.9 L398.1,529.8 L398.3,534.6 L398.5,536.7 L398.8,539.9 L399.0,542.9 L399.2,545.2 L399.4,547.6 L399.6,550.0 L399.8,552.0 L400.1,553.7 L400.3,556.1 L400.5,558.8 L400.7,560.9 L400.9,562.0 L401.1,561.6 L401.4,564.8 L401.6,563.3 L401.8,564.0 L402.0,563.7 L402.2,561.1 L402.4,562.0 L402.6,561.7 L402.9,559.5 L403.1,557.2 L403.3,555.0 L403.5,554.1 L403.7,552.9 L403.9,551.5 L404.2,549.0 L404.4,547.1 L404.6,546.5 L404.8,546.2 L405.0,543.7 L405.2,541.6 L405.5,539.2 L405.7,537.5 L405.9,534.7 L406.1,534.1 L406.3,531.9 L406.5,529.1 L406.8,527.6 L407.0,526.3 L407.2,525.3 L407.4,523.9 L407.6,521.9 L407.8,520.5 L408.0,519.7 L408.3,518.5 L408.5,518.3 L408.7,515.8 L408.9,513.9 L409.1,514.3 L409.3,513.0 L409.6,512.5 L409.8,510.7 L410.0,510.0 L410.2,510.6 L410.4,508.9 L410.6,507.9 L410.9,507.2 L411.1,505.9 L411.3,506.0 L411.5,505.7 L411.7,502.6 L411.9,502.7 L412.2,501.5 L412.4,501.8 L412.6,501.6 L412.8,500.4 L413.0,500.4 L413.2,501.2 L413.4,500.2 L413.7,499.9 L413.9,498.7 L414.1,499.7 L414.3,498.6 L414.5,497.2 L414.7,497.6 L415.0,497.4 L415.2,498.7 L415.4,498.8 L415.6,495.6 L415.8,497.2 L416.0,496.3 L416.3,495.0 L416.5,494.5 L416.7,493.9 L416.9,493.9 L417.1,495.0 L417.3,494.6 L417.6,494.9 L417.8,495.9 L418.0,494.3 L418.2,493.9 L418.4,494.8 L418.6,495.1 L418.8,493.5 L419.1,493.2 L419.3,492.1 L419.5,488.7 L419.7,491.6 L419.9,492.4 L420.1,493.4 L420.4,492.1 L420.6,488.9 L420.8,490.2 L421.0,491.5 L421.2,489.7 L421.4,488.6 L421.7,491.6 L421.9,491.3 L422.1,492.1 L422.3,489.2 L422.5,491.5 L422.7,489.9 L423.0,488.9 L423.2,486.3 L423.4,489.2 L423.6,490.2 L423.8,491.4 L424.0,490.8 L424.3,489.4 L424.5,489.0 L424.7,492.6 L424.9,488.9 L425.1,489.5 L425.3,490.5 L425.5,488.3 L425.8,487.0 L426.0,487.0 L426.2,487.4 L426.4,488.6 L426.6,487.8 L426.8,487.9 L427.1,487.6 L427.3,488.4 L427.5,489.0 L427.7,488.0 L427.9,487.5 L428.1,488.8 L428.4,488.0 L428.6,488.7 L428.8,489.1 L429.0,487.9 L429.2,486.7 L429.4,486.3 L429.7,488.0 L429.9,488.2 L430.1,488.2 L430.3,486.7 L430.5,486.7 L430.7,486.0 L430.9,485.2 L431.2,486.8 L431.4,486.6 L431.6,483.9 L431.8,486.3 L432.0,487.0 L432.2,485.4 L432.5,485.5 L432.7,488.0 L432.9,487.7 L433.1,485.4 L433.3,483.0 L433.5,485.0 L433.8,486.9 L434.0,486.5 L434.2,486.9 L434.4,484.2 L434.6,483.2 L434.8,486.4 L435.1,486.6 L435.3,486.8 L435.5,484.5 L435.7,485.8 L435.9,485.6 L436.1,486.2 L436.3,485.6 L436.6,487.6 L436.8,485.9 L437.0,487.5 L437.2,485.0 L437.4,483.9 L437.6,484.0 L437.9,484.1 L438.1,483.5 L438.3,485.2 L438.5,486.6 L438.7,486.6 L438.9,485.3 L439.2,487.9 L439.4,486.5 L439.6,486.4 L439.8,485.8 L440.0,486.0 L440.2,486.5 L440.5,484.2 L440.7,484.3 L441.4,492.3 L442.0,485.1 L442.2,486.0 L442.4,485.3 L442.6,484.4 L442.8,485.5 L443.0,485.7 L443.3,486.1 L443.5,486.4 L443.7,485.7 L443.9,484.5 L444.1,485.4 L444.3,486.6 L444.6,485.6 L444.8,485.0 L445.0,484.7 L445.2,484.8 L445.4,485.5 L445.6,485.8 L445.9,484.7 L446.1,484.8 L446.3,484.1 L446.5,485.5 L446.7,484.6 L446.9,483.4 L447.1,485.9 L447.4,485.8 L447.6,483.7 L447.8,482.0 L448.0,484.4 L448.2,484.6 L448.4,484.4 L448.7,485.5 L448.9,483.5 L449.1,483.6 L449.3,484.6 L449.5,485.4 L449.7,482.6 L450.0,482.7 L450.2,482.6 L450.4,482.6 L450.6,483.7 L450.8,483.6 L451.0,483.3 L451.3,481.2 L451.5,483.7 L451.7,483.0 L451.9,484.4 L452.1,483.2 L452.3,485.3 L452.5,484.6 L452.8,482.9 L453.0,483.0 L453.2,483.1 L453.4,484.0 L453.6,484.1 L453.8,482.8 L454.1,482.0 L454.3,483.0 L454.5,483.3 L454.7,484.2 L454.9,485.2 L455.1,483.7 L455.4,483.2 L455.6,482.9 L455.8,484.5 L456.0,485.9 L456.2,485.3 L456.4,484.8 L456.7,484.1 L456.9,485.3 L457.1,486.8 L457.3,486.8 L457.5,485.7 L457.7,484.3 L457.9,484.5 L458.2,483.7 L458.4,484.7 L458.6,483.0 L458.8,485.0 L459.0,480.8 L459.2,481.2 L459.5,482.2 L459.7,482.0 L459.9,483.8 L460.1,486.7 L460.3,481.8 L460.5,480.9 L460.8,480.5 L461.0,482.2 L461.2,482.8 L461.4,482.2 L461.6,482.2 L461.8,481.5 L462.1,481.4 L462.3,479.8 L462.5,482.3 L462.7,482.3 L462.9,484.9 L463.1,482.6 L463.3,479.3 L463.6,482.3 L463.8,486.2 L464.0,484.2 L464.2,485.7 L464.4,484.2 L464.6,480.7 L464.9,482.0 L465.1,483.3 L465.3,484.2 L465.5,483.0 L465.7,482.5 L465.9,483.6 L466.2,483.1 L466.4,483.9 L466.6,482.7 L466.8,484.7 L467.0,486.2 L467.2,487.8 L467.5,484.9 L467.7,482.3 L467.9,482.7 L468.1,484.1 L468.3,485.6 L468.5,484.9 L468.7,485.0 L469.0,484.4 L469.2,484.2 L469.4,482.2 L469.6,482.1 L469.8,485.2 L470.0,483.6 L470.3,483.8 L470.5,485.6 L470.7,485.0 L470.9,486.5 L471.1,486.8 L471.3,486.0 L471.6,486.3 L471.8,485.6 L472.0,486.2 L472.2,484.4 L472.4,484.6 L472.6,484.9 L472.9,485.4 L473.1,484.5 L473.3,485.7 L473.5,485.3 L473.7,486.4 L473.9,488.3 L474.1,482.4 L474.4,485.8 L474.6,485.3 L474.8,485.0 L475.0,486.6 L475.2,487.4 L475.4,485.7 L475.7,486.1 L475.9,482.6 L476.1,485.4 L476.3,487.6 L476.5,485.4 L476.7,484.6 L477.0,484.5 L477.2,486.2 L477.4,487.8 L477.6,485.3 L477.8,485.4 L478.0,486.9 L478.3,486.6 L478.5,488.2 L478.7,484.7 L478.9,484.6 L479.1,485.8 L479.3,486.4 L479.6,486.8 L479.8,485.3 L480.0,486.3 L480.2,486.0 L480.4,485.5 L480.6,486.7 L480.8,487.2 L481.1,487.7 L481.3,486.8 L481.5,487.7 L481.7,486.0 L481.9,487.1 L482.1,485.5 L482.4,485.8 L482.6,487.1 L482.8,487.0 L483.0,487.5 L483.2,486.8 L483.4,487.0 L483.7,485.7 L483.9,485.0 L484.1,489.1 L484.3,486.0 L484.5,485.9 L484.7,488.4 L485.0,487.9 L485.2,486.9 L485.4,486.6 L485.6,486.0 L485.8,484.9 L486.0,487.3 L486.2,488.3 L486.5,488.3 L486.7,487.8 L486.9,486.6 L487.1,486.6 L487.3,487.4 L487.5,487.9 L487.8,487.0 L488.0,486.9 L488.2,485.9 L488.4,488.6 L488.6,486.9 L488.8,486.0 L489.1,488.4 L489.3,488.2 L489.5,489.3 L489.7,490.9 L489.9,489.3 L490.1,486.2 L490.4,486.7 L490.6,488.3 L490.8,488.2 L491.0,487.4 L491.2,488.3 L491.4,488.3 L491.6,488.9 L491.9,488.1 L492.1,487.6 L492.3,485.6 L492.5,486.4 L492.7,488.3 L492.9,487.7 L493.2,488.3 L493.4,485.9 L493.6,486.3 L493.8,486.8 L494.0,487.0 L494.2,487.2 L494.5,488.4 L494.7,487.7 L494.9,487.1 L495.1,486.5 L495.3,486.8 L495.5,487.8 L495.8,487.4 L496.0,483.4 L496.2,484.0 L496.4,487.2 L496.6,485.9 L496.8,484.0 L497.0,486.6 L497.3,487.7 L497.5,486.6 L497.7,487.3 L497.9,487.7 L498.1,487.8 L498.3,489.0 L498.6,488.2 L498.8,486.6 L499.0,484.9 L499.2,484.0 L499.4,487.4 L499.6,485.7 L499.9,486.2 L500.1,486.7 L500.3,486.8 L500.5,485.7 L500.7,482.6 L500.9,485.0 L501.2,488.7 L501.4,490.1 L501.6,487.1 L501.8,486.2" fill="none" stroke="#ff8a1e" stroke-width="0.8" stroke-linejoin="round"/>
<line x1="286.0" y1="486.17" x2="501.8" y2="486.17" stroke="#222" stroke-width="0.7" stroke-dasharray="1.7 1.3"/>
<path d="M286.0,408.8 H501.8 V574.6" fill="none" stroke="#777" stroke-width="0.9"/>
<path d="M286.0,408.35 V574.6 H502.25" fill="none" stroke="#828282" stroke-width="1.25"/>
<line x1="286.00" y1="574.6" x2="286.00" y2="577.6" stroke="#6e6e6e" stroke-width="1"/>
<text transform="translate(286.20,587.20) scale(0.93,1)" font-size="10.3" text-anchor="middle">3400</text>
<line x1="303.98" y1="574.6" x2="303.98" y2="576.8000000000001" stroke="#6e6e6e" stroke-width="1"/>
<line x1="321.97" y1="574.6" x2="321.97" y2="577.6" stroke="#6e6e6e" stroke-width="1"/>
<text transform="translate(322.16,587.20) scale(0.93,1)" font-size="10.3" text-anchor="middle">3420</text>
<line x1="339.95" y1="574.6" x2="339.95" y2="576.8000000000001" stroke="#6e6e6e" stroke-width="1"/>
<line x1="357.93" y1="574.6" x2="357.93" y2="577.6" stroke="#6e6e6e" stroke-width="1"/>
<text transform="translate(358.12,587.20) scale(0.93,1)" font-size="10.3" text-anchor="middle">3440</text>
<line x1="375.92" y1="574.6" x2="375.92" y2="576.8000000000001" stroke="#6e6e6e" stroke-width="1"/>
<line x1="393.90" y1="574.6" x2="393.90" y2="577.6" stroke="#6e6e6e" stroke-width="1"/>
<text transform="translate(394.08,587.20) scale(0.93,1)" font-size="10.3" text-anchor="middle">3460</text>
<line x1="411.88" y1="574.6" x2="411.88" y2="576.8000000000001" stroke="#6e6e6e" stroke-width="1"/>
<line x1="429.87" y1="574.6" x2="429.87" y2="577.6" stroke="#6e6e6e" stroke-width="1"/>
<text transform="translate(430.04,587.20) scale(0.93,1)" font-size="10.3" text-anchor="middle">3480</text>
<line x1="447.85" y1="574.6" x2="447.85" y2="576.8000000000001" stroke="#6e6e6e" stroke-width="1"/>
<line x1="465.83" y1="574.6" x2="465.83" y2="577.6" stroke="#6e6e6e" stroke-width="1"/>
<text transform="translate(466.00,587.20) scale(0.93,1)" font-size="10.3" text-anchor="middle">3500</text>
<line x1="483.82" y1="574.6" x2="483.82" y2="576.8000000000001" stroke="#6e6e6e" stroke-width="1"/>
<line x1="501.80" y1="574.6" x2="501.80" y2="577.6" stroke="#6e6e6e" stroke-width="1"/>
<text transform="translate(501.96,587.20) scale(0.93,1)" font-size="10.3" text-anchor="middle">3520</text>
<line x1="283.2" y1="574.60" x2="286.0" y2="574.60" stroke="#6e6e6e" stroke-width="1"/>
<text transform="translate(282.60,577.50) scale(0.93,1)" font-size="10.3" text-anchor="end">-1.6</text>
<line x1="283.2" y1="563.55" x2="286.0" y2="563.55" stroke="#6e6e6e" stroke-width="1"/>
<text transform="translate(282.60,567.15) scale(0.93,1)" font-size="10.3" text-anchor="end">-1.4</text>
<line x1="283.2" y1="552.49" x2="286.0" y2="552.49" stroke="#6e6e6e" stroke-width="1"/>
<text transform="translate(282.60,556.09) scale(0.93,1)" font-size="10.3" text-anchor="end">-1.2</text>
<line x1="283.2" y1="541.44" x2="286.0" y2="541.44" stroke="#6e6e6e" stroke-width="1"/>
<text transform="translate(282.60,545.04) scale(0.93,1)" font-size="10.3" text-anchor="end">-1.0</text>
<line x1="283.2" y1="530.39" x2="286.0" y2="530.39" stroke="#6e6e6e" stroke-width="1"/>
<text transform="translate(282.60,533.99) scale(0.93,1)" font-size="10.3" text-anchor="end">-0.8</text>
<line x1="283.2" y1="519.33" x2="286.0" y2="519.33" stroke="#6e6e6e" stroke-width="1"/>
<text transform="translate(282.60,522.93) scale(0.93,1)" font-size="10.3" text-anchor="end">-0.6</text>
<line x1="283.2" y1="508.28" x2="286.0" y2="508.28" stroke="#6e6e6e" stroke-width="1"/>
<text transform="translate(282.60,511.88) scale(0.93,1)" font-size="10.3" text-anchor="end">-0.4</text>
<line x1="283.2" y1="497.23" x2="286.0" y2="497.23" stroke="#6e6e6e" stroke-width="1"/>
<text transform="translate(282.60,500.83) scale(0.93,1)" font-size="10.3" text-anchor="end">-0.2</text>
<line x1="283.2" y1="486.17" x2="286.0" y2="486.17" stroke="#6e6e6e" stroke-width="1"/>
<text transform="translate(282.60,489.77) scale(0.93,1)" font-size="10.3" text-anchor="end">0</text>
<line x1="283.2" y1="475.12" x2="286.0" y2="475.12" stroke="#6e6e6e" stroke-width="1"/>
<text transform="translate(282.60,478.72) scale(0.93,1)" font-size="10.3" text-anchor="end">0.2</text>
<line x1="283.2" y1="464.07" x2="286.0" y2="464.07" stroke="#6e6e6e" stroke-width="1"/>
<text transform="translate(282.60,467.67) scale(0.93,1)" font-size="10.3" text-anchor="end">0.4</text>
<line x1="283.2" y1="453.01" x2="286.0" y2="453.01" stroke="#6e6e6e" stroke-width="1"/>
<text transform="translate(282.60,456.61) scale(0.93,1)" font-size="10.3" text-anchor="end">0.6</text>
<line x1="283.2" y1="441.96" x2="286.0" y2="441.96" stroke="#6e6e6e" stroke-width="1"/>
<text transform="translate(282.60,445.56) scale(0.93,1)" font-size="10.3" text-anchor="end">0.8</text>
<line x1="283.2" y1="430.91" x2="286.0" y2="430.91" stroke="#6e6e6e" stroke-width="1"/>
<text transform="translate(282.60,434.51) scale(0.93,1)" font-size="10.3" text-anchor="end">1.0</text>
<line x1="283.2" y1="419.85" x2="286.0" y2="419.85" stroke="#6e6e6e" stroke-width="1"/>
<text transform="translate(282.60,423.45) scale(0.93,1)" font-size="10.3" text-anchor="end">1.2</text>
<line x1="283.2" y1="408.80" x2="286.0" y2="408.80" stroke="#6e6e6e" stroke-width="1"/>
<text transform="translate(282.60,412.40) scale(0.93,1)" font-size="10.3" text-anchor="end">1.4</text>
<text transform="translate(394.40,600.30) scale(0.98,1)" font-size="11.9" text-anchor="middle">Magnetic Field (G)</text>
<text transform="translate(262.80,486.40) scale(0.9,1) rotate(-90)" font-size="11.4" text-anchor="middle">Intensity</text>
<text transform="translate(290.00,422.00) scale(0.95,1)" font-size="12.3" text-anchor="start">(h)</text>
<text transform="translate(479.90,422.50) scale(0.96,1)" font-size="11.7" text-anchor="start">1 h</text>
<path d="M532.1,556.4 L532.7,556.5 L533.2,556.7 L533.8,556.9 L534.3,557.0 L534.9,557.1 L535.4,557.3 L536.0,557.4 L536.5,557.5 L537.1,557.6 L537.6,557.7 L538.2,557.8 L538.7,557.9 L539.3,557.9 L539.8,558.0 L540.4,558.0 L540.9,558.0 L541.5,558.0 L542.0,558.0 L542.6,558.0 L543.1,557.9 L543.7,557.9 L544.2,557.8 L544.8,557.7 L545.3,557.7 L545.9,557.6 L546.4,557.5 L547.0,557.5 L547.6,557.4 L548.1,557.3 L548.7,557.3 L549.2,557.2 L549.8,557.2 L550.3,557.2 L550.9,557.2 L551.4,557.3 L552.0,557.3 L552.5,557.5 L553.1,557.6 L553.6,557.8 L554.2,558.0 L554.7,558.2 L555.3,558.4 L555.8,558.6 L556.4,558.8 L556.9,559.0 L557.5,559.2 L558.0,559.3 L558.6,559.5 L559.1,559.6 L559.7,559.7 L560.2,559.8 L560.8,559.8 L561.3,559.9 L561.9,559.9 L562.5,560.0 L563.0,560.0 L563.6,560.1 L564.1,560.1 L564.7,560.2 L565.2,560.2 L565.8,560.3 L566.3,560.3 L566.9,560.3 L567.4,560.4 L568.0,560.4 L568.5,560.5 L569.1,560.5 L569.6,560.6 L570.2,560.6 L570.7,560.7 L571.3,560.8 L571.8,560.8 L572.4,560.9 L572.9,560.9 L573.5,561.0 L574.0,561.0 L574.6,561.1 L575.1,561.1 L575.7,561.2 L576.3,561.2 L576.8,561.3 L577.4,561.3 L577.9,561.3 L578.5,561.4 L579.0,561.4 L579.6,561.4 L580.1,561.4 L580.7,561.5 L581.2,561.5 L581.8,561.5 L582.3,561.6 L582.9,561.6 L583.4,561.6 L584.0,561.6 L584.5,561.6 L585.1,561.6 L585.6,561.7 L586.2,561.7 L586.7,561.7 L587.3,561.7 L587.8,561.6 L588.4,561.6 L588.9,561.5 L589.5,561.4 L590.0,561.3 L590.6,561.2 L591.2,561.1 L591.7,561.0 L592.3,560.9 L592.8,560.8 L593.4,560.7 L593.9,560.6 L594.5,560.4 L595.0,560.3 L595.6,560.2 L596.1,560.0 L596.7,559.9 L597.2,559.7 L597.8,559.6 L598.3,559.4 L598.9,559.3 L599.4,559.1 L600.0,558.9 L600.5,558.8 L601.1,558.6 L601.6,558.4 L602.2,558.2 L602.7,558.1 L603.3,557.9 L603.8,557.7 L604.4,557.5 L604.9,557.4 L605.5,557.2 L606.1,557.0 L606.6,556.9 L607.2,556.8 L607.7,556.6 L608.3,556.5 L608.8,556.3 L609.4,556.2 L609.9,556.0 L610.5,555.9 L611.0,555.7 L611.6,555.5 L612.1,555.3 L612.7,555.0 L613.2,554.7 L613.8,554.4 L614.3,554.0 L614.9,553.6 L615.4,553.2 L616.0,552.8 L616.5,552.3 L617.1,551.8 L617.6,551.3 L618.2,550.7 L618.7,550.1 L619.3,549.4 L619.8,548.7 L620.4,547.9 L621.0,547.1 L621.5,546.2 L622.1,545.2 L622.6,544.1 L623.2,542.9 L623.7,541.6 L624.3,540.2 L624.8,538.7 L625.4,537.2 L625.9,535.4 L626.5,533.5 L627.0,531.4 L627.6,529.3 L628.1,527.0 L628.7,524.7 L629.2,522.2 L629.8,519.6 L630.3,516.7 L630.9,513.6 L631.4,510.2 L632.0,506.6 L632.5,503.1 L633.1,499.7 L633.6,496.3 L634.2,492.6 L634.7,488.7 L635.3,484.2 L635.9,479.3 L636.4,474.3 L637.0,469.3 L637.5,464.6 L638.1,460.1 L638.6,455.6 L639.2,451.0 L639.7,446.3 L640.3,441.2 L640.8,435.5 L641.4,429.8 L641.9,424.4 L642.5,419.8 L643.0,415.3 L643.6,412.6 L644.1,411.2 L644.7,411.6 L645.2,413.5 L645.8,416.4 L646.3,421.2 L646.9,426.3 L647.4,431.3 L648.0,436.5 L648.5,442.0 L649.1,447.6 L649.7,453.6 L650.2,459.9 L650.8,466.2 L651.3,472.4 L651.9,478.4 L652.4,484.1 L653.0,489.3 L653.5,494.3 L654.1,499.0 L654.6,503.6 L655.2,508.2 L655.7,512.7 L656.3,517.0 L656.8,521.0 L657.4,524.8 L657.9,528.4 L658.5,531.8 L659.0,534.8 L659.6,537.4 L660.1,539.8 L660.7,541.9 L661.2,543.8 L661.8,545.5 L662.3,547.0 L662.9,548.5 L663.4,549.8 L664.0,550.9 L664.6,552.0 L665.1,553.0 L665.7,553.9 L666.2,554.8 L666.8,555.5 L667.3,556.2 L667.9,556.7 L668.4,557.2 L669.0,557.6 L669.5,558.0 L670.1,558.3 L670.6,558.7 L671.2,559.0 L671.7,559.3 L672.3,559.6 L672.8,559.9 L673.4,560.1 L673.9,560.4 L674.5,560.6 L675.0,560.7 L675.6,560.8 L676.1,561.0 L676.7,561.1 L677.2,561.1 L677.8,561.2 L678.3,561.3 L678.9,561.4 L679.5,561.5 L680.0,561.7 L680.6,561.9 L681.1,562.1 L681.7,562.3 L682.2,562.5 L682.8,562.7 L683.3,562.9 L683.9,563.0 L684.4,563.0 L685.0,563.0 L685.5,562.9 L686.1,562.9 L686.6,562.8 L687.2,562.7 L687.7,562.7 L688.3,562.6 L688.8,562.5 L689.4,562.5 L689.9,562.5 L690.5,562.5 L691.0,562.6 L691.6,562.7 L692.1,562.8 L692.7,562.9 L693.2,563.0 L693.8,563.0 L694.4,563.0 L694.9,562.9 L695.5,562.8 L696.0,562.6 L696.6,562.5 L697.1,562.3 L697.7,562.1 L698.2,561.9 L698.8,561.8 L699.3,561.6 L699.9,561.4 L700.4,561.2 L701.0,561.1 L701.5,560.9 L702.1,560.7 L702.6,560.4 L703.2,560.2 L703.7,560.0 L704.3,559.8 L704.8,559.5 L705.4,559.3 L705.9,559.1 L706.5,558.8 L707.0,558.5 L707.6,558.2 L708.1,557.8 L708.7,557.5 L709.3,557.1 L709.8,556.7 L710.4,556.4 L710.9,556.2 L711.5,556.1 L712.0,556.0 L712.6,556.1 L713.1,556.1 L713.7,556.2 L714.2,556.3 L714.8,556.3 L715.3,556.4 L715.9,556.4 L716.4,556.3 L717.0,556.2 L717.5,556.0 L718.1,555.8 L718.6,555.6 L719.2,555.4 L719.7,555.2 L720.3,554.9 L720.8,554.8 L721.4,554.6 L721.9,554.5 L722.5,554.3 L723.1,554.2 L723.6,554.0 L724.2,553.9 L724.7,553.8 L725.3,553.7 L725.8,553.6 L726.4,553.5 L726.9,553.6 L727.5,553.6 L728.0,553.8 L728.6,553.9 L729.1,554.1 L729.7,554.4 L730.2,554.6 L730.8,554.9 L731.3,555.2 L731.9,555.4 L732.4,555.7 L733.0,556.0 L733.5,556.3 L734.1,556.6 L734.6,556.9 L735.2,557.2 L735.7,557.5 L736.3,557.8 L736.8,558.1 L737.4,558.3 L738.0,558.4 L738.5,558.6 L739.1,558.7 L739.6,558.9 L740.2,559.0 L740.7,559.1 L741.3,559.2 L741.8,559.3 L742.4,559.4 L742.9,559.5 L743.5,559.5 L744.0,559.6 L744.6,559.6 L745.1,559.7 L745.7,559.7 L746.2,559.8 L746.8,559.8 L747.3,559.8 L747.9,559.9 L748.4,559.9 L749.0,559.9 L749.5,560.0 L750.1,560.0 L750.6,560.0 L751.2,560.0 L751.7,560.0 L752.3,560.0" fill="none" stroke="#ff8a1e" stroke-width="0.8" stroke-linejoin="round"/>
<path d="M532.1,554.7 L532.7,554.9 L533.2,555.1 L533.8,555.3 L534.3,555.4 L534.9,555.6 L535.4,555.8 L536.0,555.9 L536.5,556.1 L537.1,556.2 L537.6,556.4 L538.2,556.5 L538.7,556.6 L539.3,556.8 L539.8,556.9 L540.4,557.0 L540.9,557.2 L541.5,557.3 L542.0,557.4 L542.6,557.5 L543.1,557.6 L543.7,557.6 L544.2,557.7 L544.8,557.7 L545.3,557.7 L545.9,557.6 L546.4,557.6 L547.0,557.5 L547.6,557.5 L548.1,557.4 L548.7,557.3 L549.2,557.3 L549.8,557.2 L550.3,557.2 L550.9,557.2 L551.4,557.3 L552.0,557.4 L552.5,557.6 L553.1,557.9 L553.6,558.1 L554.2,558.4 L554.7,558.7 L555.3,558.9 L555.8,559.2 L556.4,559.4 L556.9,559.5 L557.5,559.6 L558.0,559.7 L558.6,559.7 L559.1,559.8 L559.7,559.8 L560.2,559.8 L560.8,559.8 L561.3,559.8 L561.9,559.9 L562.5,559.9 L563.0,559.9 L563.6,559.9 L564.1,559.9 L564.7,560.0 L565.2,560.0 L565.8,560.1 L566.3,560.1 L566.9,560.2 L567.4,560.3 L568.0,560.4 L568.5,560.5 L569.1,560.6 L569.6,560.7 L570.2,560.8 L570.7,561.0 L571.3,561.1 L571.8,561.2 L572.4,561.3 L572.9,561.4 L573.5,561.6 L574.0,561.7 L574.6,561.9 L575.1,562.1 L575.7,562.2 L576.3,562.4 L576.8,562.5 L577.4,562.7 L577.9,562.8 L578.5,562.9 L579.0,563.0 L579.6,563.0 L580.1,563.0 L580.7,563.0 L581.2,563.0 L581.8,563.0 L582.3,563.0 L582.9,563.0 L583.4,563.0 L584.0,563.0 L584.5,563.0 L585.1,563.5 L585.6,564.2 L586.2,564.6 L586.7,564.3 L587.3,563.6 L587.8,562.9 L588.4,562.5 L588.9,562.2 L589.5,562.0 L590.0,561.8 L590.6,561.6 L591.2,561.4 L591.7,561.2 L592.3,561.0 L592.8,560.8 L593.4,560.6 L593.9,560.4 L594.5,560.2 L595.0,560.0 L595.6,559.8 L596.1,559.6 L596.7,559.4 L597.2,559.3 L597.8,559.1 L598.3,558.9 L598.9,558.7 L599.4,558.5 L600.0,558.4 L600.5,558.2 L601.1,558.0 L601.6,557.8 L602.2,557.7 L602.7,557.5 L603.3,557.3 L603.8,557.1 L604.4,556.9 L604.9,556.7 L605.5,556.5 L606.1,556.3 L606.6,556.1 L607.2,555.8 L607.7,555.6 L608.3,555.4 L608.8,555.1 L609.4,554.9 L609.9,554.6 L610.5,554.3 L611.0,554.0 L611.6,553.7 L612.1,553.3 L612.7,552.9 L613.2,552.5 L613.8,551.9 L614.3,551.4 L614.9,550.7 L615.4,550.0 L616.0,549.3 L616.5,548.6 L617.1,547.8 L617.6,547.1 L618.2,546.3 L618.7,545.4 L619.3,544.4 L619.8,543.4 L620.4,542.4 L621.0,541.3 L621.5,540.1 L622.1,538.9 L622.6,537.5 L623.2,536.1 L623.7,534.6 L624.3,533.0 L624.8,531.4 L625.4,529.7 L625.9,527.9 L626.5,525.9 L627.0,523.9 L627.6,521.8 L628.1,519.6 L628.7,517.2 L629.2,514.7 L629.8,512.1 L630.3,509.3 L630.9,506.5 L631.4,503.6 L632.0,500.5 L632.5,497.2 L633.1,493.5 L633.6,489.5 L634.2,485.5 L634.7,481.6 L635.3,477.8 L635.9,473.9 L636.4,469.9 L637.0,465.9 L637.5,461.9 L638.1,457.9 L638.6,453.9 L639.2,449.7 L639.7,445.4 L640.3,440.7 L640.8,435.7 L641.4,430.6 L641.9,425.8 L642.5,421.6 L643.0,417.6 L643.6,415.2 L644.1,413.9 L644.7,414.2 L645.2,416.0 L645.8,418.6 L646.3,422.7 L646.9,427.2 L647.4,431.8 L648.0,436.8 L648.5,442.1 L649.1,447.6 L649.7,453.5 L650.2,459.7 L650.8,466.1 L651.3,472.4 L651.9,478.4 L652.4,484.1 L653.0,489.3 L653.5,494.3 L654.1,499.0 L654.6,503.6 L655.2,508.2 L655.7,512.7 L656.3,517.0 L656.8,521.0 L657.4,524.8 L657.9,528.4 L658.5,531.8 L659.0,534.8 L659.6,537.4 L660.1,539.8 L660.7,541.9 L661.2,543.8 L661.8,545.5 L662.3,547.0 L662.9,548.5 L663.4,549.8 L664.0,550.9 L664.6,552.0 L665.1,553.0 L665.7,553.9 L666.2,554.8 L666.8,555.5 L667.3,556.2 L667.9,556.7 L668.4,557.2 L669.0,557.6 L669.5,558.0 L670.1,558.4 L670.6,558.6 L671.2,558.9 L671.7,559.1 L672.3,559.3 L672.8,559.4 L673.4,559.6 L673.9,559.8 L674.5,559.9 L675.0,560.1 L675.6,560.2 L676.1,560.4 L676.7,560.5 L677.2,560.6 L677.8,560.8 L678.3,560.9 L678.9,561.0 L679.5,561.0 L680.0,561.1 L680.6,561.1 L681.1,561.2 L681.7,561.2 L682.2,561.3 L682.8,561.3 L683.3,561.3 L683.9,561.3 L684.4,561.3 L685.0,561.3 L685.5,561.1 L686.1,560.8 L686.6,560.4 L687.2,560.0 L687.7,559.6 L688.3,559.1 L688.8,558.7 L689.4,558.3 L689.9,558.0 L690.5,557.7 L691.0,557.4 L691.6,557.2 L692.1,557.4 L692.7,558.1 L693.2,558.7 L693.8,558.8 L694.4,558.8 L694.9,558.8 L695.5,558.7 L696.0,558.6 L696.6,558.5 L697.1,558.4 L697.7,558.3 L698.2,558.2 L698.8,558.1 L699.3,558.0 L699.9,557.9 L700.4,557.7 L701.0,557.6 L701.5,557.4 L702.1,557.3 L702.6,557.1 L703.2,556.9 L703.7,556.7 L704.3,556.5 L704.8,556.3 L705.4,556.0 L705.9,555.7 L706.5,555.3 L707.0,554.9 L707.6,554.5 L708.1,554.1 L708.7,553.8 L709.3,553.5 L709.8,553.2 L710.4,552.9 L710.9,552.7 L711.5,552.5 L712.0,552.3 L712.6,552.0 L713.1,551.8 L713.7,551.7 L714.2,551.5 L714.8,551.4 L715.3,551.4 L715.9,551.4 L716.4,551.4 L717.0,551.5 L717.5,551.6 L718.1,551.6 L718.6,551.8 L719.2,551.9 L719.7,552.0 L720.3,552.1 L720.8,552.2 L721.4,552.3 L721.9,552.3 L722.5,552.4 L723.1,552.5 L723.6,552.5 L724.2,552.6 L724.7,552.7 L725.3,552.8 L725.8,552.9 L726.4,553.0 L726.9,553.1 L727.5,553.3 L728.0,553.6 L728.6,553.9 L729.1,554.2 L729.7,554.6 L730.2,555.0 L730.8,555.4 L731.3,555.8 L731.9,556.2 L732.4,556.6 L733.0,557.0 L733.5,557.5 L734.1,557.9 L734.6,558.4 L735.2,558.9 L735.7,559.3 L736.3,559.7 L736.8,560.1 L737.4,560.4 L738.0,560.6 L738.5,560.9 L739.1,561.1 L739.6,561.3 L740.2,561.4 L740.7,561.6 L741.3,561.7 L741.8,561.9 L742.4,562.0 L742.9,562.1 L743.5,562.2 L744.0,562.3 L744.6,562.4 L745.1,562.5 L745.7,562.6 L746.2,562.6 L746.8,562.7 L747.3,562.8 L747.9,562.9 L748.4,563.0 L749.0,563.1 L749.5,563.2 L750.1,563.3 L750.6,563.4 L751.2,563.5 L751.7,563.7 L752.3,563.8" fill="none" stroke="#1fa42d" stroke-width="0.8" stroke-linejoin="round"/>
<line x1="532.1" y1="558.02" x2="752.3" y2="558.02" stroke="#555" stroke-width="0.7" stroke-dasharray="1.45 1.4"/>
<path d="M532.1,408.8 H752.3 V574.6" fill="none" stroke="#777" stroke-width="0.9"/>
<path d="M532.1,408.35 V574.6 H752.75" fill="none" stroke="#828282" stroke-width="1.25"/>
<line x1="532.10" y1="574.6" x2="532.10" y2="577.6" stroke="#6e6e6e" stroke-width="1"/>
<text transform="translate(533.30,587.20) scale(0.93,1)" font-size="10.3" text-anchor="middle">3400</text>
<line x1="550.45" y1="574.6" x2="550.45" y2="576.8000000000001" stroke="#6e6e6e" stroke-width="1"/>
<line x1="568.80" y1="574.6" x2="568.80" y2="577.6" stroke="#6e6e6e" stroke-width="1"/>
<text transform="translate(569.26,587.20) scale(0.93,1)" font-size="10.3" text-anchor="middle">3420</text>
<line x1="587.15" y1="574.6" x2="587.15" y2="576.8000000000001" stroke="#6e6e6e" stroke-width="1"/>
<line x1="605.50" y1="574.6" x2="605.50" y2="577.6" stroke="#6e6e6e" stroke-width="1"/>
<text transform="translate(605.22,587.20) scale(0.93,1)" font-size="10.3" text-anchor="middle">3440</text>
<line x1="623.85" y1="574.6" x2="623.85" y2="576.8000000000001" stroke="#6e6e6e" stroke-width="1"/>
<line x1="642.20" y1="574.6" x2="642.20" y2="577.6" stroke="#6e6e6e" stroke-width="1"/>
<text transform="translate(641.18,587.20) scale(0.93,1)" font-size="10.3" text-anchor="middle">3460</text>
<line x1="660.55" y1="574.6" x2="660.55" y2="576.8000000000001" stroke="#6e6e6e" stroke-width="1"/>
<line x1="678.90" y1="574.6" x2="678.90" y2="577.6" stroke="#6e6e6e" stroke-width="1"/>
<text transform="translate(677.14,587.20) scale(0.93,1)" font-size="10.3" text-anchor="middle">3480</text>
<line x1="697.25" y1="574.6" x2="697.25" y2="576.8000000000001" stroke="#6e6e6e" stroke-width="1"/>
<line x1="715.60" y1="574.6" x2="715.60" y2="577.6" stroke="#6e6e6e" stroke-width="1"/>
<text transform="translate(713.10,587.20) scale(0.93,1)" font-size="10.3" text-anchor="middle">3500</text>
<line x1="733.95" y1="574.6" x2="733.95" y2="576.8000000000001" stroke="#6e6e6e" stroke-width="1"/>
<line x1="752.30" y1="574.6" x2="752.30" y2="577.6" stroke="#6e6e6e" stroke-width="1"/>
<text transform="translate(749.06,587.20) scale(0.93,1)" font-size="10.3" text-anchor="middle">3520</text>
<line x1="529.3000000000001" y1="574.60" x2="532.1" y2="574.60" stroke="#6e6e6e" stroke-width="1"/>
<text transform="translate(528.70,577.50) scale(0.93,1)" font-size="10.3" text-anchor="end">-1</text>
<line x1="529.3000000000001" y1="558.02" x2="532.1" y2="558.02" stroke="#6e6e6e" stroke-width="1"/>
<text transform="translate(528.70,561.62) scale(0.93,1)" font-size="10.3" text-anchor="end">0</text>
<line x1="529.3000000000001" y1="541.44" x2="532.1" y2="541.44" stroke="#6e6e6e" stroke-width="1"/>
<text transform="translate(528.70,545.04) scale(0.93,1)" font-size="10.3" text-anchor="end">1</text>
<line x1="529.3000000000001" y1="524.86" x2="532.1" y2="524.86" stroke="#6e6e6e" stroke-width="1"/>
<text transform="translate(528.70,528.46) scale(0.93,1)" font-size="10.3" text-anchor="end">2</text>
<line x1="529.3000000000001" y1="508.28" x2="532.1" y2="508.28" stroke="#6e6e6e" stroke-width="1"/>
<text transform="translate(528.70,511.88) scale(0.93,1)" font-size="10.3" text-anchor="end">3</text>
<line x1="529.3000000000001" y1="491.70" x2="532.1" y2="491.70" stroke="#6e6e6e" stroke-width="1"/>
<text transform="translate(528.70,495.30) scale(0.93,1)" font-size="10.3" text-anchor="end">4</text>
<line x1="529.3000000000001" y1="475.12" x2="532.1" y2="475.12" stroke="#6e6e6e" stroke-width="1"/>
<text transform="translate(528.70,478.72) scale(0.93,1)" font-size="10.3" text-anchor="end">5</text>
<line x1="529.3000000000001" y1="458.54" x2="532.1" y2="458.54" stroke="#6e6e6e" stroke-width="1"/>
<text transform="translate(528.70,462.14) scale(0.93,1)" font-size="10.3" text-anchor="end">6</text>
<line x1="529.3000000000001" y1="441.96" x2="532.1" y2="441.96" stroke="#6e6e6e" stroke-width="1"/>
<text transform="translate(528.70,445.56) scale(0.93,1)" font-size="10.3" text-anchor="end">7</text>
<line x1="529.3000000000001" y1="425.38" x2="532.1" y2="425.38" stroke="#6e6e6e" stroke-width="1"/>
<text transform="translate(528.70,428.98) scale(0.93,1)" font-size="10.3" text-anchor="end">8</text>
<line x1="529.3000000000001" y1="408.80" x2="532.1" y2="408.80" stroke="#6e6e6e" stroke-width="1"/>
<text transform="translate(528.70,412.40) scale(0.93,1)" font-size="10.3" text-anchor="end">9</text>
<text transform="translate(641.50,600.30) scale(0.98,1)" font-size="11.9" text-anchor="middle">Magnetic Field (G)</text>
<text transform="translate(516.40,486.30) scale(0.9,1) rotate(-90)" font-size="11.4" text-anchor="middle">Intensity</text>
<text transform="translate(537.90,422.00) scale(0.95,1)" font-size="12.3" text-anchor="start">(i)</text>
<text transform="translate(596.70,496.20) scale(0.96,1)" font-size="11.7" text-anchor="start">5 min</text>
<text transform="translate(602.20,525.90) scale(0.96,1)" font-size="11.7" text-anchor="start">1 h</text>
<line x1="617.50" y1="499.60" x2="629.00" y2="512.20" stroke="#555" stroke-width="0.8"/>
<line x1="616.50" y1="531.40" x2="623.90" y2="539.80" stroke="#555" stroke-width="0.8"/>
</svg>
</body></html>
